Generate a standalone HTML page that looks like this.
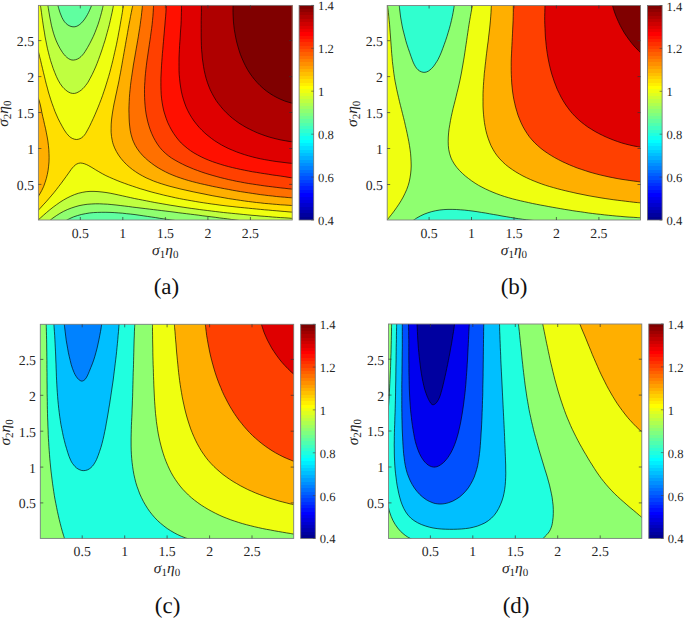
<!DOCTYPE html>
<html><head><meta charset="utf-8"><style>
html,body{margin:0;padding:0;background:#fff;}
svg{display:block;}
text{font-family:"Liberation Serif",serif;fill:#262626;text-rendering:geometricPrecision;}
.tl{font-size:13.8px;}
.al{font-size:15.5px;}
.cbl{font-size:12.6px;}
.cap{font-size:23px;fill:#111;}
</style></head><body>
<svg width="685" height="619" viewBox="0 0 685 619">
<defs><linearGradient id="jetg" x1="0" y1="0" x2="0" y2="1"><stop offset="0.0000" stop-color="#800000"/><stop offset="0.0156" stop-color="#800000"/><stop offset="0.0156" stop-color="#8F0000"/><stop offset="0.0312" stop-color="#8F0000"/><stop offset="0.0312" stop-color="#9F0000"/><stop offset="0.0469" stop-color="#9F0000"/><stop offset="0.0469" stop-color="#AF0000"/><stop offset="0.0625" stop-color="#AF0000"/><stop offset="0.0625" stop-color="#BF0000"/><stop offset="0.0781" stop-color="#BF0000"/><stop offset="0.0781" stop-color="#CF0000"/><stop offset="0.0938" stop-color="#CF0000"/><stop offset="0.0938" stop-color="#DF0000"/><stop offset="0.1094" stop-color="#DF0000"/><stop offset="0.1094" stop-color="#EF0000"/><stop offset="0.1250" stop-color="#EF0000"/><stop offset="0.1250" stop-color="#FF0000"/><stop offset="0.1406" stop-color="#FF0000"/><stop offset="0.1406" stop-color="#FF1000"/><stop offset="0.1562" stop-color="#FF1000"/><stop offset="0.1562" stop-color="#FF2000"/><stop offset="0.1719" stop-color="#FF2000"/><stop offset="0.1719" stop-color="#FF3000"/><stop offset="0.1875" stop-color="#FF3000"/><stop offset="0.1875" stop-color="#FF4000"/><stop offset="0.2031" stop-color="#FF4000"/><stop offset="0.2031" stop-color="#FF5000"/><stop offset="0.2188" stop-color="#FF5000"/><stop offset="0.2188" stop-color="#FF6000"/><stop offset="0.2344" stop-color="#FF6000"/><stop offset="0.2344" stop-color="#FF7000"/><stop offset="0.2500" stop-color="#FF7000"/><stop offset="0.2500" stop-color="#FF8000"/><stop offset="0.2656" stop-color="#FF8000"/><stop offset="0.2656" stop-color="#FF8F00"/><stop offset="0.2812" stop-color="#FF8F00"/><stop offset="0.2812" stop-color="#FF9F00"/><stop offset="0.2969" stop-color="#FF9F00"/><stop offset="0.2969" stop-color="#FFAF00"/><stop offset="0.3125" stop-color="#FFAF00"/><stop offset="0.3125" stop-color="#FFBF00"/><stop offset="0.3281" stop-color="#FFBF00"/><stop offset="0.3281" stop-color="#FFCF00"/><stop offset="0.3438" stop-color="#FFCF00"/><stop offset="0.3438" stop-color="#FFDF00"/><stop offset="0.3594" stop-color="#FFDF00"/><stop offset="0.3594" stop-color="#FFEF00"/><stop offset="0.3750" stop-color="#FFEF00"/><stop offset="0.3750" stop-color="#FFFF00"/><stop offset="0.3906" stop-color="#FFFF00"/><stop offset="0.3906" stop-color="#EFFF10"/><stop offset="0.4062" stop-color="#EFFF10"/><stop offset="0.4062" stop-color="#DFFF20"/><stop offset="0.4219" stop-color="#DFFF20"/><stop offset="0.4219" stop-color="#CFFF30"/><stop offset="0.4375" stop-color="#CFFF30"/><stop offset="0.4375" stop-color="#BFFF40"/><stop offset="0.4531" stop-color="#BFFF40"/><stop offset="0.4531" stop-color="#AFFF50"/><stop offset="0.4688" stop-color="#AFFF50"/><stop offset="0.4688" stop-color="#9FFF60"/><stop offset="0.4844" stop-color="#9FFF60"/><stop offset="0.4844" stop-color="#8FFF70"/><stop offset="0.5000" stop-color="#8FFF70"/><stop offset="0.5000" stop-color="#80FF80"/><stop offset="0.5156" stop-color="#80FF80"/><stop offset="0.5156" stop-color="#70FF8F"/><stop offset="0.5312" stop-color="#70FF8F"/><stop offset="0.5312" stop-color="#60FF9F"/><stop offset="0.5469" stop-color="#60FF9F"/><stop offset="0.5469" stop-color="#50FFAF"/><stop offset="0.5625" stop-color="#50FFAF"/><stop offset="0.5625" stop-color="#40FFBF"/><stop offset="0.5781" stop-color="#40FFBF"/><stop offset="0.5781" stop-color="#30FFCF"/><stop offset="0.5938" stop-color="#30FFCF"/><stop offset="0.5938" stop-color="#20FFDF"/><stop offset="0.6094" stop-color="#20FFDF"/><stop offset="0.6094" stop-color="#10FFEF"/><stop offset="0.6250" stop-color="#10FFEF"/><stop offset="0.6250" stop-color="#00FFFF"/><stop offset="0.6406" stop-color="#00FFFF"/><stop offset="0.6406" stop-color="#00EFFF"/><stop offset="0.6562" stop-color="#00EFFF"/><stop offset="0.6562" stop-color="#00DFFF"/><stop offset="0.6719" stop-color="#00DFFF"/><stop offset="0.6719" stop-color="#00CFFF"/><stop offset="0.6875" stop-color="#00CFFF"/><stop offset="0.6875" stop-color="#00BFFF"/><stop offset="0.7031" stop-color="#00BFFF"/><stop offset="0.7031" stop-color="#00AFFF"/><stop offset="0.7188" stop-color="#00AFFF"/><stop offset="0.7188" stop-color="#009FFF"/><stop offset="0.7344" stop-color="#009FFF"/><stop offset="0.7344" stop-color="#008FFF"/><stop offset="0.7500" stop-color="#008FFF"/><stop offset="0.7500" stop-color="#0080FF"/><stop offset="0.7656" stop-color="#0080FF"/><stop offset="0.7656" stop-color="#0070FF"/><stop offset="0.7812" stop-color="#0070FF"/><stop offset="0.7812" stop-color="#0060FF"/><stop offset="0.7969" stop-color="#0060FF"/><stop offset="0.7969" stop-color="#0050FF"/><stop offset="0.8125" stop-color="#0050FF"/><stop offset="0.8125" stop-color="#0040FF"/><stop offset="0.8281" stop-color="#0040FF"/><stop offset="0.8281" stop-color="#0030FF"/><stop offset="0.8438" stop-color="#0030FF"/><stop offset="0.8438" stop-color="#0020FF"/><stop offset="0.8594" stop-color="#0020FF"/><stop offset="0.8594" stop-color="#0010FF"/><stop offset="0.8750" stop-color="#0010FF"/><stop offset="0.8750" stop-color="#0000FF"/><stop offset="0.8906" stop-color="#0000FF"/><stop offset="0.8906" stop-color="#0000EF"/><stop offset="0.9062" stop-color="#0000EF"/><stop offset="0.9062" stop-color="#0000DF"/><stop offset="0.9219" stop-color="#0000DF"/><stop offset="0.9219" stop-color="#0000CF"/><stop offset="0.9375" stop-color="#0000CF"/><stop offset="0.9375" stop-color="#0000BF"/><stop offset="0.9531" stop-color="#0000BF"/><stop offset="0.9531" stop-color="#0000AF"/><stop offset="0.9688" stop-color="#0000AF"/><stop offset="0.9688" stop-color="#00009F"/><stop offset="0.9844" stop-color="#00009F"/><stop offset="0.9844" stop-color="#00008F"/><stop offset="1.0000" stop-color="#00008F"/></linearGradient></defs>
<rect width="685" height="619" fill="#fff"/>
<clipPath id="cpa"><rect x="38.4" y="5.4" width="253.8" height="214.6"/></clipPath>
<g clip-path="url(#cpa)">
<path d="M37.4 4.4H293.1V221H37.4Z" fill="#FFDF00"/>
<path d="M37.5 48.5C37.7 49.2 38.2 51.2 38.6 52.5C38.9 53.8 39.2 55.1 39.6 56.5C39.9 57.8 40.2 59.1 40.6 60.4C40.9 61.8 41.2 63.1 41.5 64.4C41.8 65.7 42.2 67.1 42.5 68.4C42.8 69.7 43.1 71 43.4 72.3C43.7 73.7 44 75 44.4 76.3C44.7 77.6 45 78.9 45.3 80.2C45.7 81.6 46 82.9 46.3 84.2C46.7 85.5 47 86.8 47.4 88.1C47.7 89.4 48.1 90.7 48.4 92C48.8 93.3 49.2 94.6 49.6 95.9C50 97.2 50.4 98.5 50.8 99.8C51.2 101.1 51.6 102.3 52.1 103.6C52.5 104.9 53 106.2 53.5 107.4C53.9 108.7 54.4 110 54.9 111.3C55.5 112.5 56 113.8 56.5 115C57.1 116.3 57.7 117.5 58.2 118.8C58.8 120 59.4 121.3 60.1 122.5C60.7 123.8 61.4 125 62.1 126.2C62.7 127.5 63.4 128.7 64.2 129.9C64.9 131.1 65.7 132.3 66.6 133.4C67.4 134.5 68.3 135.5 69.3 136.4C70.4 137.3 71.5 138.1 72.7 138.6C73.9 139.1 75.1 139.4 76.4 139.5C77.6 139.5 78.8 139.2 80 138.7C81.1 138.2 82.1 137.5 83.1 136.6C84 135.7 84.8 134.7 85.6 133.5C86.3 132.4 87 131.2 87.6 129.9C88.3 128.7 88.9 127.4 89.6 126.2C90.2 124.9 90.8 123.7 91.4 122.4C92 121.1 92.6 119.9 93.2 118.6C93.8 117.4 94.3 116.1 94.9 114.8C95.4 113.6 96 112.3 96.5 111C97.1 109.7 97.6 108.5 98.1 107.2C98.6 105.9 99.1 104.7 99.6 103.4C100.1 102.1 100.6 100.8 101.1 99.5C101.5 98.3 102 97 102.5 95.7C102.9 94.4 103.4 93.1 103.8 91.8C104.2 90.6 104.7 89.3 105.1 88C105.5 86.7 105.9 85.4 106.3 84.1C106.7 82.8 107.1 81.5 107.5 80.2C107.9 78.9 108.3 77.6 108.7 76.3C109 75 109.4 73.7 109.8 72.4C110.1 71.1 110.5 69.8 110.8 68.5C111.2 67.2 111.5 65.9 111.8 64.6C112.2 63.3 112.5 61.9 112.8 60.6C113.1 59.3 113.4 58 113.7 56.7C114 55.4 114.3 54 114.6 52.7C114.9 51.4 115.2 50.1 115.5 48.8C115.8 47.4 116.1 46.1 116.4 44.8C116.6 43.5 116.9 42.1 117.2 40.8C117.4 39.5 117.7 38.1 118 36.8C118.2 35.5 118.5 34.1 118.7 32.8C119 31.5 119.2 30.1 119.5 28.8C119.7 27.4 120 26.1 120.2 24.8C120.4 23.4 120.7 22.1 120.9 20.7C121.1 19.4 121.4 18 121.6 16.7C121.8 15.3 122 14 122.3 12.6C122.5 11.3 122.7 9.9 122.9 8.6C123.2 7.2 123.5 5.2 123.6 4.5L37.4 4.4Z" fill="#EFFF10"/>
<path d="M37.5 211C38 210.5 39.5 209 40.4 208C41.4 206.9 42.3 205.9 43.2 204.9C44.2 203.9 45.1 202.9 46 201.9C46.9 200.9 47.7 199.9 48.6 198.9C49.5 197.9 50.4 196.9 51.2 195.9C52.1 194.9 52.9 193.8 53.8 192.8C54.6 191.8 55.4 190.7 56.3 189.7C57.1 188.7 57.9 187.6 58.7 186.5C59.6 185.5 60.4 184.4 61.2 183.3C62 182.2 62.8 181.1 63.6 180C64.5 178.9 65.3 177.8 66.1 176.6C66.9 175.5 67.7 174.3 68.6 173.1C69.4 171.9 70.2 170.7 71.1 169.5C72 168.4 72.8 167.3 73.8 166.4C74.7 165.4 75.7 164.6 76.8 164C77.9 163.5 79 163.1 80.3 163C81.5 163 82.9 163.3 84.2 163.7C85.6 164.1 87 164.8 88.2 165.4C89.5 166 90.7 166.8 91.9 167.5C93.1 168.2 94.2 168.9 95.3 169.6C96.5 170.3 97.6 171.1 98.8 171.7C99.9 172.4 101.1 173.1 102.3 173.7C103.5 174.4 104.7 175 105.9 175.6C107.1 176.2 108.3 176.7 109.6 177.3C110.8 177.9 112.1 178.4 113.3 178.9C114.6 179.5 115.8 180 117.1 180.5C118.4 181 119.6 181.5 120.9 182C122.2 182.5 123.4 183 124.7 183.4C126 183.9 127.3 184.4 128.6 184.8C129.8 185.3 131.1 185.7 132.4 186.1C133.7 186.6 135 187 136.3 187.4C137.6 187.8 138.9 188.3 140.2 188.7C141.5 189.1 142.8 189.5 144.1 189.8C145.4 190.2 146.7 190.6 148 191C149.3 191.3 150.6 191.7 151.9 192.1C153.2 192.4 154.5 192.8 155.8 193.1C157.1 193.5 158.4 193.8 159.8 194.1C161.1 194.5 162.4 194.8 163.7 195.1C165 195.4 166.4 195.7 167.7 196C169 196.3 170.3 196.6 171.7 196.9C173 197.2 174.3 197.5 175.6 197.8C177 198 178.3 198.3 179.6 198.6C181 198.8 182.3 199.1 183.6 199.4C185 199.6 186.3 199.9 187.6 200.1C189 200.4 190.3 200.6 191.7 200.8C193 201.1 194.3 201.3 195.7 201.5C197 201.7 198.4 202 199.7 202.2C201.1 202.4 202.4 202.6 203.7 202.8C205.1 203 206.4 203.2 207.8 203.4C209.1 203.6 210.5 203.8 211.8 204C213.2 204.2 214.5 204.3 215.9 204.5C217.2 204.7 218.6 204.9 219.9 205.1C221.3 205.2 222.6 205.4 224 205.6C225.3 205.7 226.7 205.9 228 206.1C229.4 206.2 230.8 206.4 232.1 206.5C233.5 206.7 234.8 206.8 236.2 207C237.5 207.1 238.9 207.3 240.2 207.4C241.6 207.6 242.9 207.7 244.3 207.8C245.7 208 247 208.1 248.4 208.2C249.7 208.4 251.1 208.5 252.4 208.6C253.8 208.8 255.1 208.9 256.5 209C257.9 209.1 259.2 209.3 260.6 209.4C261.9 209.5 263.3 209.6 264.6 209.8C266 209.9 267.3 210 268.7 210.1C270 210.2 271.4 210.4 272.8 210.5C274.1 210.6 275.5 210.7 276.8 210.8C278.2 210.9 279.5 211.1 280.9 211.2C282.2 211.3 283.6 211.4 284.9 211.5C286.3 211.6 287.6 211.7 289 211.9C290.3 212 292.3 212.1 293 212.2L293.1 221L37.4 221Z" fill="#EFFF10"/>
<path d="M40.3 4.5C40.4 5.2 40.7 7.2 40.9 8.6C41.1 10 41.3 11.3 41.5 12.7C41.7 14 41.8 15.4 42 16.8C42.2 18.1 42.4 19.5 42.6 20.8C42.8 22.2 43 23.5 43.2 24.9C43.4 26.2 43.6 27.5 43.8 28.9C44 30.2 44.2 31.6 44.5 32.9C44.7 34.2 44.9 35.6 45.1 36.9C45.4 38.2 45.6 39.6 45.9 40.9C46.1 42.2 46.4 43.5 46.7 44.9C47 46.2 47.2 47.5 47.5 48.8C47.8 50.2 48.2 51.5 48.5 52.8C48.8 54.1 49.1 55.4 49.5 56.7C49.9 58.1 50.2 59.4 50.6 60.7C51 62 51.4 63.3 51.9 64.6C52.3 65.9 52.7 67.2 53.2 68.5C53.7 69.8 54.2 71.1 54.7 72.4C55.2 73.7 55.7 75.1 56.3 76.3C56.8 77.6 57.4 78.9 58.1 80.1C58.7 81.3 59.4 82.5 60.2 83.7C60.9 84.8 61.7 85.9 62.6 87C63.5 88 64.4 89 65.5 89.8C66.5 90.7 67.6 91.6 68.8 92.2C69.9 92.8 71.2 93.3 72.4 93.4C73.7 93.6 75 93.4 76.2 93C77.4 92.6 78.6 91.9 79.7 91.2C80.8 90.5 81.8 89.7 82.8 88.7C83.8 87.8 84.7 86.7 85.5 85.6C86.4 84.6 87.2 83.4 88 82.2C88.7 81 89.5 79.7 90.1 78.4C90.8 77.2 91.5 75.9 92.1 74.6C92.7 73.3 93.3 72 93.9 70.8C94.5 69.5 95 68.3 95.6 67C96.1 65.8 96.6 64.5 97.1 63.3C97.6 62.1 98.1 60.8 98.5 59.6C99 58.3 99.5 57.1 99.9 55.8C100.4 54.6 100.8 53.3 101.2 52.1C101.7 50.8 102.1 49.5 102.5 48.2C102.9 47 103.3 45.7 103.7 44.4C104.2 43.1 104.6 41.7 105 40.4C105.4 39.1 105.7 37.8 106.1 36.5C106.5 35.1 106.9 33.8 107.2 32.5C107.6 31.1 108 29.8 108.3 28.5C108.7 27.1 109 25.8 109.4 24.4C109.7 23.1 110 21.7 110.3 20.4C110.6 19.1 110.9 17.7 111.2 16.4C111.5 15.1 111.8 13.7 112.1 12.4C112.4 11.1 112.6 9.7 112.9 8.4C113.1 7.1 113.5 5.2 113.6 4.5Z" fill="#BFFF40"/>
<path d="M37.6 220.6C38.1 220.2 39.5 218.8 40.5 217.9C41.5 217 42.4 216.1 43.5 215.2C44.5 214.3 45.5 213.4 46.6 212.5C47.6 211.6 48.7 210.7 49.8 209.8C50.8 209 51.9 208.1 53.1 207.2C54.2 206.4 55.3 205.5 56.5 204.7C57.6 203.9 58.8 203.1 59.9 202.3C61.1 201.5 62.3 200.8 63.5 200C64.7 199.3 65.9 198.6 67.1 198C68.3 197.3 69.6 196.7 70.8 196.2C72 195.6 73.3 195.1 74.5 194.6C75.8 194.1 77.1 193.7 78.3 193.3C79.6 192.9 80.9 192.6 82.2 192.4C83.5 192.1 84.8 191.9 86.1 191.7C87.4 191.6 88.7 191.5 90 191.4C91.3 191.4 92.6 191.3 94 191.4C95.3 191.4 96.6 191.5 98 191.6C99.3 191.7 100.6 191.8 102 192C103.3 192.1 104.7 192.3 106 192.5C107.4 192.7 108.7 193 110.1 193.2C111.4 193.5 112.8 193.7 114.1 194C115.5 194.3 116.8 194.6 118.2 194.9C119.5 195.2 120.9 195.5 122.3 195.8C123.6 196.1 125 196.4 126.3 196.7C127.7 197 129.1 197.3 130.4 197.6C131.8 197.9 133.1 198.2 134.5 198.5C135.8 198.8 137.2 199 138.5 199.3C139.9 199.6 141.2 199.9 142.6 200.1C143.9 200.4 145.3 200.7 146.7 200.9C148 201.2 149.4 201.5 150.7 201.7C152.1 202 153.4 202.2 154.8 202.5C156.1 202.7 157.5 203 158.8 203.2C160.2 203.4 161.5 203.7 162.9 203.9C164.2 204.1 165.6 204.4 166.9 204.6C168.3 204.8 169.6 205.1 170.9 205.3C172.3 205.5 173.6 205.7 175 205.9C176.3 206.2 177.7 206.4 179 206.6C180.4 206.8 181.7 207 183.1 207.2C184.4 207.4 185.8 207.6 187.1 207.8C188.5 208 189.8 208.2 191.2 208.4C192.5 208.6 193.9 208.8 195.2 208.9C196.6 209.1 197.9 209.3 199.3 209.5C200.6 209.7 201.9 209.8 203.3 210C204.6 210.2 206 210.4 207.3 210.5C208.7 210.7 210 210.9 211.4 211C212.7 211.2 214.1 211.4 215.4 211.5C216.8 211.7 218.1 211.8 219.5 212C220.8 212.2 222.2 212.3 223.5 212.5C224.9 212.6 226.2 212.7 227.6 212.9C228.9 213 230.3 213.2 231.7 213.3C233 213.5 234.4 213.6 235.7 213.7C237.1 213.9 238.4 214 239.8 214.1C241.1 214.3 242.5 214.4 243.8 214.5C245.2 214.7 246.6 214.8 247.9 214.9C249.3 215 250.6 215.2 252 215.3C253.3 215.4 254.7 215.5 256.1 215.6C257.4 215.8 258.8 215.9 260.1 216C261.5 216.1 262.9 216.2 264.2 216.3C265.6 216.4 267 216.5 268.3 216.6C269.7 216.7 271.1 216.8 272.4 217C273.8 217.1 275.2 217.2 276.5 217.3C277.9 217.4 279.3 217.5 280.6 217.6C282 217.7 283.4 217.8 284.8 217.8C286.1 217.9 287.5 218 288.9 218.1C290.2 218.2 292.3 218.4 293 218.4L293.1 221Z" fill="#BFFF40"/>
<path d="M47.7 4.5C47.8 5.2 48.2 7.3 48.4 8.7C48.7 10.1 48.9 11.5 49.1 12.9C49.4 14.3 49.6 15.7 49.8 17C50.1 18.4 50.3 19.8 50.6 21.1C50.9 22.5 51.1 23.8 51.4 25.2C51.7 26.5 52 27.9 52.4 29.2C52.7 30.5 53.1 31.9 53.5 33.2C53.9 34.5 54.3 35.8 54.8 37.1C55.2 38.4 55.7 39.7 56.3 41C56.8 42.4 57.4 43.7 58.1 44.9C58.7 46.2 59.4 47.5 60.2 48.8C60.9 50.1 61.8 51.4 62.6 52.6C63.5 53.8 64.4 55 65.4 56C66.4 57 67.4 58 68.5 58.6C69.6 59.3 70.7 59.8 71.9 60C73.1 60.2 74.4 60.1 75.7 59.7C76.9 59.4 78.2 58.7 79.4 57.9C80.5 57.2 81.5 56.1 82.5 55C83.5 54 84.3 52.7 85.2 51.4C86 50.2 86.7 48.8 87.5 47.6C88.2 46.3 88.9 45.1 89.6 43.8C90.2 42.6 90.9 41.4 91.5 40.1C92.1 38.9 92.7 37.7 93.3 36.4C93.8 35.2 94.4 33.9 94.9 32.7C95.4 31.4 95.9 30.1 96.4 28.8C96.9 27.5 97.4 26.1 97.9 24.8C98.3 23.5 98.7 22.1 99.2 20.8C99.6 19.4 100 18.1 100.4 16.7C100.8 15.4 101.1 14 101.5 12.6C101.8 11.3 102.2 9.9 102.5 8.6C102.8 7.2 103.2 5.2 103.4 4.5Z" fill="#8FFF70"/>
<path d="M49.5 220.8C50.1 220.4 51.7 219 52.8 218.1C54 217.3 55.1 216.4 56.3 215.7C57.5 214.9 58.7 214.1 59.9 213.4C61.1 212.7 62.3 212 63.5 211.4C64.8 210.8 66 210.2 67.3 209.6C68.6 209.1 69.9 208.6 71.2 208.1C72.5 207.6 73.8 207.2 75.1 206.8C76.4 206.4 77.7 206 79 205.7C80.4 205.4 81.7 205.2 83.1 204.9C84.4 204.7 85.7 204.5 87.1 204.3C88.5 204.2 89.8 204.1 91.2 204C92.5 203.9 93.9 203.9 95.3 203.8C96.6 203.8 98 203.8 99.4 203.8C100.8 203.8 102.2 203.9 103.5 204C104.9 204 106.3 204.1 107.7 204.2C109.1 204.3 110.5 204.5 111.9 204.6C113.3 204.7 114.6 204.9 116 205C117.4 205.2 118.8 205.3 120.2 205.5C121.6 205.7 123 205.9 124.4 206C125.8 206.2 127.2 206.4 128.6 206.5C129.9 206.7 131.3 206.9 132.7 207.1C134.1 207.2 135.5 207.4 136.9 207.6C138.2 207.7 139.6 207.9 141 208.1C142.4 208.3 143.8 208.4 145.2 208.6C146.5 208.8 147.9 208.9 149.3 209.1C150.7 209.3 152.1 209.4 153.4 209.6C154.8 209.8 156.2 209.9 157.6 210.1C158.9 210.3 160.3 210.5 161.7 210.6C163.1 210.8 164.4 211 165.8 211.1C167.2 211.3 168.6 211.5 169.9 211.6C171.3 211.8 172.7 212 174 212.1C175.4 212.3 176.8 212.5 178.2 212.7C179.5 212.8 180.9 213 182.3 213.2C183.6 213.3 185 213.5 186.4 213.7C187.8 213.9 189.1 214 190.5 214.2C191.9 214.4 193.2 214.5 194.6 214.7C196 214.9 197.4 215.1 198.7 215.2C200.1 215.4 201.5 215.6 202.8 215.8C204.2 215.9 205.6 216.1 207 216.3C208.3 216.5 209.7 216.6 211.1 216.8C212.5 217 213.8 217.2 215.2 217.3C216.6 217.5 218 217.7 219.3 217.9C220.7 218 222.1 218.2 223.5 218.4C224.8 218.6 226.2 218.8 227.6 218.9C229 219.1 230.3 219.3 231.7 219.5C233.1 219.7 234.5 219.9 235.9 220C237.2 220.2 239.3 220.5 240 220.6Z" fill="#8FFF70"/>
<path d="M57.6 4.5C57.8 5.1 58.3 7 58.7 8.4C59.2 9.8 59.6 11.4 60.1 12.9C60.7 14.4 61.3 16.1 62 17.6C62.7 19 63.6 20.5 64.5 21.8C65.5 23 66.7 24.2 67.9 25C69.2 25.8 70.7 26.5 72 26.7C73.4 27 74.8 26.9 76.1 26.5C77.4 26.1 78.7 25.3 79.8 24.4C81 23.5 82.2 22.3 83.2 21C84.3 19.8 85.2 18.3 86.1 16.9C87 15.4 87.9 13.8 88.6 12.4C89.3 10.9 90 9.4 90.5 8.1C91.1 6.8 91.7 5.1 91.9 4.5Z" fill="#60FFA0"/>
<path d="M66 220.6C66.6 220.3 68.5 219.2 69.7 218.6C71 218 72.2 217.4 73.5 216.9C74.8 216.4 76.1 216 77.4 215.6C78.7 215.2 80 214.8 81.3 214.5C82.6 214.2 84 213.9 85.3 213.7C86.7 213.4 88 213.2 89.4 213C90.7 212.9 92.1 212.7 93.4 212.6C94.8 212.5 96.2 212.4 97.6 212.4C98.9 212.3 100.3 212.3 101.7 212.3C103.1 212.3 104.5 212.3 105.9 212.3C107.2 212.3 108.6 212.4 110 212.4C111.4 212.5 112.8 212.5 114.2 212.6C115.6 212.7 116.9 212.8 118.3 212.9C119.7 213 121.1 213.1 122.5 213.2C123.9 213.4 125.3 213.5 126.6 213.7C128 213.8 129.4 214 130.8 214.1C132.2 214.3 133.6 214.5 135 214.6C136.3 214.8 137.7 215 139.1 215.2C140.5 215.4 141.9 215.6 143.2 215.8C144.6 216 146 216.2 147.4 216.4C148.8 216.6 150.1 216.8 151.5 217C152.9 217.2 154.2 217.4 155.6 217.6C157 217.9 158.4 218.1 159.7 218.3C161.1 218.5 162.5 218.7 163.8 218.9C165.2 219.1 166.5 219.3 167.9 219.5C169.2 219.7 170.6 219.9 172 220.1C173.3 220.2 175.3 220.5 176 220.6Z" fill="#60FFA0"/>
<path d="M37.5 96.5C37.7 97.1 38.5 98.8 39 100.1C39.4 101.3 39.7 102.6 40.1 104C40.4 105.3 40.7 106.7 41 108C41.3 109.4 41.5 110.8 41.8 112.2C42.1 113.6 42.4 115 42.7 116.4C43 117.8 43.3 119.2 43.7 120.5C44 121.9 44.3 123.3 44.6 124.7C45 126 45.3 127.4 45.6 128.8C45.9 130.2 46.2 131.5 46.4 132.9C46.7 134.3 47 135.6 47.2 137C47.4 138.4 47.7 139.8 47.9 141.1C48.1 142.5 48.3 143.9 48.4 145.3C48.6 146.6 48.7 148 48.8 149.4C48.9 150.8 49 152.2 49 153.6C49.1 154.9 49.1 156.3 49.1 157.7C49.1 159.1 49 160.5 49 161.9C48.9 163.3 48.8 164.8 48.6 166.2C48.5 167.6 48.3 169 48.1 170.4C47.9 171.8 47.6 173.2 47.3 174.5C47 175.9 46.7 177.3 46.3 178.6C45.9 180 45.5 181.4 45 182.7C44.6 184 44.1 185.3 43.6 186.6C43 187.9 42.4 189.2 41.8 190.4C41.2 191.6 40.5 192.9 39.8 194C39.1 195.2 37.9 196.9 37.5 197.5Z" fill="#FFAF00"/>
<path d="M133 4.5C132.9 5.2 132.4 7.2 132.1 8.5C131.9 9.8 131.6 11.1 131.3 12.5C131.1 13.8 130.8 15.1 130.5 16.4C130.3 17.8 130 19.1 129.8 20.4C129.5 21.8 129.3 23.1 129 24.4C128.8 25.7 128.5 27.1 128.3 28.4C128 29.7 127.8 31 127.6 32.4C127.3 33.7 127.1 35 126.9 36.4C126.6 37.7 126.4 39 126.2 40.3C125.9 41.7 125.7 43 125.5 44.3C125.2 45.7 125 47 124.8 48.3C124.6 49.6 124.3 51 124.1 52.3C123.9 53.6 123.7 54.9 123.4 56.3C123.2 57.6 123 58.9 122.7 60.2C122.5 61.6 122.3 62.9 122 64.2C121.8 65.6 121.6 66.9 121.3 68.2C121.1 69.5 120.8 70.9 120.6 72.2C120.3 73.5 120.1 74.8 119.8 76.2C119.6 77.5 119.3 78.8 119.1 80.1C118.8 81.5 118.5 82.8 118.3 84.1C118 85.4 117.7 86.7 117.4 88.1C117.2 89.4 116.9 90.7 116.6 92C116.3 93.4 116 94.7 115.7 96C115.4 97.3 115.1 98.6 114.9 100C114.6 101.3 114.3 102.6 114 104C113.8 105.3 113.5 106.6 113.3 107.9C113 109.3 112.8 110.6 112.6 112C112.4 113.3 112.2 114.6 112 116C111.8 117.3 111.7 118.7 111.5 120C111.4 121.4 111.3 122.8 111.2 124.1C111.1 125.5 111.1 126.9 111.1 128.2C111.1 129.6 111.1 131 111.1 132.3C111.2 133.7 111.3 135 111.5 136.4C111.7 137.7 111.9 139 112.2 140.3C112.4 141.6 112.8 142.9 113.2 144.2C113.6 145.5 114.1 146.7 114.6 147.9C115.1 149.2 115.7 150.4 116.4 151.5C117 152.7 117.7 153.9 118.5 155C119.2 156.1 120 157.2 120.9 158.3C121.7 159.3 122.6 160.4 123.5 161.4C124.4 162.4 125.4 163.4 126.3 164.3C127.3 165.2 128.3 166.1 129.3 167C130.3 167.9 131.4 168.7 132.4 169.5C133.5 170.3 134.6 171.1 135.7 171.8C136.8 172.6 137.9 173.3 139.1 174C140.2 174.7 141.4 175.3 142.5 175.9C143.7 176.6 144.9 177.2 146.1 177.8C147.3 178.3 148.5 178.9 149.8 179.4C151 180 152.3 180.5 153.5 181C154.8 181.5 156 181.9 157.3 182.4C158.6 182.8 159.9 183.3 161.2 183.7C162.5 184.1 163.8 184.5 165.1 184.9C166.4 185.3 167.7 185.7 169.1 186.1C170.4 186.4 171.7 186.8 173 187.1C174.4 187.5 175.7 187.8 177 188.1C178.4 188.4 179.7 188.8 181 189.1C182.4 189.4 183.7 189.7 185.1 190C186.4 190.3 187.7 190.6 189.1 190.9C190.4 191.2 191.7 191.5 193.1 191.8C194.4 192 195.7 192.3 197 192.6C198.4 192.9 199.7 193.2 201 193.4C202.3 193.7 203.7 194 205 194.2C206.3 194.5 207.6 194.8 208.9 195C210.3 195.3 211.6 195.5 212.9 195.8C214.2 196 215.5 196.3 216.9 196.5C218.2 196.8 219.5 197 220.8 197.2C222.1 197.5 223.4 197.7 224.8 197.9C226.1 198.1 227.4 198.4 228.7 198.6C230 198.8 231.3 199 232.7 199.2C234 199.4 235.3 199.6 236.6 199.8C237.9 200 239.3 200.2 240.6 200.4C241.9 200.6 243.2 200.8 244.6 201C245.9 201.1 247.2 201.3 248.5 201.5C249.9 201.7 251.2 201.8 252.5 202C253.8 202.2 255.2 202.3 256.5 202.5C257.8 202.6 259.2 202.8 260.5 202.9C261.8 203.1 263.2 203.2 264.5 203.4C265.8 203.5 267.2 203.6 268.5 203.7C269.9 203.9 271.2 204 272.6 204.1C273.9 204.2 275.3 204.3 276.6 204.4C278 204.6 279.3 204.7 280.7 204.8C282 204.9 283.4 204.9 284.8 205C286.1 205.1 287.5 205.2 288.9 205.3C290.2 205.4 292.3 205.5 293 205.5L293.1 4.4Z" fill="#FFAF00"/>
<path d="M142.5 4.5C142.4 5.2 142.3 7.2 142.2 8.5C142 9.9 141.9 11.2 141.7 12.6C141.6 13.9 141.4 15.3 141.3 16.6C141.1 18 140.9 19.3 140.7 20.7C140.6 22 140.4 23.3 140.2 24.7C140 26 139.8 27.4 139.6 28.7C139.4 30.1 139.2 31.4 138.9 32.8C138.7 34.1 138.5 35.4 138.3 36.8C138.1 38.1 137.8 39.5 137.6 40.8C137.4 42.2 137.1 43.5 136.9 44.9C136.7 46.2 136.4 47.5 136.2 48.9C136 50.2 135.7 51.6 135.5 52.9C135.3 54.3 135 55.6 134.8 57C134.6 58.3 134.3 59.7 134.1 61C133.9 62.4 133.7 63.7 133.4 65C133.2 66.4 133 67.7 132.8 69.1C132.6 70.4 132.4 71.8 132.2 73.1C132 74.5 131.8 75.8 131.6 77.2C131.4 78.5 131.2 79.9 131 81.2C130.9 82.6 130.7 83.9 130.5 85.3C130.4 86.7 130.2 88 130.1 89.4C130 90.7 129.8 92.1 129.7 93.4C129.6 94.8 129.5 96.1 129.4 97.5C129.3 98.9 129.2 100.2 129.2 101.6C129.1 102.9 129.1 104.3 129 105.7C129 107 128.9 108.4 128.9 109.8C128.9 111.1 128.9 112.5 129 113.8C129 115.2 129 116.6 129.1 118C129.1 119.3 129.2 120.7 129.3 122.1C129.4 123.4 129.5 124.8 129.7 126.1C129.8 127.5 130 128.9 130.2 130.2C130.4 131.5 130.7 132.9 131 134.2C131.3 135.5 131.7 136.8 132.1 138C132.5 139.3 132.9 140.6 133.5 141.8C134 143 134.6 144.2 135.2 145.4C135.8 146.5 136.5 147.7 137.3 148.8C138.1 149.9 138.9 151 139.7 152.1C140.6 153.1 141.5 154.2 142.4 155.2C143.3 156.2 144.3 157.1 145.3 158.1C146.3 159 147.3 159.9 148.4 160.8C149.4 161.7 150.5 162.5 151.6 163.3C152.7 164.2 153.8 165 154.9 165.7C156 166.5 157.2 167.2 158.3 167.9C159.5 168.6 160.7 169.3 161.8 169.9C163 170.6 164.2 171.2 165.4 171.8C166.7 172.4 167.9 173 169.1 173.6C170.4 174.1 171.6 174.7 172.9 175.2C174.1 175.7 175.4 176.2 176.7 176.7C177.9 177.1 179.2 177.6 180.5 178C181.8 178.5 183.1 178.9 184.4 179.3C185.7 179.7 187 180.1 188.4 180.5C189.7 180.9 191 181.3 192.3 181.6C193.7 182 195 182.3 196.3 182.6C197.7 183 199 183.3 200.3 183.6C201.7 183.9 203 184.2 204.4 184.5C205.7 184.8 207 185.1 208.4 185.4C209.7 185.7 211.1 186 212.4 186.3C213.7 186.6 215.1 186.8 216.4 187.1C217.8 187.4 219.1 187.6 220.4 187.9C221.8 188.2 223.1 188.4 224.4 188.7C225.7 188.9 227.1 189.2 228.4 189.4C229.7 189.7 231.1 189.9 232.4 190.2C233.7 190.4 235 190.6 236.4 190.9C237.7 191.1 239 191.3 240.4 191.6C241.7 191.8 243 192 244.3 192.2C245.7 192.4 247 192.6 248.3 192.8C249.7 193 251 193.2 252.3 193.4C253.7 193.6 255 193.8 256.3 194C257.7 194.2 259 194.4 260.3 194.6C261.7 194.7 263 194.9 264.4 195.1C265.7 195.2 267.1 195.4 268.4 195.6C269.8 195.7 271.1 195.9 272.5 196C273.8 196.2 275.2 196.3 276.5 196.5C277.9 196.6 279.2 196.7 280.6 196.9C282 197 283.3 197.1 284.7 197.2C286.1 197.4 287.5 197.5 288.8 197.6C290.2 197.7 292.3 197.8 293 197.9L293.1 4.4Z" fill="#FF7000"/>
<path d="M153.6 4.5C153.6 5.2 153.5 7.2 153.4 8.5C153.4 9.8 153.3 11.2 153.2 12.5C153.1 13.8 153 15.2 152.9 16.5C152.8 17.9 152.6 19.2 152.5 20.6C152.4 21.9 152.2 23.2 152.1 24.6C151.9 25.9 151.7 27.3 151.6 28.6C151.4 30 151.2 31.3 151 32.7C150.9 34 150.7 35.4 150.5 36.7C150.3 38.1 150.1 39.4 149.9 40.8C149.7 42.1 149.5 43.5 149.3 44.8C149.1 46.2 148.9 47.6 148.7 48.9C148.5 50.3 148.3 51.6 148.1 53C147.9 54.3 147.7 55.7 147.5 57.1C147.3 58.4 147.1 59.8 146.9 61.1C146.8 62.5 146.6 63.8 146.4 65.2C146.3 66.6 146.1 67.9 145.9 69.3C145.8 70.6 145.6 72 145.5 73.3C145.4 74.7 145.3 76.1 145.1 77.4C145 78.8 144.9 80.1 144.9 81.5C144.8 82.8 144.7 84.2 144.6 85.5C144.6 86.9 144.5 88.3 144.5 89.6C144.5 91 144.5 92.3 144.5 93.7C144.5 95 144.5 96.4 144.6 97.7C144.6 99.1 144.7 100.4 144.8 101.8C144.8 103.1 145 104.5 145.1 105.8C145.2 107.2 145.4 108.5 145.5 109.8C145.7 111.2 145.9 112.5 146.1 113.9C146.4 115.2 146.6 116.6 146.9 117.9C147.2 119.2 147.5 120.6 147.8 121.9C148.2 123.2 148.5 124.5 148.9 125.8C149.3 127.1 149.7 128.4 150.2 129.7C150.7 131 151.2 132.2 151.7 133.5C152.2 134.7 152.8 136 153.4 137.2C154 138.4 154.6 139.6 155.3 140.7C155.9 141.9 156.6 143 157.4 144.1C158.1 145.2 158.9 146.3 159.7 147.3C160.6 148.4 161.4 149.4 162.3 150.3C163.2 151.3 164.2 152.2 165.2 153.1C166.2 154 167.2 154.9 168.3 155.7C169.4 156.5 170.5 157.3 171.6 158.1C172.8 158.8 173.9 159.5 175.1 160.2C176.3 160.9 177.5 161.6 178.7 162.2C179.9 162.9 181.2 163.5 182.4 164.1C183.6 164.7 184.9 165.3 186.1 165.9C187.4 166.4 188.6 167 189.9 167.5C191.1 168.1 192.4 168.6 193.7 169.1C194.9 169.6 196.2 170 197.5 170.5C198.8 171 200 171.4 201.3 171.9C202.6 172.3 203.9 172.8 205.2 173.2C206.5 173.6 207.8 174 209.1 174.4C210.4 174.8 211.6 175.2 212.9 175.5C214.2 175.9 215.6 176.3 216.9 176.6C218.2 177 219.5 177.3 220.8 177.7C222.1 178 223.4 178.3 224.7 178.6C226 179 227.3 179.3 228.7 179.6C230 179.9 231.3 180.1 232.6 180.4C233.9 180.7 235.3 181 236.6 181.3C237.9 181.5 239.2 181.8 240.6 182C241.9 182.3 243.2 182.5 244.6 182.8C245.9 183 247.2 183.2 248.6 183.5C249.9 183.7 251.2 183.9 252.6 184.1C253.9 184.3 255.3 184.5 256.6 184.7C257.9 185 259.3 185.1 260.6 185.3C262 185.5 263.3 185.7 264.7 185.9C266 186.1 267.3 186.3 268.7 186.4C270 186.6 271.4 186.8 272.7 186.9C274.1 187.1 275.4 187.3 276.8 187.4C278.1 187.6 279.5 187.7 280.8 187.9C282.2 188 283.5 188.2 284.9 188.3C286.2 188.5 287.6 188.6 288.9 188.8C290.3 188.9 292.3 189.1 293 189.2L293.1 4.4Z" fill="#FF4000"/>
<path d="M166.4 4.5C166.4 5.2 166.2 7.3 166.1 8.6C166.1 10 166 11.4 165.9 12.7C165.8 14.1 165.7 15.5 165.6 16.8C165.5 18.2 165.3 19.6 165.2 20.9C165.1 22.3 165 23.7 164.9 25C164.8 26.4 164.7 27.7 164.5 29.1C164.4 30.4 164.3 31.8 164.2 33.1C164.1 34.5 163.9 35.9 163.8 37.2C163.7 38.6 163.6 39.9 163.5 41.3C163.3 42.6 163.2 44 163.1 45.3C163 46.7 162.9 48 162.8 49.4C162.6 50.8 162.5 52.1 162.4 53.5C162.3 54.8 162.2 56.2 162.1 57.6C162 58.9 161.9 60.3 161.8 61.7C161.7 63 161.6 64.4 161.5 65.8C161.4 67.1 161.4 68.5 161.3 69.9C161.2 71.3 161.1 72.6 161.1 74C161 75.4 161 76.8 160.9 78.2C160.9 79.5 160.9 80.9 160.9 82.3C160.8 83.7 160.8 85.1 160.9 86.4C160.9 87.8 160.9 89.2 161 90.6C161 92 161.1 93.3 161.2 94.7C161.3 96.1 161.5 97.4 161.6 98.8C161.8 100.2 162 101.5 162.2 102.9C162.4 104.2 162.6 105.6 162.9 106.9C163.2 108.3 163.5 109.6 163.8 111C164.2 112.3 164.6 113.6 165 114.9C165.4 116.2 165.8 117.6 166.3 118.8C166.8 120.1 167.3 121.4 167.8 122.7C168.4 123.9 169 125.2 169.6 126.4C170.2 127.6 170.8 128.8 171.5 130C172.2 131.2 172.9 132.4 173.7 133.5C174.4 134.6 175.2 135.7 176 136.8C176.8 137.9 177.6 139 178.5 140C179.4 141 180.3 142 181.2 143C182.2 143.9 183.2 144.8 184.2 145.7C185.2 146.6 186.2 147.5 187.3 148.3C188.3 149.1 189.4 149.9 190.5 150.7C191.6 151.5 192.8 152.2 193.9 152.9C195.1 153.6 196.3 154.3 197.5 154.9C198.7 155.6 199.9 156.2 201.1 156.8C202.4 157.4 203.6 158 204.9 158.6C206.1 159.1 207.4 159.7 208.7 160.2C210 160.7 211.3 161.2 212.6 161.7C213.9 162.1 215.2 162.6 216.5 163C217.9 163.5 219.2 163.9 220.5 164.3C221.8 164.7 223.2 165.1 224.5 165.5C225.8 165.9 227.1 166.2 228.5 166.6C229.8 166.9 231.1 167.3 232.5 167.6C233.8 167.9 235.1 168.2 236.5 168.5C237.8 168.8 239.1 169.1 240.5 169.4C241.8 169.7 243.1 170 244.5 170.2C245.8 170.5 247.2 170.8 248.5 171C249.8 171.3 251.2 171.5 252.5 171.8C253.9 172 255.2 172.2 256.6 172.4C257.9 172.7 259.2 172.9 260.6 173.1C261.9 173.3 263.3 173.5 264.6 173.7C266 173.9 267.3 174.1 268.7 174.3C270 174.6 271.4 174.8 272.7 175C274.1 175.2 275.4 175.3 276.8 175.5C278.1 175.7 279.5 175.9 280.8 176.1C282.2 176.3 283.5 176.5 284.9 176.7C286.2 177 287.6 177.2 288.9 177.4C290.3 177.6 292.3 177.9 293 178L293.1 4.4Z" fill="#FF1000"/>
<path d="M181.4 4.5C181.4 5.2 181.5 7.2 181.5 8.5C181.5 9.8 181.5 11.2 181.4 12.5C181.4 13.9 181.4 15.2 181.3 16.6C181.3 18 181.2 19.3 181.2 20.7C181.1 22 181 23.4 181 24.8C180.9 26.2 180.8 27.5 180.7 28.9C180.6 30.3 180.5 31.7 180.4 33C180.3 34.4 180.2 35.8 180.2 37.2C180.1 38.6 180 39.9 179.9 41.3C179.8 42.7 179.7 44.1 179.6 45.5C179.5 46.9 179.4 48.3 179.4 49.7C179.3 51 179.2 52.4 179.2 53.8C179.1 55.2 179.1 56.6 179 58C179 59.4 179 60.8 179 62.2C178.9 63.6 178.9 64.9 179 66.3C179 67.7 179 69.1 179 70.5C179.1 71.9 179.2 73.3 179.2 74.6C179.3 76 179.4 77.4 179.6 78.8C179.7 80.1 179.8 81.5 180 82.9C180.2 84.3 180.4 85.6 180.6 87C180.8 88.4 181.1 89.7 181.3 91.1C181.6 92.4 181.9 93.8 182.2 95.1C182.6 96.4 182.9 97.8 183.3 99.1C183.7 100.4 184.1 101.7 184.6 103C185 104.3 185.5 105.5 186 106.8C186.6 108 187.1 109.3 187.7 110.5C188.3 111.7 188.9 112.9 189.6 114.1C190.3 115.3 191 116.5 191.7 117.6C192.4 118.7 193.2 119.9 194 121C194.8 122.1 195.6 123.1 196.5 124.2C197.3 125.2 198.2 126.3 199.1 127.3C200 128.3 201 129.3 201.9 130.2C202.9 131.2 203.9 132.1 204.9 133.1C205.9 134 207 134.9 208 135.7C209.1 136.6 210.2 137.5 211.3 138.3C212.4 139.1 213.5 139.9 214.6 140.7C215.7 141.4 216.9 142.2 218.1 142.9C219.2 143.6 220.4 144.3 221.6 145C222.8 145.6 224 146.3 225.2 146.9C226.5 147.5 227.7 148.1 228.9 148.7C230.2 149.3 231.4 149.8 232.7 150.3C234 150.9 235.3 151.4 236.6 151.9C237.8 152.4 239.1 152.8 240.5 153.3C241.8 153.7 243.1 154.2 244.4 154.6C245.7 155 247.1 155.4 248.4 155.8C249.7 156.2 251.1 156.5 252.4 156.9C253.8 157.2 255.1 157.5 256.5 157.9C257.8 158.2 259.2 158.5 260.5 158.8C261.9 159 263.3 159.3 264.6 159.6C266 159.8 267.4 160.1 268.7 160.3C270.1 160.6 271.4 160.8 272.8 161C274.2 161.2 275.5 161.4 276.9 161.6C278.3 161.8 279.6 162 281 162.1C282.3 162.3 283.7 162.5 285 162.6C286.3 162.8 287.7 162.9 289 163.1C290.4 163.2 292.3 163.4 293 163.5L293.1 4.4Z" fill="#DF0000"/>
<path d="M201.4 4.5C201.4 5.1 201.4 7.1 201.4 8.4C201.4 9.7 201.4 11 201.4 12.3C201.3 13.7 201.3 15 201.3 16.3C201.3 17.7 201.3 19.1 201.2 20.4C201.2 21.8 201.2 23.1 201.2 24.5C201.2 25.9 201.2 27.3 201.2 28.7C201.2 30.1 201.1 31.5 201.2 32.8C201.2 34.2 201.2 35.6 201.2 37C201.2 38.4 201.2 39.8 201.3 41.2C201.3 42.6 201.4 44.1 201.4 45.5C201.5 46.9 201.6 48.3 201.6 49.7C201.7 51.1 201.8 52.5 202 53.9C202.1 55.3 202.2 56.6 202.3 58C202.5 59.4 202.7 60.8 202.9 62.2C203 63.5 203.2 64.9 203.5 66.3C203.7 67.6 203.9 69 204.2 70.3C204.5 71.7 204.8 73 205.1 74.4C205.4 75.7 205.8 77 206.1 78.3C206.5 79.6 206.9 80.9 207.3 82.2C207.8 83.5 208.2 84.7 208.7 86C209.2 87.2 209.7 88.5 210.2 89.7C210.8 90.9 211.4 92.1 212 93.3C212.6 94.5 213.2 95.7 213.9 96.8C214.6 98 215.3 99.1 216 100.3C216.8 101.4 217.6 102.5 218.4 103.6C219.2 104.6 220 105.7 220.9 106.7C221.7 107.8 222.6 108.8 223.5 109.8C224.4 110.8 225.4 111.8 226.3 112.7C227.3 113.7 228.3 114.6 229.3 115.5C230.3 116.5 231.4 117.3 232.4 118.2C233.5 119.1 234.6 119.9 235.7 120.7C236.8 121.5 237.9 122.3 239 123.1C240.2 123.9 241.3 124.6 242.5 125.3C243.7 126 244.9 126.7 246.1 127.4C247.3 128.1 248.5 128.7 249.8 129.3C251 130 252.3 130.6 253.5 131.1C254.8 131.7 256.1 132.3 257.3 132.8C258.6 133.3 259.9 133.8 261.2 134.3C262.5 134.8 263.8 135.3 265.1 135.7C266.5 136.2 267.8 136.6 269.1 137C270.4 137.4 271.8 137.8 273.1 138.1C274.4 138.5 275.7 138.8 277.1 139.1C278.4 139.4 279.7 139.7 281.1 140C282.4 140.3 283.7 140.5 285.1 140.7C286.4 141 287.7 141.2 289.1 141.4C290.4 141.6 292.3 141.8 293 141.9L293.1 4.4Z" fill="#AF0000"/>
<path d="M233.1 4.5C233.1 5.2 233 7.2 233 8.6C233 9.9 233 11.3 233 12.7C233.1 14.1 233.1 15.5 233.2 16.9C233.2 18.3 233.3 19.7 233.4 21.1C233.5 22.5 233.7 23.9 233.8 25.3C234 26.7 234.1 28.1 234.3 29.5C234.5 30.9 234.7 32.3 235 33.7C235.2 35.1 235.5 36.5 235.8 37.9C236.1 39.3 236.4 40.6 236.7 42C237 43.4 237.4 44.8 237.8 46.1C238.1 47.5 238.5 48.9 239 50.2C239.4 51.5 239.9 52.9 240.3 54.2C240.8 55.5 241.3 56.8 241.9 58.1C242.4 59.4 243 60.7 243.6 62C244.1 63.2 244.8 64.5 245.4 65.7C246 67 246.7 68.2 247.4 69.4C248.1 70.6 248.8 71.7 249.6 72.9C250.4 74 251.2 75.2 252 76.3C252.8 77.4 253.6 78.5 254.5 79.5C255.4 80.6 256.3 81.6 257.2 82.6C258.2 83.7 259.1 84.6 260.1 85.6C261.1 86.6 262.1 87.5 263.2 88.4C264.2 89.3 265.3 90.1 266.4 91C267.5 91.8 268.6 92.6 269.8 93.4C270.9 94.2 272.1 94.9 273.3 95.6C274.5 96.3 275.7 97 277 97.6C278.2 98.3 279.5 98.9 280.8 99.4C282.1 100 283.4 100.5 284.7 101C286.1 101.5 287.4 101.9 288.8 102.3C290.2 102.7 292.3 103.2 293 103.4L293.1 4.4Z" fill="#800000"/>
<g fill="none" stroke="#000" stroke-width="0.65" stroke-linejoin="round">
<path d="M57.6 4.5C57.8 5.1 58.3 7 58.7 8.4C59.2 9.8 59.6 11.4 60.1 12.9C60.7 14.4 61.3 16.1 62 17.6C62.7 19 63.6 20.5 64.5 21.8C65.5 23 66.7 24.2 67.9 25C69.2 25.8 70.7 26.5 72 26.7C73.4 27 74.8 26.9 76.1 26.5C77.4 26.1 78.7 25.3 79.8 24.4C81 23.5 82.2 22.3 83.2 21C84.3 19.8 85.2 18.3 86.1 16.9C87 15.4 87.9 13.8 88.6 12.4C89.3 10.9 90 9.4 90.5 8.1C91.1 6.8 91.7 5.1 91.9 4.5"/>
<path d="M66 220.6C66.6 220.3 68.5 219.2 69.7 218.6C71 218 72.2 217.4 73.5 216.9C74.8 216.4 76.1 216 77.4 215.6C78.7 215.2 80 214.8 81.3 214.5C82.6 214.2 84 213.9 85.3 213.7C86.7 213.4 88 213.2 89.4 213C90.7 212.9 92.1 212.7 93.4 212.6C94.8 212.5 96.2 212.4 97.6 212.4C98.9 212.3 100.3 212.3 101.7 212.3C103.1 212.3 104.5 212.3 105.9 212.3C107.2 212.3 108.6 212.4 110 212.4C111.4 212.5 112.8 212.5 114.2 212.6C115.6 212.7 116.9 212.8 118.3 212.9C119.7 213 121.1 213.1 122.5 213.2C123.9 213.4 125.3 213.5 126.6 213.7C128 213.8 129.4 214 130.8 214.1C132.2 214.3 133.6 214.5 135 214.6C136.3 214.8 137.7 215 139.1 215.2C140.5 215.4 141.9 215.6 143.2 215.8C144.6 216 146 216.2 147.4 216.4C148.8 216.6 150.1 216.8 151.5 217C152.9 217.2 154.2 217.4 155.6 217.6C157 217.9 158.4 218.1 159.7 218.3C161.1 218.5 162.5 218.7 163.8 218.9C165.2 219.1 166.5 219.3 167.9 219.5C169.2 219.7 170.6 219.9 172 220.1C173.3 220.2 175.3 220.5 176 220.6"/>
<path d="M47.7 4.5C47.8 5.2 48.2 7.3 48.4 8.7C48.7 10.1 48.9 11.5 49.1 12.9C49.4 14.3 49.6 15.7 49.8 17C50.1 18.4 50.3 19.8 50.6 21.1C50.9 22.5 51.1 23.8 51.4 25.2C51.7 26.5 52 27.9 52.4 29.2C52.7 30.5 53.1 31.9 53.5 33.2C53.9 34.5 54.3 35.8 54.8 37.1C55.2 38.4 55.7 39.7 56.3 41C56.8 42.4 57.4 43.7 58.1 44.9C58.7 46.2 59.4 47.5 60.2 48.8C60.9 50.1 61.8 51.4 62.6 52.6C63.5 53.8 64.4 55 65.4 56C66.4 57 67.4 58 68.5 58.6C69.6 59.3 70.7 59.8 71.9 60C73.1 60.2 74.4 60.1 75.7 59.7C76.9 59.4 78.2 58.7 79.4 57.9C80.5 57.2 81.5 56.1 82.5 55C83.5 54 84.3 52.7 85.2 51.4C86 50.2 86.7 48.8 87.5 47.6C88.2 46.3 88.9 45.1 89.6 43.8C90.2 42.6 90.9 41.4 91.5 40.1C92.1 38.9 92.7 37.7 93.3 36.4C93.8 35.2 94.4 33.9 94.9 32.7C95.4 31.4 95.9 30.1 96.4 28.8C96.9 27.5 97.4 26.1 97.9 24.8C98.3 23.5 98.7 22.1 99.2 20.8C99.6 19.4 100 18.1 100.4 16.7C100.8 15.4 101.1 14 101.5 12.6C101.8 11.3 102.2 9.9 102.5 8.6C102.8 7.2 103.2 5.2 103.4 4.5"/>
<path d="M49.5 220.8C50.1 220.4 51.7 219 52.8 218.1C54 217.3 55.1 216.4 56.3 215.7C57.5 214.9 58.7 214.1 59.9 213.4C61.1 212.7 62.3 212 63.5 211.4C64.8 210.8 66 210.2 67.3 209.6C68.6 209.1 69.9 208.6 71.2 208.1C72.5 207.6 73.8 207.2 75.1 206.8C76.4 206.4 77.7 206 79 205.7C80.4 205.4 81.7 205.2 83.1 204.9C84.4 204.7 85.7 204.5 87.1 204.3C88.5 204.2 89.8 204.1 91.2 204C92.5 203.9 93.9 203.9 95.3 203.8C96.6 203.8 98 203.8 99.4 203.8C100.8 203.8 102.2 203.9 103.5 204C104.9 204 106.3 204.1 107.7 204.2C109.1 204.3 110.5 204.5 111.9 204.6C113.3 204.7 114.6 204.9 116 205C117.4 205.2 118.8 205.3 120.2 205.5C121.6 205.7 123 205.9 124.4 206C125.8 206.2 127.2 206.4 128.6 206.5C129.9 206.7 131.3 206.9 132.7 207.1C134.1 207.2 135.5 207.4 136.9 207.6C138.2 207.7 139.6 207.9 141 208.1C142.4 208.3 143.8 208.4 145.2 208.6C146.5 208.8 147.9 208.9 149.3 209.1C150.7 209.3 152.1 209.4 153.4 209.6C154.8 209.8 156.2 209.9 157.6 210.1C158.9 210.3 160.3 210.5 161.7 210.6C163.1 210.8 164.4 211 165.8 211.1C167.2 211.3 168.6 211.5 169.9 211.6C171.3 211.8 172.7 212 174 212.1C175.4 212.3 176.8 212.5 178.2 212.7C179.5 212.8 180.9 213 182.3 213.2C183.6 213.3 185 213.5 186.4 213.7C187.8 213.9 189.1 214 190.5 214.2C191.9 214.4 193.2 214.5 194.6 214.7C196 214.9 197.4 215.1 198.7 215.2C200.1 215.4 201.5 215.6 202.8 215.8C204.2 215.9 205.6 216.1 207 216.3C208.3 216.5 209.7 216.6 211.1 216.8C212.5 217 213.8 217.2 215.2 217.3C216.6 217.5 218 217.7 219.3 217.9C220.7 218 222.1 218.2 223.5 218.4C224.8 218.6 226.2 218.8 227.6 218.9C229 219.1 230.3 219.3 231.7 219.5C233.1 219.7 234.5 219.9 235.9 220C237.2 220.2 239.3 220.5 240 220.6"/>
<path d="M40.3 4.5C40.4 5.2 40.7 7.2 40.9 8.6C41.1 10 41.3 11.3 41.5 12.7C41.7 14 41.8 15.4 42 16.8C42.2 18.1 42.4 19.5 42.6 20.8C42.8 22.2 43 23.5 43.2 24.9C43.4 26.2 43.6 27.5 43.8 28.9C44 30.2 44.2 31.6 44.5 32.9C44.7 34.2 44.9 35.6 45.1 36.9C45.4 38.2 45.6 39.6 45.9 40.9C46.1 42.2 46.4 43.5 46.7 44.9C47 46.2 47.2 47.5 47.5 48.8C47.8 50.2 48.2 51.5 48.5 52.8C48.8 54.1 49.1 55.4 49.5 56.7C49.9 58.1 50.2 59.4 50.6 60.7C51 62 51.4 63.3 51.9 64.6C52.3 65.9 52.7 67.2 53.2 68.5C53.7 69.8 54.2 71.1 54.7 72.4C55.2 73.7 55.7 75.1 56.3 76.3C56.8 77.6 57.4 78.9 58.1 80.1C58.7 81.3 59.4 82.5 60.2 83.7C60.9 84.8 61.7 85.9 62.6 87C63.5 88 64.4 89 65.5 89.8C66.5 90.7 67.6 91.6 68.8 92.2C69.9 92.8 71.2 93.3 72.4 93.4C73.7 93.6 75 93.4 76.2 93C77.4 92.6 78.6 91.9 79.7 91.2C80.8 90.5 81.8 89.7 82.8 88.7C83.8 87.8 84.7 86.7 85.5 85.6C86.4 84.6 87.2 83.4 88 82.2C88.7 81 89.5 79.7 90.1 78.4C90.8 77.2 91.5 75.9 92.1 74.6C92.7 73.3 93.3 72 93.9 70.8C94.5 69.5 95 68.3 95.6 67C96.1 65.8 96.6 64.5 97.1 63.3C97.6 62.1 98.1 60.8 98.5 59.6C99 58.3 99.5 57.1 99.9 55.8C100.4 54.6 100.8 53.3 101.2 52.1C101.7 50.8 102.1 49.5 102.5 48.2C102.9 47 103.3 45.7 103.7 44.4C104.2 43.1 104.6 41.7 105 40.4C105.4 39.1 105.7 37.8 106.1 36.5C106.5 35.1 106.9 33.8 107.2 32.5C107.6 31.1 108 29.8 108.3 28.5C108.7 27.1 109 25.8 109.4 24.4C109.7 23.1 110 21.7 110.3 20.4C110.6 19.1 110.9 17.7 111.2 16.4C111.5 15.1 111.8 13.7 112.1 12.4C112.4 11.1 112.6 9.7 112.9 8.4C113.1 7.1 113.5 5.2 113.6 4.5"/>
<path d="M37.6 220.6C38.1 220.2 39.5 218.8 40.5 217.9C41.5 217 42.4 216.1 43.5 215.2C44.5 214.3 45.5 213.4 46.6 212.5C47.6 211.6 48.7 210.7 49.8 209.8C50.8 209 51.9 208.1 53.1 207.2C54.2 206.4 55.3 205.5 56.5 204.7C57.6 203.9 58.8 203.1 59.9 202.3C61.1 201.5 62.3 200.8 63.5 200C64.7 199.3 65.9 198.6 67.1 198C68.3 197.3 69.6 196.7 70.8 196.2C72 195.6 73.3 195.1 74.5 194.6C75.8 194.1 77.1 193.7 78.3 193.3C79.6 192.9 80.9 192.6 82.2 192.4C83.5 192.1 84.8 191.9 86.1 191.7C87.4 191.6 88.7 191.5 90 191.4C91.3 191.4 92.6 191.3 94 191.4C95.3 191.4 96.6 191.5 98 191.6C99.3 191.7 100.6 191.8 102 192C103.3 192.1 104.7 192.3 106 192.5C107.4 192.7 108.7 193 110.1 193.2C111.4 193.5 112.8 193.7 114.1 194C115.5 194.3 116.8 194.6 118.2 194.9C119.5 195.2 120.9 195.5 122.3 195.8C123.6 196.1 125 196.4 126.3 196.7C127.7 197 129.1 197.3 130.4 197.6C131.8 197.9 133.1 198.2 134.5 198.5C135.8 198.8 137.2 199 138.5 199.3C139.9 199.6 141.2 199.9 142.6 200.1C143.9 200.4 145.3 200.7 146.7 200.9C148 201.2 149.4 201.5 150.7 201.7C152.1 202 153.4 202.2 154.8 202.5C156.1 202.7 157.5 203 158.8 203.2C160.2 203.4 161.5 203.7 162.9 203.9C164.2 204.1 165.6 204.4 166.9 204.6C168.3 204.8 169.6 205.1 170.9 205.3C172.3 205.5 173.6 205.7 175 205.9C176.3 206.2 177.7 206.4 179 206.6C180.4 206.8 181.7 207 183.1 207.2C184.4 207.4 185.8 207.6 187.1 207.8C188.5 208 189.8 208.2 191.2 208.4C192.5 208.6 193.9 208.8 195.2 208.9C196.6 209.1 197.9 209.3 199.3 209.5C200.6 209.7 201.9 209.8 203.3 210C204.6 210.2 206 210.4 207.3 210.5C208.7 210.7 210 210.9 211.4 211C212.7 211.2 214.1 211.4 215.4 211.5C216.8 211.7 218.1 211.8 219.5 212C220.8 212.2 222.2 212.3 223.5 212.5C224.9 212.6 226.2 212.7 227.6 212.9C228.9 213 230.3 213.2 231.7 213.3C233 213.5 234.4 213.6 235.7 213.7C237.1 213.9 238.4 214 239.8 214.1C241.1 214.3 242.5 214.4 243.8 214.5C245.2 214.7 246.6 214.8 247.9 214.9C249.3 215 250.6 215.2 252 215.3C253.3 215.4 254.7 215.5 256.1 215.6C257.4 215.8 258.8 215.9 260.1 216C261.5 216.1 262.9 216.2 264.2 216.3C265.6 216.4 267 216.5 268.3 216.6C269.7 216.7 271.1 216.8 272.4 217C273.8 217.1 275.2 217.2 276.5 217.3C277.9 217.4 279.3 217.5 280.6 217.6C282 217.7 283.4 217.8 284.8 217.8C286.1 217.9 287.5 218 288.9 218.1C290.2 218.2 292.3 218.4 293 218.4"/>
<path d="M37.5 48.5C37.7 49.2 38.2 51.2 38.6 52.5C38.9 53.8 39.2 55.1 39.6 56.5C39.9 57.8 40.2 59.1 40.6 60.4C40.9 61.8 41.2 63.1 41.5 64.4C41.8 65.7 42.2 67.1 42.5 68.4C42.8 69.7 43.1 71 43.4 72.3C43.7 73.7 44 75 44.4 76.3C44.7 77.6 45 78.9 45.3 80.2C45.7 81.6 46 82.9 46.3 84.2C46.7 85.5 47 86.8 47.4 88.1C47.7 89.4 48.1 90.7 48.4 92C48.8 93.3 49.2 94.6 49.6 95.9C50 97.2 50.4 98.5 50.8 99.8C51.2 101.1 51.6 102.3 52.1 103.6C52.5 104.9 53 106.2 53.5 107.4C53.9 108.7 54.4 110 54.9 111.3C55.5 112.5 56 113.8 56.5 115C57.1 116.3 57.7 117.5 58.2 118.8C58.8 120 59.4 121.3 60.1 122.5C60.7 123.8 61.4 125 62.1 126.2C62.7 127.5 63.4 128.7 64.2 129.9C64.9 131.1 65.7 132.3 66.6 133.4C67.4 134.5 68.3 135.5 69.3 136.4C70.4 137.3 71.5 138.1 72.7 138.6C73.9 139.1 75.1 139.4 76.4 139.5C77.6 139.5 78.8 139.2 80 138.7C81.1 138.2 82.1 137.5 83.1 136.6C84 135.7 84.8 134.7 85.6 133.5C86.3 132.4 87 131.2 87.6 129.9C88.3 128.7 88.9 127.4 89.6 126.2C90.2 124.9 90.8 123.7 91.4 122.4C92 121.1 92.6 119.9 93.2 118.6C93.8 117.4 94.3 116.1 94.9 114.8C95.4 113.6 96 112.3 96.5 111C97.1 109.7 97.6 108.5 98.1 107.2C98.6 105.9 99.1 104.7 99.6 103.4C100.1 102.1 100.6 100.8 101.1 99.5C101.5 98.3 102 97 102.5 95.7C102.9 94.4 103.4 93.1 103.8 91.8C104.2 90.6 104.7 89.3 105.1 88C105.5 86.7 105.9 85.4 106.3 84.1C106.7 82.8 107.1 81.5 107.5 80.2C107.9 78.9 108.3 77.6 108.7 76.3C109 75 109.4 73.7 109.8 72.4C110.1 71.1 110.5 69.8 110.8 68.5C111.2 67.2 111.5 65.9 111.8 64.6C112.2 63.3 112.5 61.9 112.8 60.6C113.1 59.3 113.4 58 113.7 56.7C114 55.4 114.3 54 114.6 52.7C114.9 51.4 115.2 50.1 115.5 48.8C115.8 47.4 116.1 46.1 116.4 44.8C116.6 43.5 116.9 42.1 117.2 40.8C117.4 39.5 117.7 38.1 118 36.8C118.2 35.5 118.5 34.1 118.7 32.8C119 31.5 119.2 30.1 119.5 28.8C119.7 27.4 120 26.1 120.2 24.8C120.4 23.4 120.7 22.1 120.9 20.7C121.1 19.4 121.4 18 121.6 16.7C121.8 15.3 122 14 122.3 12.6C122.5 11.3 122.7 9.9 122.9 8.6C123.2 7.2 123.5 5.2 123.6 4.5"/>
<path d="M37.5 211C38 210.5 39.5 209 40.4 208C41.4 206.9 42.3 205.9 43.2 204.9C44.2 203.9 45.1 202.9 46 201.9C46.9 200.9 47.7 199.9 48.6 198.9C49.5 197.9 50.4 196.9 51.2 195.9C52.1 194.9 52.9 193.8 53.8 192.8C54.6 191.8 55.4 190.7 56.3 189.7C57.1 188.7 57.9 187.6 58.7 186.5C59.6 185.5 60.4 184.4 61.2 183.3C62 182.2 62.8 181.1 63.6 180C64.5 178.9 65.3 177.8 66.1 176.6C66.9 175.5 67.7 174.3 68.6 173.1C69.4 171.9 70.2 170.7 71.1 169.5C72 168.4 72.8 167.3 73.8 166.4C74.7 165.4 75.7 164.6 76.8 164C77.9 163.5 79 163.1 80.3 163C81.5 163 82.9 163.3 84.2 163.7C85.6 164.1 87 164.8 88.2 165.4C89.5 166 90.7 166.8 91.9 167.5C93.1 168.2 94.2 168.9 95.3 169.6C96.5 170.3 97.6 171.1 98.8 171.7C99.9 172.4 101.1 173.1 102.3 173.7C103.5 174.4 104.7 175 105.9 175.6C107.1 176.2 108.3 176.7 109.6 177.3C110.8 177.9 112.1 178.4 113.3 178.9C114.6 179.5 115.8 180 117.1 180.5C118.4 181 119.6 181.5 120.9 182C122.2 182.5 123.4 183 124.7 183.4C126 183.9 127.3 184.4 128.6 184.8C129.8 185.3 131.1 185.7 132.4 186.1C133.7 186.6 135 187 136.3 187.4C137.6 187.8 138.9 188.3 140.2 188.7C141.5 189.1 142.8 189.5 144.1 189.8C145.4 190.2 146.7 190.6 148 191C149.3 191.3 150.6 191.7 151.9 192.1C153.2 192.4 154.5 192.8 155.8 193.1C157.1 193.5 158.4 193.8 159.8 194.1C161.1 194.5 162.4 194.8 163.7 195.1C165 195.4 166.4 195.7 167.7 196C169 196.3 170.3 196.6 171.7 196.9C173 197.2 174.3 197.5 175.6 197.8C177 198 178.3 198.3 179.6 198.6C181 198.8 182.3 199.1 183.6 199.4C185 199.6 186.3 199.9 187.6 200.1C189 200.4 190.3 200.6 191.7 200.8C193 201.1 194.3 201.3 195.7 201.5C197 201.7 198.4 202 199.7 202.2C201.1 202.4 202.4 202.6 203.7 202.8C205.1 203 206.4 203.2 207.8 203.4C209.1 203.6 210.5 203.8 211.8 204C213.2 204.2 214.5 204.3 215.9 204.5C217.2 204.7 218.6 204.9 219.9 205.1C221.3 205.2 222.6 205.4 224 205.6C225.3 205.7 226.7 205.9 228 206.1C229.4 206.2 230.8 206.4 232.1 206.5C233.5 206.7 234.8 206.8 236.2 207C237.5 207.1 238.9 207.3 240.2 207.4C241.6 207.6 242.9 207.7 244.3 207.8C245.7 208 247 208.1 248.4 208.2C249.7 208.4 251.1 208.5 252.4 208.6C253.8 208.8 255.1 208.9 256.5 209C257.9 209.1 259.2 209.3 260.6 209.4C261.9 209.5 263.3 209.6 264.6 209.8C266 209.9 267.3 210 268.7 210.1C270 210.2 271.4 210.4 272.8 210.5C274.1 210.6 275.5 210.7 276.8 210.8C278.2 210.9 279.5 211.1 280.9 211.2C282.2 211.3 283.6 211.4 284.9 211.5C286.3 211.6 287.6 211.7 289 211.9C290.3 212 292.3 212.1 293 212.2"/>
<path d="M37.5 96.5C37.7 97.1 38.5 98.8 39 100.1C39.4 101.3 39.7 102.6 40.1 104C40.4 105.3 40.7 106.7 41 108C41.3 109.4 41.5 110.8 41.8 112.2C42.1 113.6 42.4 115 42.7 116.4C43 117.8 43.3 119.2 43.7 120.5C44 121.9 44.3 123.3 44.6 124.7C45 126 45.3 127.4 45.6 128.8C45.9 130.2 46.2 131.5 46.4 132.9C46.7 134.3 47 135.6 47.2 137C47.4 138.4 47.7 139.8 47.9 141.1C48.1 142.5 48.3 143.9 48.4 145.3C48.6 146.6 48.7 148 48.8 149.4C48.9 150.8 49 152.2 49 153.6C49.1 154.9 49.1 156.3 49.1 157.7C49.1 159.1 49 160.5 49 161.9C48.9 163.3 48.8 164.8 48.6 166.2C48.5 167.6 48.3 169 48.1 170.4C47.9 171.8 47.6 173.2 47.3 174.5C47 175.9 46.7 177.3 46.3 178.6C45.9 180 45.5 181.4 45 182.7C44.6 184 44.1 185.3 43.6 186.6C43 187.9 42.4 189.2 41.8 190.4C41.2 191.6 40.5 192.9 39.8 194C39.1 195.2 37.9 196.9 37.5 197.5"/>
<path d="M133 4.5C132.9 5.2 132.4 7.2 132.1 8.5C131.9 9.8 131.6 11.1 131.3 12.5C131.1 13.8 130.8 15.1 130.5 16.4C130.3 17.8 130 19.1 129.8 20.4C129.5 21.8 129.3 23.1 129 24.4C128.8 25.7 128.5 27.1 128.3 28.4C128 29.7 127.8 31 127.6 32.4C127.3 33.7 127.1 35 126.9 36.4C126.6 37.7 126.4 39 126.2 40.3C125.9 41.7 125.7 43 125.5 44.3C125.2 45.7 125 47 124.8 48.3C124.6 49.6 124.3 51 124.1 52.3C123.9 53.6 123.7 54.9 123.4 56.3C123.2 57.6 123 58.9 122.7 60.2C122.5 61.6 122.3 62.9 122 64.2C121.8 65.6 121.6 66.9 121.3 68.2C121.1 69.5 120.8 70.9 120.6 72.2C120.3 73.5 120.1 74.8 119.8 76.2C119.6 77.5 119.3 78.8 119.1 80.1C118.8 81.5 118.5 82.8 118.3 84.1C118 85.4 117.7 86.7 117.4 88.1C117.2 89.4 116.9 90.7 116.6 92C116.3 93.4 116 94.7 115.7 96C115.4 97.3 115.1 98.6 114.9 100C114.6 101.3 114.3 102.6 114 104C113.8 105.3 113.5 106.6 113.3 107.9C113 109.3 112.8 110.6 112.6 112C112.4 113.3 112.2 114.6 112 116C111.8 117.3 111.7 118.7 111.5 120C111.4 121.4 111.3 122.8 111.2 124.1C111.1 125.5 111.1 126.9 111.1 128.2C111.1 129.6 111.1 131 111.1 132.3C111.2 133.7 111.3 135 111.5 136.4C111.7 137.7 111.9 139 112.2 140.3C112.4 141.6 112.8 142.9 113.2 144.2C113.6 145.5 114.1 146.7 114.6 147.9C115.1 149.2 115.7 150.4 116.4 151.5C117 152.7 117.7 153.9 118.5 155C119.2 156.1 120 157.2 120.9 158.3C121.7 159.3 122.6 160.4 123.5 161.4C124.4 162.4 125.4 163.4 126.3 164.3C127.3 165.2 128.3 166.1 129.3 167C130.3 167.9 131.4 168.7 132.4 169.5C133.5 170.3 134.6 171.1 135.7 171.8C136.8 172.6 137.9 173.3 139.1 174C140.2 174.7 141.4 175.3 142.5 175.9C143.7 176.6 144.9 177.2 146.1 177.8C147.3 178.3 148.5 178.9 149.8 179.4C151 180 152.3 180.5 153.5 181C154.8 181.5 156 181.9 157.3 182.4C158.6 182.8 159.9 183.3 161.2 183.7C162.5 184.1 163.8 184.5 165.1 184.9C166.4 185.3 167.7 185.7 169.1 186.1C170.4 186.4 171.7 186.8 173 187.1C174.4 187.5 175.7 187.8 177 188.1C178.4 188.4 179.7 188.8 181 189.1C182.4 189.4 183.7 189.7 185.1 190C186.4 190.3 187.7 190.6 189.1 190.9C190.4 191.2 191.7 191.5 193.1 191.8C194.4 192 195.7 192.3 197 192.6C198.4 192.9 199.7 193.2 201 193.4C202.3 193.7 203.7 194 205 194.2C206.3 194.5 207.6 194.8 208.9 195C210.3 195.3 211.6 195.5 212.9 195.8C214.2 196 215.5 196.3 216.9 196.5C218.2 196.8 219.5 197 220.8 197.2C222.1 197.5 223.4 197.7 224.8 197.9C226.1 198.1 227.4 198.4 228.7 198.6C230 198.8 231.3 199 232.7 199.2C234 199.4 235.3 199.6 236.6 199.8C237.9 200 239.3 200.2 240.6 200.4C241.9 200.6 243.2 200.8 244.6 201C245.9 201.1 247.2 201.3 248.5 201.5C249.9 201.7 251.2 201.8 252.5 202C253.8 202.2 255.2 202.3 256.5 202.5C257.8 202.6 259.2 202.8 260.5 202.9C261.8 203.1 263.2 203.2 264.5 203.4C265.8 203.5 267.2 203.6 268.5 203.7C269.9 203.9 271.2 204 272.6 204.1C273.9 204.2 275.3 204.3 276.6 204.4C278 204.6 279.3 204.7 280.7 204.8C282 204.9 283.4 204.9 284.8 205C286.1 205.1 287.5 205.2 288.9 205.3C290.2 205.4 292.3 205.5 293 205.5"/>
<path d="M142.5 4.5C142.4 5.2 142.3 7.2 142.2 8.5C142 9.9 141.9 11.2 141.7 12.6C141.6 13.9 141.4 15.3 141.3 16.6C141.1 18 140.9 19.3 140.7 20.7C140.6 22 140.4 23.3 140.2 24.7C140 26 139.8 27.4 139.6 28.7C139.4 30.1 139.2 31.4 138.9 32.8C138.7 34.1 138.5 35.4 138.3 36.8C138.1 38.1 137.8 39.5 137.6 40.8C137.4 42.2 137.1 43.5 136.9 44.9C136.7 46.2 136.4 47.5 136.2 48.9C136 50.2 135.7 51.6 135.5 52.9C135.3 54.3 135 55.6 134.8 57C134.6 58.3 134.3 59.7 134.1 61C133.9 62.4 133.7 63.7 133.4 65C133.2 66.4 133 67.7 132.8 69.1C132.6 70.4 132.4 71.8 132.2 73.1C132 74.5 131.8 75.8 131.6 77.2C131.4 78.5 131.2 79.9 131 81.2C130.9 82.6 130.7 83.9 130.5 85.3C130.4 86.7 130.2 88 130.1 89.4C130 90.7 129.8 92.1 129.7 93.4C129.6 94.8 129.5 96.1 129.4 97.5C129.3 98.9 129.2 100.2 129.2 101.6C129.1 102.9 129.1 104.3 129 105.7C129 107 128.9 108.4 128.9 109.8C128.9 111.1 128.9 112.5 129 113.8C129 115.2 129 116.6 129.1 118C129.1 119.3 129.2 120.7 129.3 122.1C129.4 123.4 129.5 124.8 129.7 126.1C129.8 127.5 130 128.9 130.2 130.2C130.4 131.5 130.7 132.9 131 134.2C131.3 135.5 131.7 136.8 132.1 138C132.5 139.3 132.9 140.6 133.5 141.8C134 143 134.6 144.2 135.2 145.4C135.8 146.5 136.5 147.7 137.3 148.8C138.1 149.9 138.9 151 139.7 152.1C140.6 153.1 141.5 154.2 142.4 155.2C143.3 156.2 144.3 157.1 145.3 158.1C146.3 159 147.3 159.9 148.4 160.8C149.4 161.7 150.5 162.5 151.6 163.3C152.7 164.2 153.8 165 154.9 165.7C156 166.5 157.2 167.2 158.3 167.9C159.5 168.6 160.7 169.3 161.8 169.9C163 170.6 164.2 171.2 165.4 171.8C166.7 172.4 167.9 173 169.1 173.6C170.4 174.1 171.6 174.7 172.9 175.2C174.1 175.7 175.4 176.2 176.7 176.7C177.9 177.1 179.2 177.6 180.5 178C181.8 178.5 183.1 178.9 184.4 179.3C185.7 179.7 187 180.1 188.4 180.5C189.7 180.9 191 181.3 192.3 181.6C193.7 182 195 182.3 196.3 182.6C197.7 183 199 183.3 200.3 183.6C201.7 183.9 203 184.2 204.4 184.5C205.7 184.8 207 185.1 208.4 185.4C209.7 185.7 211.1 186 212.4 186.3C213.7 186.6 215.1 186.8 216.4 187.1C217.8 187.4 219.1 187.6 220.4 187.9C221.8 188.2 223.1 188.4 224.4 188.7C225.7 188.9 227.1 189.2 228.4 189.4C229.7 189.7 231.1 189.9 232.4 190.2C233.7 190.4 235 190.6 236.4 190.9C237.7 191.1 239 191.3 240.4 191.6C241.7 191.8 243 192 244.3 192.2C245.7 192.4 247 192.6 248.3 192.8C249.7 193 251 193.2 252.3 193.4C253.7 193.6 255 193.8 256.3 194C257.7 194.2 259 194.4 260.3 194.6C261.7 194.7 263 194.9 264.4 195.1C265.7 195.2 267.1 195.4 268.4 195.6C269.8 195.7 271.1 195.9 272.5 196C273.8 196.2 275.2 196.3 276.5 196.5C277.9 196.6 279.2 196.7 280.6 196.9C282 197 283.3 197.1 284.7 197.2C286.1 197.4 287.5 197.5 288.8 197.6C290.2 197.7 292.3 197.8 293 197.9"/>
<path d="M153.6 4.5C153.6 5.2 153.5 7.2 153.4 8.5C153.4 9.8 153.3 11.2 153.2 12.5C153.1 13.8 153 15.2 152.9 16.5C152.8 17.9 152.6 19.2 152.5 20.6C152.4 21.9 152.2 23.2 152.1 24.6C151.9 25.9 151.7 27.3 151.6 28.6C151.4 30 151.2 31.3 151 32.7C150.9 34 150.7 35.4 150.5 36.7C150.3 38.1 150.1 39.4 149.9 40.8C149.7 42.1 149.5 43.5 149.3 44.8C149.1 46.2 148.9 47.6 148.7 48.9C148.5 50.3 148.3 51.6 148.1 53C147.9 54.3 147.7 55.7 147.5 57.1C147.3 58.4 147.1 59.8 146.9 61.1C146.8 62.5 146.6 63.8 146.4 65.2C146.3 66.6 146.1 67.9 145.9 69.3C145.8 70.6 145.6 72 145.5 73.3C145.4 74.7 145.3 76.1 145.1 77.4C145 78.8 144.9 80.1 144.9 81.5C144.8 82.8 144.7 84.2 144.6 85.5C144.6 86.9 144.5 88.3 144.5 89.6C144.5 91 144.5 92.3 144.5 93.7C144.5 95 144.5 96.4 144.6 97.7C144.6 99.1 144.7 100.4 144.8 101.8C144.8 103.1 145 104.5 145.1 105.8C145.2 107.2 145.4 108.5 145.5 109.8C145.7 111.2 145.9 112.5 146.1 113.9C146.4 115.2 146.6 116.6 146.9 117.9C147.2 119.2 147.5 120.6 147.8 121.9C148.2 123.2 148.5 124.5 148.9 125.8C149.3 127.1 149.7 128.4 150.2 129.7C150.7 131 151.2 132.2 151.7 133.5C152.2 134.7 152.8 136 153.4 137.2C154 138.4 154.6 139.6 155.3 140.7C155.9 141.9 156.6 143 157.4 144.1C158.1 145.2 158.9 146.3 159.7 147.3C160.6 148.4 161.4 149.4 162.3 150.3C163.2 151.3 164.2 152.2 165.2 153.1C166.2 154 167.2 154.9 168.3 155.7C169.4 156.5 170.5 157.3 171.6 158.1C172.8 158.8 173.9 159.5 175.1 160.2C176.3 160.9 177.5 161.6 178.7 162.2C179.9 162.9 181.2 163.5 182.4 164.1C183.6 164.7 184.9 165.3 186.1 165.9C187.4 166.4 188.6 167 189.9 167.5C191.1 168.1 192.4 168.6 193.7 169.1C194.9 169.6 196.2 170 197.5 170.5C198.8 171 200 171.4 201.3 171.9C202.6 172.3 203.9 172.8 205.2 173.2C206.5 173.6 207.8 174 209.1 174.4C210.4 174.8 211.6 175.2 212.9 175.5C214.2 175.9 215.6 176.3 216.9 176.6C218.2 177 219.5 177.3 220.8 177.7C222.1 178 223.4 178.3 224.7 178.6C226 179 227.3 179.3 228.7 179.6C230 179.9 231.3 180.1 232.6 180.4C233.9 180.7 235.3 181 236.6 181.3C237.9 181.5 239.2 181.8 240.6 182C241.9 182.3 243.2 182.5 244.6 182.8C245.9 183 247.2 183.2 248.6 183.5C249.9 183.7 251.2 183.9 252.6 184.1C253.9 184.3 255.3 184.5 256.6 184.7C257.9 185 259.3 185.1 260.6 185.3C262 185.5 263.3 185.7 264.7 185.9C266 186.1 267.3 186.3 268.7 186.4C270 186.6 271.4 186.8 272.7 186.9C274.1 187.1 275.4 187.3 276.8 187.4C278.1 187.6 279.5 187.7 280.8 187.9C282.2 188 283.5 188.2 284.9 188.3C286.2 188.5 287.6 188.6 288.9 188.8C290.3 188.9 292.3 189.1 293 189.2"/>
<path d="M166.4 4.5C166.4 5.2 166.2 7.3 166.1 8.6C166.1 10 166 11.4 165.9 12.7C165.8 14.1 165.7 15.5 165.6 16.8C165.5 18.2 165.3 19.6 165.2 20.9C165.1 22.3 165 23.7 164.9 25C164.8 26.4 164.7 27.7 164.5 29.1C164.4 30.4 164.3 31.8 164.2 33.1C164.1 34.5 163.9 35.9 163.8 37.2C163.7 38.6 163.6 39.9 163.5 41.3C163.3 42.6 163.2 44 163.1 45.3C163 46.7 162.9 48 162.8 49.4C162.6 50.8 162.5 52.1 162.4 53.5C162.3 54.8 162.2 56.2 162.1 57.6C162 58.9 161.9 60.3 161.8 61.7C161.7 63 161.6 64.4 161.5 65.8C161.4 67.1 161.4 68.5 161.3 69.9C161.2 71.3 161.1 72.6 161.1 74C161 75.4 161 76.8 160.9 78.2C160.9 79.5 160.9 80.9 160.9 82.3C160.8 83.7 160.8 85.1 160.9 86.4C160.9 87.8 160.9 89.2 161 90.6C161 92 161.1 93.3 161.2 94.7C161.3 96.1 161.5 97.4 161.6 98.8C161.8 100.2 162 101.5 162.2 102.9C162.4 104.2 162.6 105.6 162.9 106.9C163.2 108.3 163.5 109.6 163.8 111C164.2 112.3 164.6 113.6 165 114.9C165.4 116.2 165.8 117.6 166.3 118.8C166.8 120.1 167.3 121.4 167.8 122.7C168.4 123.9 169 125.2 169.6 126.4C170.2 127.6 170.8 128.8 171.5 130C172.2 131.2 172.9 132.4 173.7 133.5C174.4 134.6 175.2 135.7 176 136.8C176.8 137.9 177.6 139 178.5 140C179.4 141 180.3 142 181.2 143C182.2 143.9 183.2 144.8 184.2 145.7C185.2 146.6 186.2 147.5 187.3 148.3C188.3 149.1 189.4 149.9 190.5 150.7C191.6 151.5 192.8 152.2 193.9 152.9C195.1 153.6 196.3 154.3 197.5 154.9C198.7 155.6 199.9 156.2 201.1 156.8C202.4 157.4 203.6 158 204.9 158.6C206.1 159.1 207.4 159.7 208.7 160.2C210 160.7 211.3 161.2 212.6 161.7C213.9 162.1 215.2 162.6 216.5 163C217.9 163.5 219.2 163.9 220.5 164.3C221.8 164.7 223.2 165.1 224.5 165.5C225.8 165.9 227.1 166.2 228.5 166.6C229.8 166.9 231.1 167.3 232.5 167.6C233.8 167.9 235.1 168.2 236.5 168.5C237.8 168.8 239.1 169.1 240.5 169.4C241.8 169.7 243.1 170 244.5 170.2C245.8 170.5 247.2 170.8 248.5 171C249.8 171.3 251.2 171.5 252.5 171.8C253.9 172 255.2 172.2 256.6 172.4C257.9 172.7 259.2 172.9 260.6 173.1C261.9 173.3 263.3 173.5 264.6 173.7C266 173.9 267.3 174.1 268.7 174.3C270 174.6 271.4 174.8 272.7 175C274.1 175.2 275.4 175.3 276.8 175.5C278.1 175.7 279.5 175.9 280.8 176.1C282.2 176.3 283.5 176.5 284.9 176.7C286.2 177 287.6 177.2 288.9 177.4C290.3 177.6 292.3 177.9 293 178"/>
<path d="M181.4 4.5C181.4 5.2 181.5 7.2 181.5 8.5C181.5 9.8 181.5 11.2 181.4 12.5C181.4 13.9 181.4 15.2 181.3 16.6C181.3 18 181.2 19.3 181.2 20.7C181.1 22 181 23.4 181 24.8C180.9 26.2 180.8 27.5 180.7 28.9C180.6 30.3 180.5 31.7 180.4 33C180.3 34.4 180.2 35.8 180.2 37.2C180.1 38.6 180 39.9 179.9 41.3C179.8 42.7 179.7 44.1 179.6 45.5C179.5 46.9 179.4 48.3 179.4 49.7C179.3 51 179.2 52.4 179.2 53.8C179.1 55.2 179.1 56.6 179 58C179 59.4 179 60.8 179 62.2C178.9 63.6 178.9 64.9 179 66.3C179 67.7 179 69.1 179 70.5C179.1 71.9 179.2 73.3 179.2 74.6C179.3 76 179.4 77.4 179.6 78.8C179.7 80.1 179.8 81.5 180 82.9C180.2 84.3 180.4 85.6 180.6 87C180.8 88.4 181.1 89.7 181.3 91.1C181.6 92.4 181.9 93.8 182.2 95.1C182.6 96.4 182.9 97.8 183.3 99.1C183.7 100.4 184.1 101.7 184.6 103C185 104.3 185.5 105.5 186 106.8C186.6 108 187.1 109.3 187.7 110.5C188.3 111.7 188.9 112.9 189.6 114.1C190.3 115.3 191 116.5 191.7 117.6C192.4 118.7 193.2 119.9 194 121C194.8 122.1 195.6 123.1 196.5 124.2C197.3 125.2 198.2 126.3 199.1 127.3C200 128.3 201 129.3 201.9 130.2C202.9 131.2 203.9 132.1 204.9 133.1C205.9 134 207 134.9 208 135.7C209.1 136.6 210.2 137.5 211.3 138.3C212.4 139.1 213.5 139.9 214.6 140.7C215.7 141.4 216.9 142.2 218.1 142.9C219.2 143.6 220.4 144.3 221.6 145C222.8 145.6 224 146.3 225.2 146.9C226.5 147.5 227.7 148.1 228.9 148.7C230.2 149.3 231.4 149.8 232.7 150.3C234 150.9 235.3 151.4 236.6 151.9C237.8 152.4 239.1 152.8 240.5 153.3C241.8 153.7 243.1 154.2 244.4 154.6C245.7 155 247.1 155.4 248.4 155.8C249.7 156.2 251.1 156.5 252.4 156.9C253.8 157.2 255.1 157.5 256.5 157.9C257.8 158.2 259.2 158.5 260.5 158.8C261.9 159 263.3 159.3 264.6 159.6C266 159.8 267.4 160.1 268.7 160.3C270.1 160.6 271.4 160.8 272.8 161C274.2 161.2 275.5 161.4 276.9 161.6C278.3 161.8 279.6 162 281 162.1C282.3 162.3 283.7 162.5 285 162.6C286.3 162.8 287.7 162.9 289 163.1C290.4 163.2 292.3 163.4 293 163.5"/>
<path d="M201.4 4.5C201.4 5.1 201.4 7.1 201.4 8.4C201.4 9.7 201.4 11 201.4 12.3C201.3 13.7 201.3 15 201.3 16.3C201.3 17.7 201.3 19.1 201.2 20.4C201.2 21.8 201.2 23.1 201.2 24.5C201.2 25.9 201.2 27.3 201.2 28.7C201.2 30.1 201.1 31.5 201.2 32.8C201.2 34.2 201.2 35.6 201.2 37C201.2 38.4 201.2 39.8 201.3 41.2C201.3 42.6 201.4 44.1 201.4 45.5C201.5 46.9 201.6 48.3 201.6 49.7C201.7 51.1 201.8 52.5 202 53.9C202.1 55.3 202.2 56.6 202.3 58C202.5 59.4 202.7 60.8 202.9 62.2C203 63.5 203.2 64.9 203.5 66.3C203.7 67.6 203.9 69 204.2 70.3C204.5 71.7 204.8 73 205.1 74.4C205.4 75.7 205.8 77 206.1 78.3C206.5 79.6 206.9 80.9 207.3 82.2C207.8 83.5 208.2 84.7 208.7 86C209.2 87.2 209.7 88.5 210.2 89.7C210.8 90.9 211.4 92.1 212 93.3C212.6 94.5 213.2 95.7 213.9 96.8C214.6 98 215.3 99.1 216 100.3C216.8 101.4 217.6 102.5 218.4 103.6C219.2 104.6 220 105.7 220.9 106.7C221.7 107.8 222.6 108.8 223.5 109.8C224.4 110.8 225.4 111.8 226.3 112.7C227.3 113.7 228.3 114.6 229.3 115.5C230.3 116.5 231.4 117.3 232.4 118.2C233.5 119.1 234.6 119.9 235.7 120.7C236.8 121.5 237.9 122.3 239 123.1C240.2 123.9 241.3 124.6 242.5 125.3C243.7 126 244.9 126.7 246.1 127.4C247.3 128.1 248.5 128.7 249.8 129.3C251 130 252.3 130.6 253.5 131.1C254.8 131.7 256.1 132.3 257.3 132.8C258.6 133.3 259.9 133.8 261.2 134.3C262.5 134.8 263.8 135.3 265.1 135.7C266.5 136.2 267.8 136.6 269.1 137C270.4 137.4 271.8 137.8 273.1 138.1C274.4 138.5 275.7 138.8 277.1 139.1C278.4 139.4 279.7 139.7 281.1 140C282.4 140.3 283.7 140.5 285.1 140.7C286.4 141 287.7 141.2 289.1 141.4C290.4 141.6 292.3 141.8 293 141.9"/>
<path d="M233.1 4.5C233.1 5.2 233 7.2 233 8.6C233 9.9 233 11.3 233 12.7C233.1 14.1 233.1 15.5 233.2 16.9C233.2 18.3 233.3 19.7 233.4 21.1C233.5 22.5 233.7 23.9 233.8 25.3C234 26.7 234.1 28.1 234.3 29.5C234.5 30.9 234.7 32.3 235 33.7C235.2 35.1 235.5 36.5 235.8 37.9C236.1 39.3 236.4 40.6 236.7 42C237 43.4 237.4 44.8 237.8 46.1C238.1 47.5 238.5 48.9 239 50.2C239.4 51.5 239.9 52.9 240.3 54.2C240.8 55.5 241.3 56.8 241.9 58.1C242.4 59.4 243 60.7 243.6 62C244.1 63.2 244.8 64.5 245.4 65.7C246 67 246.7 68.2 247.4 69.4C248.1 70.6 248.8 71.7 249.6 72.9C250.4 74 251.2 75.2 252 76.3C252.8 77.4 253.6 78.5 254.5 79.5C255.4 80.6 256.3 81.6 257.2 82.6C258.2 83.7 259.1 84.6 260.1 85.6C261.1 86.6 262.1 87.5 263.2 88.4C264.2 89.3 265.3 90.1 266.4 91C267.5 91.8 268.6 92.6 269.8 93.4C270.9 94.2 272.1 94.9 273.3 95.6C274.5 96.3 275.7 97 277 97.6C278.2 98.3 279.5 98.9 280.8 99.4C282.1 100 283.4 100.5 284.7 101C286.1 101.5 287.4 101.9 288.8 102.3C290.2 102.7 292.3 103.2 293 103.4"/>
</g></g>
<rect x="38.4" y="5.4" width="253.8" height="214.6" fill="none" stroke="#808080" stroke-width="0.9"/>
<path d="M80.3 220v-3M80.3 5.4v3M38.4 184.4h3M292.1 184.4h-3M122.8 220v-3M122.8 5.4v3M38.4 148.5h3M292.1 148.5h-3M165.4 220v-3M165.4 5.4v3M38.4 112.5h3M292.1 112.5h-3M207.9 220v-3M207.9 5.4v3M38.4 76.6h3M292.1 76.6h-3M250.4 220v-3M250.4 5.4v3M38.4 40.6h3M292.1 40.6h-3" stroke="#333" stroke-width="0.7" fill="none"/>
<g class="tl"><text x="80.3" y="238" text-anchor="middle">0.5</text><text x="34.1" y="189.8" text-anchor="end">0.5</text><text x="122.8" y="238" text-anchor="middle">1</text><text x="34.1" y="153.9" text-anchor="end">1</text><text x="165.4" y="238" text-anchor="middle">1.5</text><text x="34.1" y="117.9" text-anchor="end">1.5</text><text x="207.9" y="238" text-anchor="middle">2</text><text x="34.1" y="82" text-anchor="end">2</text><text x="250.4" y="238" text-anchor="middle">2.5</text><text x="34.1" y="46" text-anchor="end">2.5</text></g>
<text class="al" x="165.2" y="255" text-anchor="middle"><tspan font-style="italic">&#963;</tspan><tspan font-size="11" dy="3">1</tspan><tspan font-style="italic" dy="-3">&#951;</tspan><tspan font-size="11" dy="3">0</tspan></text>
<text class="al" transform="translate(8.1 113.7) rotate(-90)" text-anchor="middle"><tspan font-style="italic">&#963;</tspan><tspan font-size="11" dy="3">2</tspan><tspan font-style="italic" dy="-3">&#951;</tspan><tspan font-size="11" dy="3">0</tspan></text>
<rect x="299.1" y="5.4" width="14.6" height="214.6" fill="url(#jetg)"/>
<rect x="299.1" y="5.4" width="14.6" height="214.6" fill="none" stroke="#6e6e6e" stroke-width="0.8"/>
<path d="M313.7 220h-2.5M313.7 177.1h-2.5M313.7 134.2h-2.5M313.7 91.2h-2.5M313.7 48.3h-2.5M313.7 5.4h-2.5" stroke="#444" stroke-width="0.6" fill="none"/>
<g class="cbl"><text x="318.1" y="225">0.4</text><text x="318.1" y="182.1">0.6</text><text x="318.1" y="139.2">0.8</text><text x="318.1" y="96.2">1</text><text x="318.1" y="53.3">1.2</text><text x="318.1" y="10.4">1.4</text></g>
<clipPath id="cpb"><rect x="387.2" y="5.5" width="253.3" height="214.5"/></clipPath>
<g clip-path="url(#cpb)">
<path d="M386.2 4.5H641.5V221H386.2Z" fill="#8FFF70"/>
<path d="M399.2 4.5C399.3 5.2 399.4 7.4 399.6 8.8C399.7 10.2 399.9 11.6 400.1 13C400.2 14.3 400.4 15.7 400.6 17.1C400.8 18.4 401 19.7 401.3 21.1C401.5 22.4 401.7 23.7 402 25.1C402.3 26.4 402.5 27.7 402.8 29C403.1 30.3 403.4 31.6 403.8 32.9C404.1 34.2 404.4 35.5 404.8 36.8C405.1 38.1 405.5 39.4 405.8 40.7C406.2 42 406.6 43.3 407 44.7C407.4 46 407.9 47.3 408.3 48.6C408.7 49.9 409.2 51.3 409.7 52.6C410.1 54 410.6 55.3 411.1 56.7C411.6 58.1 412.1 59.5 412.6 60.8C413.2 62.2 413.7 63.6 414.4 64.8C415.1 66.1 415.8 67.3 416.6 68.3C417.5 69.4 418.5 70.3 419.6 71C420.7 71.6 421.9 72.1 423.1 72.3C424.3 72.5 425.6 72.3 426.7 71.9C427.9 71.5 429 70.8 430 69.9C431.1 69.1 432.1 68 433.1 66.9C434 65.8 434.9 64.5 435.7 63.2C436.6 62 437.3 60.7 438 59.5C438.6 58.3 439.2 57 439.8 55.8C440.3 54.6 440.9 53.3 441.4 52.1C441.9 50.8 442.3 49.6 442.8 48.3C443.3 47.1 443.8 45.8 444.2 44.5C444.7 43.2 445.1 41.9 445.6 40.6C446 39.3 446.4 38 446.9 36.7C447.3 35.4 447.7 34 448.1 32.7C448.5 31.4 448.9 30 449.3 28.7C449.6 27.4 450 26 450.4 24.7C450.7 23.3 451 22 451.4 20.6C451.7 19.3 452 17.9 452.3 16.6C452.6 15.2 452.8 13.9 453.1 12.5C453.3 11.2 453.6 9.8 453.8 8.5C454 7.2 454.3 5.2 454.4 4.5Z" fill="#30FFCF"/>
<path d="M413 220.6C413.6 220.2 415.4 218.9 416.6 218.1C417.8 217.3 419.1 216.6 420.3 216C421.5 215.3 422.8 214.8 424.1 214.2C425.3 213.7 426.6 213.2 427.9 212.8C429.2 212.3 430.5 211.9 431.8 211.6C433.2 211.2 434.5 210.9 435.8 210.7C437.1 210.4 438.5 210.2 439.8 210C441.2 209.9 442.5 209.7 443.9 209.6C445.3 209.5 446.6 209.5 448 209.4C449.4 209.4 450.8 209.4 452.1 209.4C453.5 209.4 454.9 209.4 456.3 209.5C457.7 209.6 459.1 209.7 460.5 209.8C461.8 209.9 463.2 210 464.6 210.1C466 210.3 467.4 210.4 468.8 210.6C470.2 210.8 471.6 210.9 473 211.1C474.4 211.3 475.8 211.5 477.1 211.7C478.5 211.9 479.9 212.1 481.3 212.4C482.7 212.6 484.1 212.8 485.5 213C486.8 213.3 488.2 213.5 489.6 213.8C491 214 492.4 214.2 493.7 214.5C495.1 214.7 496.5 215 497.9 215.2C499.3 215.5 500.6 215.7 502 216C503.4 216.2 504.8 216.5 506.2 216.7C507.5 216.9 508.9 217.2 510.3 217.4C511.7 217.6 513 217.9 514.4 218.1C515.8 218.3 517.2 218.5 518.5 218.7C519.9 218.9 521.3 219.1 522.7 219.3C524 219.5 525.4 219.6 526.8 219.8C528.1 220 529.5 220.1 530.9 220.2C532.3 220.4 534.3 220.5 535 220.6Z" fill="#30FFCF"/>
<path d="M387.3 4.5C387.4 5.2 387.7 7.2 387.9 8.5C388 9.9 388.2 11.2 388.4 12.6C388.5 13.9 388.7 15.3 388.8 16.6C389 18 389.1 19.3 389.2 20.7C389.3 22.1 389.5 23.4 389.6 24.8C389.7 26.1 389.8 27.5 389.9 28.9C390 30.2 390.1 31.6 390.2 32.9C390.3 34.3 390.4 35.7 390.5 37C390.6 38.4 390.7 39.8 390.8 41.1C390.9 42.5 391 43.9 391.1 45.2C391.2 46.6 391.3 47.9 391.4 49.3C391.5 50.7 391.6 52 391.7 53.4C391.8 54.8 391.9 56.1 392.1 57.5C392.2 58.8 392.3 60.2 392.4 61.6C392.6 62.9 392.7 64.3 392.9 65.6C393 67 393.2 68.3 393.4 69.7C393.5 71 393.7 72.4 393.9 73.7C394.1 75.1 394.3 76.4 394.5 77.8C394.7 79.1 395 80.4 395.2 81.8C395.4 83.1 395.7 84.4 396 85.8C396.2 87.1 396.5 88.4 396.8 89.8C397.1 91.1 397.4 92.4 397.7 93.8C398 95.1 398.3 96.4 398.6 97.7C398.9 99.1 399.2 100.4 399.5 101.7C399.9 103 400.2 104.3 400.5 105.7C400.8 107 401.2 108.3 401.5 109.6C401.8 111 402.2 112.3 402.5 113.6C402.8 114.9 403.1 116.3 403.5 117.6C403.8 118.9 404.1 120.2 404.5 121.6C404.8 122.9 405.1 124.2 405.4 125.6C405.7 126.9 406 128.2 406.3 129.5C406.6 130.9 406.9 132.2 407.2 133.6C407.5 134.9 407.8 136.2 408 137.6C408.3 138.9 408.6 140.3 408.8 141.6C409.1 143 409.3 144.3 409.5 145.7C409.7 147 409.9 148.4 410.1 149.7C410.3 151.1 410.5 152.5 410.6 153.8C410.7 155.2 410.9 156.5 410.9 157.9C411 159.2 411.1 160.6 411.1 161.9C411.2 163.3 411.2 164.6 411.2 166C411.2 167.3 411.1 168.6 411 170C410.9 171.3 410.8 172.6 410.6 174C410.5 175.3 410.3 176.6 410 177.9C409.8 179.2 409.5 180.6 409.2 181.9C408.9 183.2 408.5 184.4 408.1 185.7C407.7 187 407.2 188.3 406.7 189.6C406.2 190.8 405.6 192.1 405 193.3C404.5 194.6 403.8 195.8 403.2 197C402.5 198.3 401.8 199.5 401.1 200.7C400.4 201.9 399.6 203.1 398.9 204.2C398.1 205.4 397.3 206.6 396.5 207.7C395.7 208.8 394.9 210 394.1 211.1C393.3 212.2 392.5 213.3 391.6 214.4C390.8 215.4 389.9 216.5 389.1 217.5C388.3 218.6 387 220.1 386.6 220.6L386.2 221L386.2 4.5Z" fill="#EFFF10"/>
<path d="M472.6 4.5C472.5 5.2 472.1 7.1 471.8 8.5C471.6 9.8 471.3 11.1 471.1 12.4C470.8 13.8 470.6 15.1 470.4 16.4C470.1 17.8 469.9 19.1 469.7 20.4C469.5 21.8 469.2 23.1 469 24.5C468.8 25.8 468.6 27.1 468.4 28.5C468.2 29.8 468 31.2 467.8 32.5C467.6 33.9 467.4 35.2 467.2 36.6C467 37.9 466.8 39.3 466.6 40.7C466.4 42 466.2 43.4 466 44.7C465.8 46.1 465.6 47.4 465.4 48.8C465.2 50.1 465 51.5 464.8 52.8C464.6 54.2 464.4 55.5 464.2 56.9C463.9 58.2 463.7 59.6 463.5 60.9C463.3 62.3 463.1 63.6 462.8 65C462.6 66.3 462.4 67.6 462.1 69C461.9 70.3 461.7 71.7 461.4 73C461.2 74.3 460.9 75.6 460.6 77C460.4 78.3 460.1 79.6 459.8 80.9C459.5 82.3 459.2 83.6 458.9 84.9C458.6 86.2 458.3 87.5 458 88.8C457.7 90.1 457.4 91.4 457 92.7C456.7 94 456.4 95.3 456.1 96.6C455.7 97.9 455.4 99.2 455.1 100.6C454.7 101.9 454.4 103.2 454.1 104.5C453.8 105.8 453.4 107.1 453.1 108.4C452.8 109.7 452.5 111.1 452.2 112.4C451.9 113.7 451.6 115.1 451.3 116.4C451 117.7 450.8 119.1 450.5 120.4C450.2 121.8 450 123.2 449.8 124.5C449.5 125.9 449.3 127.3 449.1 128.7C448.9 130.1 448.7 131.5 448.6 132.9C448.5 134.2 448.3 135.6 448.3 137C448.2 138.4 448.2 139.8 448.2 141.2C448.2 142.6 448.2 143.9 448.3 145.3C448.4 146.6 448.5 148 448.7 149.3C449 150.6 449.2 151.9 449.5 153.2C449.9 154.5 450.2 155.8 450.7 157C451.1 158.2 451.7 159.4 452.3 160.6C452.9 161.8 453.6 162.9 454.3 164C455 165.2 455.9 166.2 456.7 167.3C457.6 168.4 458.5 169.4 459.4 170.4C460.3 171.4 461.3 172.3 462.3 173.3C463.3 174.2 464.3 175.1 465.3 176C466.4 176.9 467.4 177.7 468.5 178.5C469.5 179.4 470.6 180.2 471.7 180.9C472.8 181.7 473.9 182.4 475.1 183.2C476.2 183.9 477.3 184.6 478.5 185.3C479.7 185.9 480.8 186.6 482 187.2C483.2 187.8 484.4 188.4 485.6 189C486.8 189.6 488 190.2 489.3 190.7C490.5 191.3 491.7 191.8 493 192.3C494.3 192.8 495.5 193.3 496.8 193.8C498.1 194.3 499.4 194.7 500.6 195.2C501.9 195.6 503.2 196 504.5 196.5C505.8 196.9 507.2 197.3 508.5 197.7C509.8 198 511.1 198.4 512.4 198.8C513.8 199.1 515.1 199.5 516.4 199.8C517.8 200.2 519.1 200.5 520.5 200.8C521.8 201.1 523.2 201.4 524.5 201.7C525.9 202 527.2 202.3 528.6 202.6C529.9 202.9 531.3 203.2 532.6 203.5C534 203.7 535.3 204 536.7 204.3C538 204.5 539.4 204.8 540.7 205.1C542.1 205.3 543.4 205.6 544.8 205.8C546.1 206.1 547.4 206.3 548.8 206.6C550.1 206.8 551.5 207.1 552.8 207.3C554.1 207.5 555.5 207.8 556.8 208C558.1 208.3 559.5 208.5 560.8 208.7C562.1 208.9 563.5 209.2 564.8 209.4C566.1 209.6 567.5 209.8 568.8 210C570.1 210.2 571.4 210.4 572.8 210.7C574.1 210.9 575.4 211.1 576.8 211.3C578.1 211.5 579.4 211.7 580.7 211.8C582.1 212 583.4 212.2 584.7 212.4C586.1 212.6 587.4 212.8 588.7 213C590 213.1 591.4 213.3 592.7 213.5C594 213.6 595.4 213.8 596.7 214C598 214.1 599.4 214.3 600.7 214.4C602 214.6 603.4 214.7 604.7 214.9C606.1 215 607.4 215.2 608.7 215.3C610.1 215.5 611.4 215.6 612.8 215.7C614.1 215.8 615.5 216 616.8 216.1C618.2 216.2 619.5 216.3 620.9 216.4C622.3 216.6 623.6 216.7 625 216.8C626.3 216.9 627.7 217 629.1 217.1C630.4 217.2 631.8 217.2 633.2 217.3C634.6 217.4 636 217.5 637.3 217.6C638.7 217.7 640.8 217.8 641.5 217.8L641.5 4.5Z" fill="#EFFF10"/>
<path d="M491.4 4.5C491.4 5.2 491.3 7.2 491.2 8.6C491.2 10 491.1 11.3 491 12.7C490.9 14.1 490.8 15.4 490.7 16.8C490.6 18.1 490.5 19.5 490.4 20.9C490.2 22.2 490.1 23.6 490 24.9C489.8 26.3 489.7 27.6 489.6 29C489.4 30.3 489.3 31.7 489.1 33C489 34.4 488.8 35.7 488.6 37.1C488.5 38.4 488.3 39.7 488.2 41.1C488 42.4 487.8 43.8 487.6 45.1C487.5 46.5 487.3 47.8 487.1 49.1C487 50.5 486.8 51.8 486.6 53.2C486.5 54.5 486.3 55.9 486.1 57.2C486 58.5 485.8 59.9 485.7 61.2C485.5 62.6 485.3 63.9 485.2 65.2C485 66.6 484.9 67.9 484.8 69.3C484.6 70.6 484.5 72 484.3 73.3C484.2 74.7 484.1 76 484 77.4C483.9 78.7 483.8 80.1 483.7 81.4C483.6 82.8 483.5 84.1 483.4 85.5C483.3 86.8 483.2 88.2 483.2 89.5C483.1 90.9 483.1 92.2 483 93.6C483 95 483 96.3 483 97.7C482.9 99.1 482.9 100.4 483 101.8C483 103.2 483 104.5 483 105.9C483.1 107.3 483.1 108.7 483.2 110C483.3 111.4 483.4 112.8 483.5 114.2C483.6 115.6 483.7 116.9 483.9 118.3C484 119.7 484.2 121 484.4 122.4C484.6 123.8 484.8 125.1 485.1 126.5C485.3 127.8 485.6 129.1 485.9 130.5C486.2 131.8 486.5 133.1 486.9 134.4C487.3 135.7 487.7 137 488.1 138.2C488.5 139.5 489 140.8 489.5 142C490 143.2 490.5 144.5 491 145.7C491.6 146.9 492.2 148 492.9 149.2C493.5 150.3 494.2 151.5 494.9 152.6C495.6 153.7 496.4 154.8 497.2 155.8C498 156.9 498.9 157.9 499.8 158.9C500.7 159.9 501.6 160.9 502.6 161.8C503.6 162.8 504.6 163.7 505.6 164.6C506.7 165.5 507.8 166.3 508.9 167.2C510 168 511.1 168.8 512.3 169.6C513.4 170.4 514.6 171.1 515.8 171.9C517 172.6 518.2 173.3 519.4 174C520.6 174.7 521.8 175.3 523 176C524.2 176.6 525.5 177.2 526.7 177.8C527.9 178.4 529.2 179 530.4 179.5C531.7 180.1 532.9 180.6 534.2 181.1C535.4 181.6 536.7 182.1 538 182.6C539.2 183.1 540.5 183.5 541.8 184C543.1 184.4 544.3 184.8 545.6 185.3C546.9 185.7 548.2 186.1 549.5 186.5C550.8 186.9 552.1 187.2 553.4 187.6C554.7 188 556 188.3 557.3 188.7C558.6 189 559.9 189.4 561.2 189.7C562.5 190 563.8 190.4 565.2 190.7C566.5 191 567.8 191.3 569.1 191.6C570.4 191.9 571.7 192.2 573.1 192.5C574.4 192.8 575.7 193.1 577 193.4C578.4 193.7 579.7 194 581 194.2C582.4 194.5 583.7 194.8 585 195C586.4 195.3 587.7 195.5 589 195.8C590.4 196 591.7 196.3 593 196.5C594.4 196.7 595.7 197 597.1 197.2C598.4 197.4 599.7 197.6 601.1 197.9C602.4 198.1 603.8 198.3 605.1 198.5C606.4 198.7 607.8 198.9 609.1 199.1C610.5 199.3 611.8 199.5 613.2 199.7C614.5 199.8 615.9 200 617.2 200.2C618.6 200.4 619.9 200.6 621.3 200.7C622.6 200.9 624 201.1 625.3 201.2C626.7 201.4 628 201.5 629.4 201.7C630.7 201.9 632.1 202 633.4 202.2C634.8 202.3 636.1 202.4 637.5 202.6C638.8 202.7 640.8 202.9 641.5 203L641.5 4.5Z" fill="#FFAF00"/>
<path d="M513.3 4.5C513.3 5.2 513.3 7.2 513.3 8.6C513.3 9.9 513.3 11.3 513.3 12.6C513.3 14 513.3 15.4 513.2 16.7C513.2 18.1 513.1 19.5 513.1 20.8C513 22.2 513 23.6 512.9 25C512.9 26.3 512.8 27.7 512.7 29.1C512.7 30.5 512.6 31.8 512.5 33.2C512.4 34.6 512.4 36 512.3 37.3C512.2 38.7 512.1 40.1 512.1 41.5C512 42.9 511.9 44.3 511.9 45.6C511.8 47 511.7 48.4 511.7 49.8C511.6 51.2 511.5 52.5 511.5 53.9C511.4 55.3 511.4 56.7 511.3 58.1C511.3 59.5 511.3 60.8 511.2 62.2C511.2 63.6 511.2 65 511.2 66.4C511.2 67.7 511.2 69.1 511.2 70.5C511.2 71.9 511.3 73.2 511.3 74.6C511.3 76 511.4 77.4 511.5 78.7C511.5 80.1 511.6 81.5 511.7 82.9C511.8 84.2 512 85.6 512.1 87C512.2 88.3 512.4 89.7 512.5 91C512.7 92.4 512.9 93.8 513.1 95.1C513.3 96.5 513.6 97.8 513.8 99.2C514.1 100.5 514.4 101.9 514.7 103.2C515 104.6 515.3 105.9 515.6 107.2C516 108.6 516.4 109.9 516.8 111.2C517.2 112.5 517.6 113.9 518 115.2C518.5 116.5 519 117.7 519.5 119C520 120.3 520.5 121.5 521.1 122.8C521.7 124 522.3 125.3 522.9 126.5C523.5 127.7 524.2 128.9 524.9 130C525.6 131.2 526.3 132.4 527.1 133.5C527.8 134.6 528.6 135.7 529.4 136.8C530.3 137.9 531.1 138.9 532 139.9C532.9 141 533.8 141.9 534.8 142.9C535.8 143.9 536.8 144.8 537.8 145.7C538.8 146.6 539.9 147.5 540.9 148.4C542 149.3 543.1 150.1 544.2 150.9C545.4 151.7 546.5 152.5 547.7 153.3C548.8 154 550 154.8 551.2 155.5C552.3 156.2 553.5 156.9 554.7 157.6C556 158.3 557.2 159 558.4 159.6C559.6 160.2 560.9 160.9 562.1 161.5C563.3 162.1 564.6 162.7 565.8 163.2C567.1 163.8 568.4 164.4 569.6 164.9C570.9 165.4 572.2 166 573.5 166.5C574.7 167 576 167.5 577.3 168C578.6 168.4 579.9 168.9 581.2 169.3C582.5 169.8 583.8 170.2 585.1 170.6C586.4 171.1 587.7 171.5 589 171.9C590.3 172.3 591.6 172.7 592.9 173C594.3 173.4 595.6 173.8 596.9 174.1C598.2 174.4 599.6 174.8 600.9 175.1C602.2 175.4 603.5 175.7 604.9 176C606.2 176.3 607.6 176.6 608.9 176.9C610.2 177.2 611.6 177.5 612.9 177.7C614.3 178 615.6 178.2 617 178.5C618.3 178.7 619.7 179 621 179.2C622.4 179.4 623.8 179.6 625.1 179.8C626.5 180 627.8 180.2 629.2 180.4C630.6 180.6 631.9 180.8 633.3 181C634.7 181.2 636 181.3 637.4 181.5C638.8 181.7 640.8 181.9 641.5 182L641.5 4.5Z" fill="#FF4000"/>
<path d="M545 4.5C545 5.2 544.9 7.1 544.9 8.4C544.8 9.7 544.8 11.1 544.8 12.4C544.7 13.7 544.7 15.1 544.7 16.4C544.7 17.8 544.7 19.1 544.7 20.5C544.8 21.8 544.8 23.2 544.8 24.6C544.9 26 544.9 27.3 545 28.7C545 30.1 545.1 31.5 545.2 32.9C545.2 34.3 545.3 35.7 545.4 37C545.5 38.4 545.7 39.8 545.8 41.2C545.9 42.6 546.1 44 546.2 45.4C546.4 46.8 546.5 48.2 546.7 49.6C546.9 51 547.1 52.4 547.3 53.7C547.6 55.1 547.8 56.5 548 57.9C548.3 59.3 548.5 60.6 548.8 62C549.1 63.4 549.4 64.8 549.7 66.1C550 67.5 550.4 68.8 550.7 70.2C551.1 71.5 551.4 72.9 551.8 74.2C552.2 75.5 552.6 76.8 553.1 78.1C553.5 79.5 553.9 80.8 554.4 82C554.9 83.3 555.4 84.6 555.9 85.9C556.4 87.2 556.9 88.4 557.4 89.7C558 90.9 558.6 92.1 559.2 93.3C559.8 94.6 560.4 95.8 561 97C561.7 98.1 562.3 99.3 563 100.5C563.7 101.6 564.4 102.8 565.1 103.9C565.9 105 566.6 106.1 567.4 107.2C568.2 108.3 569 109.4 569.8 110.4C570.7 111.5 571.5 112.5 572.4 113.5C573.3 114.5 574.2 115.5 575.2 116.5C576.1 117.4 577.1 118.4 578.1 119.3C579.1 120.2 580.1 121.1 581.2 122C582.2 122.9 583.3 123.7 584.4 124.5C585.5 125.4 586.6 126.2 587.8 127C588.9 127.7 590.1 128.5 591.3 129.2C592.5 130 593.7 130.7 594.9 131.4C596.1 132.1 597.4 132.7 598.6 133.4C599.9 134 601.1 134.7 602.4 135.3C603.6 135.9 604.9 136.5 606.2 137.1C607.5 137.6 608.7 138.2 610 138.7C611.3 139.2 612.6 139.7 613.8 140.2C615.1 140.7 616.4 141.2 617.7 141.6C619 142.1 620.3 142.5 621.6 142.9C622.9 143.3 624.2 143.7 625.5 144C626.8 144.4 628.1 144.7 629.5 145C630.8 145.3 632.1 145.6 633.4 145.9C634.8 146.2 636.1 146.4 637.4 146.6C638.8 146.8 640.8 147.1 641.5 147.2L641.5 4.5Z" fill="#DF0000"/>
<path d="M612.2 4.5C612.4 5.2 613 7.4 613.4 8.8C613.9 10.2 614.3 11.6 614.8 13C615.3 14.5 615.9 15.8 616.4 17.2C617 18.6 617.6 20 618.2 21.3C618.8 22.7 619.4 24 620.1 25.3C620.8 26.6 621.5 27.9 622.2 29.2C622.9 30.5 623.7 31.8 624.4 33C625.2 34.3 626 35.5 626.9 36.7C627.7 38 628.6 39.2 629.5 40.3C630.4 41.5 631.3 42.7 632.2 43.8C633.2 45 634.2 46.1 635.2 47.2C636.2 48.3 637.2 49.4 638.3 50.4C639.3 51.5 641 53 641.5 53.5L641.5 4.5Z" fill="#800000"/>
<g fill="none" stroke="#000" stroke-width="0.65" stroke-linejoin="round">
<path d="M399.2 4.5C399.3 5.2 399.4 7.4 399.6 8.8C399.7 10.2 399.9 11.6 400.1 13C400.2 14.3 400.4 15.7 400.6 17.1C400.8 18.4 401 19.7 401.3 21.1C401.5 22.4 401.7 23.7 402 25.1C402.3 26.4 402.5 27.7 402.8 29C403.1 30.3 403.4 31.6 403.8 32.9C404.1 34.2 404.4 35.5 404.8 36.8C405.1 38.1 405.5 39.4 405.8 40.7C406.2 42 406.6 43.3 407 44.7C407.4 46 407.9 47.3 408.3 48.6C408.7 49.9 409.2 51.3 409.7 52.6C410.1 54 410.6 55.3 411.1 56.7C411.6 58.1 412.1 59.5 412.6 60.8C413.2 62.2 413.7 63.6 414.4 64.8C415.1 66.1 415.8 67.3 416.6 68.3C417.5 69.4 418.5 70.3 419.6 71C420.7 71.6 421.9 72.1 423.1 72.3C424.3 72.5 425.6 72.3 426.7 71.9C427.9 71.5 429 70.8 430 69.9C431.1 69.1 432.1 68 433.1 66.9C434 65.8 434.9 64.5 435.7 63.2C436.6 62 437.3 60.7 438 59.5C438.6 58.3 439.2 57 439.8 55.8C440.3 54.6 440.9 53.3 441.4 52.1C441.9 50.8 442.3 49.6 442.8 48.3C443.3 47.1 443.8 45.8 444.2 44.5C444.7 43.2 445.1 41.9 445.6 40.6C446 39.3 446.4 38 446.9 36.7C447.3 35.4 447.7 34 448.1 32.7C448.5 31.4 448.9 30 449.3 28.7C449.6 27.4 450 26 450.4 24.7C450.7 23.3 451 22 451.4 20.6C451.7 19.3 452 17.9 452.3 16.6C452.6 15.2 452.8 13.9 453.1 12.5C453.3 11.2 453.6 9.8 453.8 8.5C454 7.2 454.3 5.2 454.4 4.5"/>
<path d="M387.3 4.5C387.4 5.2 387.7 7.2 387.9 8.5C388 9.9 388.2 11.2 388.4 12.6C388.5 13.9 388.7 15.3 388.8 16.6C389 18 389.1 19.3 389.2 20.7C389.3 22.1 389.5 23.4 389.6 24.8C389.7 26.1 389.8 27.5 389.9 28.9C390 30.2 390.1 31.6 390.2 32.9C390.3 34.3 390.4 35.7 390.5 37C390.6 38.4 390.7 39.8 390.8 41.1C390.9 42.5 391 43.9 391.1 45.2C391.2 46.6 391.3 47.9 391.4 49.3C391.5 50.7 391.6 52 391.7 53.4C391.8 54.8 391.9 56.1 392.1 57.5C392.2 58.8 392.3 60.2 392.4 61.6C392.6 62.9 392.7 64.3 392.9 65.6C393 67 393.2 68.3 393.4 69.7C393.5 71 393.7 72.4 393.9 73.7C394.1 75.1 394.3 76.4 394.5 77.8C394.7 79.1 395 80.4 395.2 81.8C395.4 83.1 395.7 84.4 396 85.8C396.2 87.1 396.5 88.4 396.8 89.8C397.1 91.1 397.4 92.4 397.7 93.8C398 95.1 398.3 96.4 398.6 97.7C398.9 99.1 399.2 100.4 399.5 101.7C399.9 103 400.2 104.3 400.5 105.7C400.8 107 401.2 108.3 401.5 109.6C401.8 111 402.2 112.3 402.5 113.6C402.8 114.9 403.1 116.3 403.5 117.6C403.8 118.9 404.1 120.2 404.5 121.6C404.8 122.9 405.1 124.2 405.4 125.6C405.7 126.9 406 128.2 406.3 129.5C406.6 130.9 406.9 132.2 407.2 133.6C407.5 134.9 407.8 136.2 408 137.6C408.3 138.9 408.6 140.3 408.8 141.6C409.1 143 409.3 144.3 409.5 145.7C409.7 147 409.9 148.4 410.1 149.7C410.3 151.1 410.5 152.5 410.6 153.8C410.7 155.2 410.9 156.5 410.9 157.9C411 159.2 411.1 160.6 411.1 161.9C411.2 163.3 411.2 164.6 411.2 166C411.2 167.3 411.1 168.6 411 170C410.9 171.3 410.8 172.6 410.6 174C410.5 175.3 410.3 176.6 410 177.9C409.8 179.2 409.5 180.6 409.2 181.9C408.9 183.2 408.5 184.4 408.1 185.7C407.7 187 407.2 188.3 406.7 189.6C406.2 190.8 405.6 192.1 405 193.3C404.5 194.6 403.8 195.8 403.2 197C402.5 198.3 401.8 199.5 401.1 200.7C400.4 201.9 399.6 203.1 398.9 204.2C398.1 205.4 397.3 206.6 396.5 207.7C395.7 208.8 394.9 210 394.1 211.1C393.3 212.2 392.5 213.3 391.6 214.4C390.8 215.4 389.9 216.5 389.1 217.5C388.3 218.6 387 220.1 386.6 220.6"/>
<path d="M472.6 4.5C472.5 5.2 472.1 7.1 471.8 8.5C471.6 9.8 471.3 11.1 471.1 12.4C470.8 13.8 470.6 15.1 470.4 16.4C470.1 17.8 469.9 19.1 469.7 20.4C469.5 21.8 469.2 23.1 469 24.5C468.8 25.8 468.6 27.1 468.4 28.5C468.2 29.8 468 31.2 467.8 32.5C467.6 33.9 467.4 35.2 467.2 36.6C467 37.9 466.8 39.3 466.6 40.7C466.4 42 466.2 43.4 466 44.7C465.8 46.1 465.6 47.4 465.4 48.8C465.2 50.1 465 51.5 464.8 52.8C464.6 54.2 464.4 55.5 464.2 56.9C463.9 58.2 463.7 59.6 463.5 60.9C463.3 62.3 463.1 63.6 462.8 65C462.6 66.3 462.4 67.6 462.1 69C461.9 70.3 461.7 71.7 461.4 73C461.2 74.3 460.9 75.6 460.6 77C460.4 78.3 460.1 79.6 459.8 80.9C459.5 82.3 459.2 83.6 458.9 84.9C458.6 86.2 458.3 87.5 458 88.8C457.7 90.1 457.4 91.4 457 92.7C456.7 94 456.4 95.3 456.1 96.6C455.7 97.9 455.4 99.2 455.1 100.6C454.7 101.9 454.4 103.2 454.1 104.5C453.8 105.8 453.4 107.1 453.1 108.4C452.8 109.7 452.5 111.1 452.2 112.4C451.9 113.7 451.6 115.1 451.3 116.4C451 117.7 450.8 119.1 450.5 120.4C450.2 121.8 450 123.2 449.8 124.5C449.5 125.9 449.3 127.3 449.1 128.7C448.9 130.1 448.7 131.5 448.6 132.9C448.5 134.2 448.3 135.6 448.3 137C448.2 138.4 448.2 139.8 448.2 141.2C448.2 142.6 448.2 143.9 448.3 145.3C448.4 146.6 448.5 148 448.7 149.3C449 150.6 449.2 151.9 449.5 153.2C449.9 154.5 450.2 155.8 450.7 157C451.1 158.2 451.7 159.4 452.3 160.6C452.9 161.8 453.6 162.9 454.3 164C455 165.2 455.9 166.2 456.7 167.3C457.6 168.4 458.5 169.4 459.4 170.4C460.3 171.4 461.3 172.3 462.3 173.3C463.3 174.2 464.3 175.1 465.3 176C466.4 176.9 467.4 177.7 468.5 178.5C469.5 179.4 470.6 180.2 471.7 180.9C472.8 181.7 473.9 182.4 475.1 183.2C476.2 183.9 477.3 184.6 478.5 185.3C479.7 185.9 480.8 186.6 482 187.2C483.2 187.8 484.4 188.4 485.6 189C486.8 189.6 488 190.2 489.3 190.7C490.5 191.3 491.7 191.8 493 192.3C494.3 192.8 495.5 193.3 496.8 193.8C498.1 194.3 499.4 194.7 500.6 195.2C501.9 195.6 503.2 196 504.5 196.5C505.8 196.9 507.2 197.3 508.5 197.7C509.8 198 511.1 198.4 512.4 198.8C513.8 199.1 515.1 199.5 516.4 199.8C517.8 200.2 519.1 200.5 520.5 200.8C521.8 201.1 523.2 201.4 524.5 201.7C525.9 202 527.2 202.3 528.6 202.6C529.9 202.9 531.3 203.2 532.6 203.5C534 203.7 535.3 204 536.7 204.3C538 204.5 539.4 204.8 540.7 205.1C542.1 205.3 543.4 205.6 544.8 205.8C546.1 206.1 547.4 206.3 548.8 206.6C550.1 206.8 551.5 207.1 552.8 207.3C554.1 207.5 555.5 207.8 556.8 208C558.1 208.3 559.5 208.5 560.8 208.7C562.1 208.9 563.5 209.2 564.8 209.4C566.1 209.6 567.5 209.8 568.8 210C570.1 210.2 571.4 210.4 572.8 210.7C574.1 210.9 575.4 211.1 576.8 211.3C578.1 211.5 579.4 211.7 580.7 211.8C582.1 212 583.4 212.2 584.7 212.4C586.1 212.6 587.4 212.8 588.7 213C590 213.1 591.4 213.3 592.7 213.5C594 213.6 595.4 213.8 596.7 214C598 214.1 599.4 214.3 600.7 214.4C602 214.6 603.4 214.7 604.7 214.9C606.1 215 607.4 215.2 608.7 215.3C610.1 215.5 611.4 215.6 612.8 215.7C614.1 215.8 615.5 216 616.8 216.1C618.2 216.2 619.5 216.3 620.9 216.4C622.3 216.6 623.6 216.7 625 216.8C626.3 216.9 627.7 217 629.1 217.1C630.4 217.2 631.8 217.2 633.2 217.3C634.6 217.4 636 217.5 637.3 217.6C638.7 217.7 640.8 217.8 641.5 217.8"/>
<path d="M413 220.6C413.6 220.2 415.4 218.9 416.6 218.1C417.8 217.3 419.1 216.6 420.3 216C421.5 215.3 422.8 214.8 424.1 214.2C425.3 213.7 426.6 213.2 427.9 212.8C429.2 212.3 430.5 211.9 431.8 211.6C433.2 211.2 434.5 210.9 435.8 210.7C437.1 210.4 438.5 210.2 439.8 210C441.2 209.9 442.5 209.7 443.9 209.6C445.3 209.5 446.6 209.5 448 209.4C449.4 209.4 450.8 209.4 452.1 209.4C453.5 209.4 454.9 209.4 456.3 209.5C457.7 209.6 459.1 209.7 460.5 209.8C461.8 209.9 463.2 210 464.6 210.1C466 210.3 467.4 210.4 468.8 210.6C470.2 210.8 471.6 210.9 473 211.1C474.4 211.3 475.8 211.5 477.1 211.7C478.5 211.9 479.9 212.1 481.3 212.4C482.7 212.6 484.1 212.8 485.5 213C486.8 213.3 488.2 213.5 489.6 213.8C491 214 492.4 214.2 493.7 214.5C495.1 214.7 496.5 215 497.9 215.2C499.3 215.5 500.6 215.7 502 216C503.4 216.2 504.8 216.5 506.2 216.7C507.5 216.9 508.9 217.2 510.3 217.4C511.7 217.6 513 217.9 514.4 218.1C515.8 218.3 517.2 218.5 518.5 218.7C519.9 218.9 521.3 219.1 522.7 219.3C524 219.5 525.4 219.6 526.8 219.8C528.1 220 529.5 220.1 530.9 220.2C532.3 220.4 534.3 220.5 535 220.6"/>
<path d="M491.4 4.5C491.4 5.2 491.3 7.2 491.2 8.6C491.2 10 491.1 11.3 491 12.7C490.9 14.1 490.8 15.4 490.7 16.8C490.6 18.1 490.5 19.5 490.4 20.9C490.2 22.2 490.1 23.6 490 24.9C489.8 26.3 489.7 27.6 489.6 29C489.4 30.3 489.3 31.7 489.1 33C489 34.4 488.8 35.7 488.6 37.1C488.5 38.4 488.3 39.7 488.2 41.1C488 42.4 487.8 43.8 487.6 45.1C487.5 46.5 487.3 47.8 487.1 49.1C487 50.5 486.8 51.8 486.6 53.2C486.5 54.5 486.3 55.9 486.1 57.2C486 58.5 485.8 59.9 485.7 61.2C485.5 62.6 485.3 63.9 485.2 65.2C485 66.6 484.9 67.9 484.8 69.3C484.6 70.6 484.5 72 484.3 73.3C484.2 74.7 484.1 76 484 77.4C483.9 78.7 483.8 80.1 483.7 81.4C483.6 82.8 483.5 84.1 483.4 85.5C483.3 86.8 483.2 88.2 483.2 89.5C483.1 90.9 483.1 92.2 483 93.6C483 95 483 96.3 483 97.7C482.9 99.1 482.9 100.4 483 101.8C483 103.2 483 104.5 483 105.9C483.1 107.3 483.1 108.7 483.2 110C483.3 111.4 483.4 112.8 483.5 114.2C483.6 115.6 483.7 116.9 483.9 118.3C484 119.7 484.2 121 484.4 122.4C484.6 123.8 484.8 125.1 485.1 126.5C485.3 127.8 485.6 129.1 485.9 130.5C486.2 131.8 486.5 133.1 486.9 134.4C487.3 135.7 487.7 137 488.1 138.2C488.5 139.5 489 140.8 489.5 142C490 143.2 490.5 144.5 491 145.7C491.6 146.9 492.2 148 492.9 149.2C493.5 150.3 494.2 151.5 494.9 152.6C495.6 153.7 496.4 154.8 497.2 155.8C498 156.9 498.9 157.9 499.8 158.9C500.7 159.9 501.6 160.9 502.6 161.8C503.6 162.8 504.6 163.7 505.6 164.6C506.7 165.5 507.8 166.3 508.9 167.2C510 168 511.1 168.8 512.3 169.6C513.4 170.4 514.6 171.1 515.8 171.9C517 172.6 518.2 173.3 519.4 174C520.6 174.7 521.8 175.3 523 176C524.2 176.6 525.5 177.2 526.7 177.8C527.9 178.4 529.2 179 530.4 179.5C531.7 180.1 532.9 180.6 534.2 181.1C535.4 181.6 536.7 182.1 538 182.6C539.2 183.1 540.5 183.5 541.8 184C543.1 184.4 544.3 184.8 545.6 185.3C546.9 185.7 548.2 186.1 549.5 186.5C550.8 186.9 552.1 187.2 553.4 187.6C554.7 188 556 188.3 557.3 188.7C558.6 189 559.9 189.4 561.2 189.7C562.5 190 563.8 190.4 565.2 190.7C566.5 191 567.8 191.3 569.1 191.6C570.4 191.9 571.7 192.2 573.1 192.5C574.4 192.8 575.7 193.1 577 193.4C578.4 193.7 579.7 194 581 194.2C582.4 194.5 583.7 194.8 585 195C586.4 195.3 587.7 195.5 589 195.8C590.4 196 591.7 196.3 593 196.5C594.4 196.7 595.7 197 597.1 197.2C598.4 197.4 599.7 197.6 601.1 197.9C602.4 198.1 603.8 198.3 605.1 198.5C606.4 198.7 607.8 198.9 609.1 199.1C610.5 199.3 611.8 199.5 613.2 199.7C614.5 199.8 615.9 200 617.2 200.2C618.6 200.4 619.9 200.6 621.3 200.7C622.6 200.9 624 201.1 625.3 201.2C626.7 201.4 628 201.5 629.4 201.7C630.7 201.9 632.1 202 633.4 202.2C634.8 202.3 636.1 202.4 637.5 202.6C638.8 202.7 640.8 202.9 641.5 203"/>
<path d="M513.3 4.5C513.3 5.2 513.3 7.2 513.3 8.6C513.3 9.9 513.3 11.3 513.3 12.6C513.3 14 513.3 15.4 513.2 16.7C513.2 18.1 513.1 19.5 513.1 20.8C513 22.2 513 23.6 512.9 25C512.9 26.3 512.8 27.7 512.7 29.1C512.7 30.5 512.6 31.8 512.5 33.2C512.4 34.6 512.4 36 512.3 37.3C512.2 38.7 512.1 40.1 512.1 41.5C512 42.9 511.9 44.3 511.9 45.6C511.8 47 511.7 48.4 511.7 49.8C511.6 51.2 511.5 52.5 511.5 53.9C511.4 55.3 511.4 56.7 511.3 58.1C511.3 59.5 511.3 60.8 511.2 62.2C511.2 63.6 511.2 65 511.2 66.4C511.2 67.7 511.2 69.1 511.2 70.5C511.2 71.9 511.3 73.2 511.3 74.6C511.3 76 511.4 77.4 511.5 78.7C511.5 80.1 511.6 81.5 511.7 82.9C511.8 84.2 512 85.6 512.1 87C512.2 88.3 512.4 89.7 512.5 91C512.7 92.4 512.9 93.8 513.1 95.1C513.3 96.5 513.6 97.8 513.8 99.2C514.1 100.5 514.4 101.9 514.7 103.2C515 104.6 515.3 105.9 515.6 107.2C516 108.6 516.4 109.9 516.8 111.2C517.2 112.5 517.6 113.9 518 115.2C518.5 116.5 519 117.7 519.5 119C520 120.3 520.5 121.5 521.1 122.8C521.7 124 522.3 125.3 522.9 126.5C523.5 127.7 524.2 128.9 524.9 130C525.6 131.2 526.3 132.4 527.1 133.5C527.8 134.6 528.6 135.7 529.4 136.8C530.3 137.9 531.1 138.9 532 139.9C532.9 141 533.8 141.9 534.8 142.9C535.8 143.9 536.8 144.8 537.8 145.7C538.8 146.6 539.9 147.5 540.9 148.4C542 149.3 543.1 150.1 544.2 150.9C545.4 151.7 546.5 152.5 547.7 153.3C548.8 154 550 154.8 551.2 155.5C552.3 156.2 553.5 156.9 554.7 157.6C556 158.3 557.2 159 558.4 159.6C559.6 160.2 560.9 160.9 562.1 161.5C563.3 162.1 564.6 162.7 565.8 163.2C567.1 163.8 568.4 164.4 569.6 164.9C570.9 165.4 572.2 166 573.5 166.5C574.7 167 576 167.5 577.3 168C578.6 168.4 579.9 168.9 581.2 169.3C582.5 169.8 583.8 170.2 585.1 170.6C586.4 171.1 587.7 171.5 589 171.9C590.3 172.3 591.6 172.7 592.9 173C594.3 173.4 595.6 173.8 596.9 174.1C598.2 174.4 599.6 174.8 600.9 175.1C602.2 175.4 603.5 175.7 604.9 176C606.2 176.3 607.6 176.6 608.9 176.9C610.2 177.2 611.6 177.5 612.9 177.7C614.3 178 615.6 178.2 617 178.5C618.3 178.7 619.7 179 621 179.2C622.4 179.4 623.8 179.6 625.1 179.8C626.5 180 627.8 180.2 629.2 180.4C630.6 180.6 631.9 180.8 633.3 181C634.7 181.2 636 181.3 637.4 181.5C638.8 181.7 640.8 181.9 641.5 182"/>
<path d="M545 4.5C545 5.2 544.9 7.1 544.9 8.4C544.8 9.7 544.8 11.1 544.8 12.4C544.7 13.7 544.7 15.1 544.7 16.4C544.7 17.8 544.7 19.1 544.7 20.5C544.8 21.8 544.8 23.2 544.8 24.6C544.9 26 544.9 27.3 545 28.7C545 30.1 545.1 31.5 545.2 32.9C545.2 34.3 545.3 35.7 545.4 37C545.5 38.4 545.7 39.8 545.8 41.2C545.9 42.6 546.1 44 546.2 45.4C546.4 46.8 546.5 48.2 546.7 49.6C546.9 51 547.1 52.4 547.3 53.7C547.6 55.1 547.8 56.5 548 57.9C548.3 59.3 548.5 60.6 548.8 62C549.1 63.4 549.4 64.8 549.7 66.1C550 67.5 550.4 68.8 550.7 70.2C551.1 71.5 551.4 72.9 551.8 74.2C552.2 75.5 552.6 76.8 553.1 78.1C553.5 79.5 553.9 80.8 554.4 82C554.9 83.3 555.4 84.6 555.9 85.9C556.4 87.2 556.9 88.4 557.4 89.7C558 90.9 558.6 92.1 559.2 93.3C559.8 94.6 560.4 95.8 561 97C561.7 98.1 562.3 99.3 563 100.5C563.7 101.6 564.4 102.8 565.1 103.9C565.9 105 566.6 106.1 567.4 107.2C568.2 108.3 569 109.4 569.8 110.4C570.7 111.5 571.5 112.5 572.4 113.5C573.3 114.5 574.2 115.5 575.2 116.5C576.1 117.4 577.1 118.4 578.1 119.3C579.1 120.2 580.1 121.1 581.2 122C582.2 122.9 583.3 123.7 584.4 124.5C585.5 125.4 586.6 126.2 587.8 127C588.9 127.7 590.1 128.5 591.3 129.2C592.5 130 593.7 130.7 594.9 131.4C596.1 132.1 597.4 132.7 598.6 133.4C599.9 134 601.1 134.7 602.4 135.3C603.6 135.9 604.9 136.5 606.2 137.1C607.5 137.6 608.7 138.2 610 138.7C611.3 139.2 612.6 139.7 613.8 140.2C615.1 140.7 616.4 141.2 617.7 141.6C619 142.1 620.3 142.5 621.6 142.9C622.9 143.3 624.2 143.7 625.5 144C626.8 144.4 628.1 144.7 629.5 145C630.8 145.3 632.1 145.6 633.4 145.9C634.8 146.2 636.1 146.4 637.4 146.6C638.8 146.8 640.8 147.1 641.5 147.2"/>
<path d="M612.2 4.5C612.4 5.2 613 7.4 613.4 8.8C613.9 10.2 614.3 11.6 614.8 13C615.3 14.5 615.9 15.8 616.4 17.2C617 18.6 617.6 20 618.2 21.3C618.8 22.7 619.4 24 620.1 25.3C620.8 26.6 621.5 27.9 622.2 29.2C622.9 30.5 623.7 31.8 624.4 33C625.2 34.3 626 35.5 626.9 36.7C627.7 38 628.6 39.2 629.5 40.3C630.4 41.5 631.3 42.7 632.2 43.8C633.2 45 634.2 46.1 635.2 47.2C636.2 48.3 637.2 49.4 638.3 50.4C639.3 51.5 641 53 641.5 53.5"/>
</g></g>
<rect x="387.2" y="5.5" width="253.3" height="214.5" fill="none" stroke="#808080" stroke-width="0.9"/>
<path d="M429.1 220v-3M429.1 5.5v3M387.2 184.5h3M640.5 184.5h-3M471.5 220v-3M471.5 5.5v3M387.2 148.5h3M640.5 148.5h-3M514 220v-3M514 5.5v3M387.2 112.6h3M640.5 112.6h-3M556.4 220v-3M556.4 5.5v3M387.2 76.6h3M640.5 76.6h-3M598.9 220v-3M598.9 5.5v3M387.2 40.7h3M640.5 40.7h-3" stroke="#333" stroke-width="0.7" fill="none"/>
<g class="tl"><text x="429.1" y="238" text-anchor="middle">0.5</text><text x="382.9" y="189.9" text-anchor="end">0.5</text><text x="471.5" y="238" text-anchor="middle">1</text><text x="382.9" y="153.9" text-anchor="end">1</text><text x="514" y="238" text-anchor="middle">1.5</text><text x="382.9" y="118" text-anchor="end">1.5</text><text x="556.4" y="238" text-anchor="middle">2</text><text x="382.9" y="82" text-anchor="end">2</text><text x="598.9" y="238" text-anchor="middle">2.5</text><text x="382.9" y="46.1" text-anchor="end">2.5</text></g>
<text class="al" x="513.9" y="255" text-anchor="middle"><tspan font-style="italic">&#963;</tspan><tspan font-size="11" dy="3">1</tspan><tspan font-style="italic" dy="-3">&#951;</tspan><tspan font-size="11" dy="3">0</tspan></text>
<text class="al" transform="translate(356.9 113.8) rotate(-90)" text-anchor="middle"><tspan font-style="italic">&#963;</tspan><tspan font-size="11" dy="3">2</tspan><tspan font-style="italic" dy="-3">&#951;</tspan><tspan font-size="11" dy="3">0</tspan></text>
<rect x="647.5" y="5.5" width="14.6" height="214.5" fill="url(#jetg)"/>
<rect x="647.5" y="5.5" width="14.6" height="214.5" fill="none" stroke="#6e6e6e" stroke-width="0.8"/>
<path d="M662.1 220h-2.5M662.1 177.1h-2.5M662.1 134.2h-2.5M662.1 91.3h-2.5M662.1 48.4h-2.5M662.1 5.5h-2.5" stroke="#444" stroke-width="0.6" fill="none"/>
<g class="cbl"><text x="666.5" y="225">0.4</text><text x="666.5" y="182.1">0.6</text><text x="666.5" y="139.2">0.8</text><text x="666.5" y="96.3">1</text><text x="666.5" y="53.4">1.2</text><text x="666.5" y="10.5">1.4</text></g>
<clipPath id="cpc"><rect x="40.3" y="324.3" width="253.4" height="214.1"/></clipPath>
<g clip-path="url(#cpc)">
<path d="M39.3 323.3H294.7V539.4H39.3Z" fill="#20FFDF"/>
<path d="M46.2 323.5C46.2 324.2 46.3 326.2 46.3 327.6C46.4 328.9 46.4 330.3 46.4 331.7C46.5 333 46.5 334.4 46.5 335.7C46.5 337.1 46.6 338.5 46.6 339.8C46.6 341.2 46.6 342.5 46.7 343.9C46.7 345.3 46.7 346.6 46.7 348C46.7 349.4 46.8 350.7 46.8 352.1C46.8 353.5 46.8 354.8 46.8 356.2C46.8 357.6 46.8 358.9 46.9 360.3C46.9 361.7 46.9 363 46.9 364.4C46.9 365.8 46.9 367.1 46.9 368.5C46.9 369.9 46.9 371.3 47 372.6C47 374 47 375.4 47 376.7C47 378.1 47 379.5 47 380.8C47 382.2 47 383.6 47.1 385C47.1 386.3 47.1 387.7 47.1 389.1C47.1 390.4 47.1 391.8 47.1 393.2C47.2 394.6 47.2 395.9 47.2 397.3C47.2 398.7 47.2 400 47.3 401.4C47.3 402.8 47.3 404.1 47.3 405.5C47.4 406.9 47.4 408.3 47.4 409.6C47.4 411 47.5 412.4 47.5 413.7C47.6 415.1 47.6 416.5 47.6 417.9C47.7 419.2 47.7 420.6 47.8 422C47.8 423.3 47.8 424.7 47.9 426.1C48 427.4 48 428.8 48.1 430.2C48.1 431.5 48.2 432.9 48.2 434.3C48.3 435.6 48.4 437 48.4 438.4C48.5 439.7 48.6 441.1 48.7 442.5C48.8 443.8 48.8 445.2 48.9 446.6C49 447.9 49.1 449.3 49.2 450.7C49.3 452 49.4 453.4 49.5 454.7C49.6 456.1 49.7 457.5 49.8 458.8C49.9 460.2 50.1 461.5 50.2 462.9C50.3 464.3 50.5 465.6 50.6 467C50.7 468.3 50.9 469.7 51 471.1C51.2 472.4 51.3 473.8 51.5 475.1C51.6 476.5 51.8 477.8 52 479.2C52.1 480.5 52.3 481.9 52.5 483.2C52.7 484.6 52.9 485.9 53.1 487.3C53.3 488.6 53.5 490 53.7 491.3C53.9 492.7 54.1 494 54.3 495.3C54.6 496.7 54.8 498 55 499.4C55.3 500.7 55.5 502.1 55.8 503.4C56 504.7 56.3 506.1 56.6 507.4C56.8 508.7 57.1 510.1 57.4 511.4C57.7 512.7 58 514.1 58.3 515.4C58.6 516.7 58.9 518.1 59.2 519.4C59.5 520.7 59.9 522.1 60.2 523.4C60.5 524.7 60.9 526 61.2 527.3C61.6 528.7 62 530 62.3 531.3C62.7 532.6 63.1 533.9 63.5 535.3C63.9 536.6 64.5 538.5 64.7 539.2L39.3 539.4L39.3 323.3Z" fill="#8FFF70"/>
<path d="M134.8 323.5C134.8 324.2 134.7 326.3 134.6 327.6C134.6 329 134.5 330.4 134.4 331.8C134.4 333.1 134.3 334.5 134.3 335.9C134.2 337.2 134.2 338.6 134.1 340C134.1 341.3 134.1 342.7 134 344C134 345.4 133.9 346.8 133.9 348.1C133.8 349.5 133.8 350.8 133.8 352.2C133.7 353.5 133.7 354.9 133.7 356.2C133.6 357.6 133.6 359 133.6 360.3C133.5 361.7 133.5 363 133.5 364.4C133.4 365.7 133.4 367.1 133.4 368.4C133.3 369.8 133.3 371.1 133.2 372.5C133.2 373.8 133.2 375.2 133.1 376.5C133.1 377.9 133.1 379.2 133 380.6C133 381.9 133 383.3 132.9 384.6C132.9 386 132.9 387.3 132.8 388.7C132.8 390 132.7 391.4 132.7 392.7C132.7 394.1 132.6 395.4 132.6 396.8C132.5 398.2 132.5 399.5 132.4 400.9C132.4 402.2 132.3 403.6 132.3 405C132.2 406.3 132.2 407.7 132.1 409.1C132.1 410.4 132 411.8 132 413.2C131.9 414.5 131.8 415.9 131.8 417.3C131.7 418.6 131.7 420 131.6 421.4C131.6 422.8 131.5 424.1 131.4 425.5C131.4 426.9 131.3 428.3 131.3 429.6C131.3 431 131.2 432.4 131.2 433.8C131.2 435.2 131.1 436.5 131.1 437.9C131.1 439.3 131.1 440.7 131.1 442C131.1 443.4 131.1 444.8 131.1 446.1C131.2 447.5 131.2 448.9 131.2 450.2C131.3 451.6 131.4 453 131.4 454.3C131.5 455.7 131.6 457.1 131.7 458.4C131.8 459.8 132 461.1 132.1 462.5C132.2 463.8 132.4 465.2 132.6 466.5C132.8 467.9 133 469.2 133.2 470.5C133.4 471.9 133.7 473.2 133.9 474.5C134.2 475.9 134.5 477.2 134.8 478.5C135.1 479.8 135.5 481.2 135.8 482.5C136.2 483.8 136.6 485.1 137 486.4C137.4 487.6 137.9 488.9 138.4 490.2C138.8 491.5 139.3 492.7 139.8 494C140.4 495.2 140.9 496.4 141.5 497.7C142.1 498.9 142.7 500.1 143.3 501.3C143.9 502.5 144.6 503.7 145.3 504.8C145.9 506 146.7 507.1 147.4 508.2C148.1 509.4 148.9 510.5 149.7 511.5C150.5 512.6 151.4 513.7 152.2 514.7C153.1 515.8 154 516.8 154.9 517.8C155.8 518.8 156.8 519.7 157.7 520.7C158.7 521.6 159.7 522.5 160.7 523.4C161.8 524.3 162.8 525.2 163.9 526C165 526.9 166.1 527.7 167.2 528.5C168.3 529.2 169.4 530 170.6 530.7C171.8 531.5 172.9 532.1 174.2 532.8C175.4 533.5 176.6 534.1 177.8 534.7C179.1 535.3 180.3 535.9 181.6 536.4C182.9 536.9 184.2 537.4 185.5 537.9C186.8 538.4 188.8 539 189.5 539.2L294.7 539.4L294.7 323.3Z" fill="#8FFF70"/>
<path d="M152.5 323.5C152.5 324.2 152.5 326.2 152.5 327.6C152.5 329 152.5 330.4 152.5 331.7C152.5 333.1 152.6 334.5 152.6 335.8C152.6 337.2 152.6 338.6 152.6 339.9C152.6 341.3 152.7 342.6 152.7 344C152.7 345.4 152.7 346.7 152.8 348.1C152.8 349.4 152.8 350.8 152.8 352.2C152.9 353.5 152.9 354.9 152.9 356.2C153 357.6 153 358.9 153 360.3C153.1 361.7 153.1 363 153.1 364.4C153.2 365.7 153.2 367.1 153.3 368.4C153.3 369.8 153.4 371.2 153.4 372.5C153.4 373.9 153.5 375.2 153.5 376.6C153.6 378 153.6 379.3 153.7 380.7C153.7 382 153.8 383.4 153.8 384.8C153.9 386.1 153.9 387.5 154 388.9C154 390.2 154.1 391.6 154.2 393C154.2 394.3 154.3 395.7 154.4 397.1C154.4 398.4 154.5 399.8 154.6 401.2C154.7 402.5 154.8 403.9 154.9 405.3C155 406.7 155.1 408 155.2 409.4C155.3 410.8 155.4 412.1 155.5 413.5C155.7 414.9 155.8 416.2 156 417.6C156.1 418.9 156.3 420.3 156.4 421.7C156.6 423 156.8 424.4 157 425.7C157.2 427.1 157.4 428.5 157.6 429.8C157.8 431.2 158.1 432.5 158.3 433.9C158.6 435.2 158.8 436.6 159.1 437.9C159.4 439.2 159.7 440.6 160 441.9C160.3 443.3 160.6 444.6 161 445.9C161.3 447.3 161.7 448.6 162.1 449.9C162.5 451.2 162.9 452.5 163.3 453.8C163.7 455.2 164.2 456.5 164.6 457.7C165.1 459 165.6 460.3 166.1 461.6C166.6 462.8 167.1 464.1 167.7 465.4C168.2 466.6 168.8 467.8 169.4 469.1C170 470.3 170.6 471.5 171.2 472.7C171.9 473.9 172.5 475 173.2 476.2C173.9 477.3 174.6 478.5 175.4 479.6C176.1 480.7 176.9 481.8 177.7 482.9C178.5 484 179.3 485.1 180.1 486.1C181 487.2 181.8 488.2 182.7 489.2C183.6 490.2 184.6 491.2 185.5 492.1C186.5 493.1 187.4 494 188.4 495C189.4 495.9 190.4 496.8 191.4 497.7C192.5 498.6 193.5 499.4 194.6 500.3C195.7 501.1 196.7 501.9 197.8 502.7C198.9 503.5 200.1 504.3 201.2 505.1C202.3 505.8 203.5 506.6 204.7 507.3C205.8 508 207 508.8 208.2 509.4C209.4 510.1 210.6 510.8 211.8 511.4C213 512.1 214.2 512.7 215.5 513.3C216.7 513.9 218 514.5 219.2 515.1C220.5 515.7 221.7 516.2 223 516.8C224.2 517.3 225.5 517.8 226.8 518.3C228.1 518.8 229.4 519.3 230.7 519.8C231.9 520.2 233.2 520.7 234.5 521.1C235.8 521.6 237.1 522 238.5 522.4C239.8 522.8 241.1 523.2 242.4 523.6C243.7 524 245 524.3 246.4 524.7C247.7 525 249 525.4 250.4 525.7C251.7 526.1 253 526.4 254.4 526.7C255.7 527 257 527.3 258.4 527.6C259.7 527.9 261.1 528.2 262.4 528.5C263.8 528.7 265.1 529 266.4 529.3C267.8 529.5 269.1 529.8 270.5 530C271.8 530.3 273.2 530.5 274.5 530.8C275.9 531 277.2 531.3 278.5 531.5C279.9 531.7 281.2 532 282.5 532.2C283.9 532.4 285.2 532.6 286.6 532.9C287.9 533.1 289.2 533.3 290.5 533.5C291.9 533.8 293.8 534.1 294.5 534.2L294.7 323.3Z" fill="#EFFF10"/>
<path d="M174.3 323.5C174.4 324.2 174.5 326.2 174.6 327.6C174.8 328.9 174.9 330.3 175 331.7C175.1 333 175.2 334.4 175.3 335.7C175.4 337.1 175.5 338.5 175.6 339.8C175.7 341.2 175.9 342.5 176 343.9C176.1 345.2 176.2 346.6 176.3 348C176.4 349.3 176.5 350.7 176.6 352C176.8 353.4 176.9 354.7 177 356.1C177.1 357.5 177.2 358.8 177.4 360.2C177.5 361.5 177.6 362.9 177.8 364.2C177.9 365.6 178 366.9 178.2 368.3C178.3 369.7 178.5 371 178.6 372.4C178.8 373.7 178.9 375.1 179.1 376.4C179.3 377.8 179.5 379.1 179.6 380.5C179.8 381.9 180 383.2 180.2 384.6C180.4 385.9 180.6 387.3 180.8 388.6C181.1 390 181.3 391.3 181.5 392.7C181.7 394.1 182 395.4 182.2 396.8C182.5 398.1 182.8 399.5 183 400.8C183.3 402.2 183.6 403.5 183.9 404.9C184.2 406.3 184.5 407.6 184.8 409C185.1 410.3 185.5 411.7 185.8 413C186.2 414.3 186.5 415.7 186.9 417C187.3 418.4 187.7 419.7 188.1 421C188.5 422.3 188.9 423.6 189.4 425C189.8 426.3 190.2 427.6 190.7 428.9C191.2 430.1 191.7 431.4 192.2 432.7C192.7 434 193.2 435.2 193.8 436.5C194.3 437.7 194.9 439 195.5 440.2C196.1 441.4 196.7 442.6 197.3 443.8C197.9 445 198.6 446.2 199.3 447.4C199.9 448.5 200.6 449.7 201.3 450.8C202.1 452 202.8 453.1 203.6 454.2C204.3 455.3 205.1 456.4 205.9 457.4C206.7 458.5 207.6 459.5 208.4 460.6C209.3 461.6 210.2 462.6 211.1 463.6C212 464.6 212.9 465.5 213.9 466.5C214.8 467.4 215.8 468.3 216.8 469.2C217.8 470.2 218.8 471 219.9 471.9C220.9 472.8 222 473.6 223 474.5C224.1 475.3 225.2 476.1 226.3 476.9C227.4 477.7 228.5 478.5 229.7 479.3C230.8 480 232 480.8 233.1 481.5C234.3 482.2 235.5 482.9 236.7 483.6C237.9 484.3 239.1 485 240.3 485.7C241.5 486.3 242.7 487 244 487.6C245.2 488.2 246.5 488.9 247.7 489.5C249 490.1 250.2 490.6 251.5 491.2C252.8 491.8 254.1 492.3 255.4 492.9C256.7 493.4 257.9 493.9 259.2 494.4C260.5 494.9 261.8 495.4 263.2 495.9C264.5 496.4 265.8 496.8 267.1 497.3C268.4 497.7 269.7 498.2 271 498.6C272.3 499 273.7 499.4 275 499.8C276.3 500.2 277.6 500.6 278.9 501C280.2 501.3 281.5 501.7 282.8 502C284.2 502.4 285.5 502.7 286.8 503C288.1 503.4 289.4 503.7 290.6 504C291.9 504.2 293.9 504.7 294.5 504.8L294.7 323.3Z" fill="#FFAF00"/>
<path d="M205.2 323.5C205.3 324.2 205.5 326.2 205.7 327.5C205.8 328.9 206 330.2 206.2 331.6C206.3 332.9 206.5 334.3 206.7 335.7C206.9 337 207.2 338.4 207.4 339.7C207.6 341.1 207.8 342.5 208.1 343.8C208.3 345.2 208.6 346.5 208.9 347.9C209.1 349.2 209.4 350.6 209.7 352C210 353.3 210.3 354.7 210.6 356C210.9 357.4 211.3 358.7 211.6 360.1C212 361.4 212.3 362.8 212.7 364.1C213 365.4 213.4 366.8 213.8 368.1C214.2 369.4 214.6 370.8 215 372.1C215.5 373.4 215.9 374.7 216.3 376.1C216.8 377.4 217.3 378.7 217.7 380C218.2 381.3 218.7 382.6 219.2 383.9C219.7 385.2 220.2 386.5 220.8 387.7C221.3 389 221.8 390.3 222.4 391.6C223 392.8 223.5 394.1 224.1 395.3C224.7 396.6 225.3 397.8 226 399C226.6 400.3 227.2 401.5 227.9 402.7C228.5 403.9 229.2 405.1 229.9 406.3C230.6 407.5 231.3 408.7 232 409.8C232.7 411 233.5 412.2 234.2 413.3C235 414.5 235.7 415.6 236.5 416.7C237.3 417.9 238.1 419 238.9 420.1C239.8 421.2 240.6 422.2 241.5 423.3C242.3 424.4 243.2 425.4 244.1 426.5C245 427.5 245.9 428.6 246.8 429.6C247.7 430.6 248.7 431.6 249.6 432.6C250.6 433.6 251.6 434.5 252.5 435.5C253.5 436.4 254.5 437.4 255.6 438.3C256.6 439.2 257.6 440.1 258.7 441C259.7 441.9 260.8 442.7 261.9 443.6C262.9 444.4 264 445.3 265.2 446.1C266.3 446.9 267.4 447.7 268.5 448.4C269.7 449.2 270.8 450 272 450.7C273.2 451.4 274.3 452.1 275.5 452.8C276.7 453.5 277.9 454.2 279.2 454.8C280.4 455.5 281.6 456.1 282.9 456.7C284.1 457.3 285.4 457.9 286.7 458.4C288 459 289.2 459.5 290.6 460C291.9 460.6 293.8 461.3 294.5 461.5L294.7 323.3Z" fill="#FF4000"/>
<path d="M261.2 323.5C261.4 324.2 262 326.4 262.5 327.8C262.9 329.2 263.4 330.6 263.9 332C264.5 333.3 265 334.7 265.6 336.1C266.2 337.4 266.8 338.8 267.4 340.1C268.1 341.4 268.8 342.7 269.5 344C270.2 345.3 270.9 346.6 271.6 347.9C272.4 349.2 273.2 350.4 274 351.6C274.8 352.9 275.6 354.1 276.5 355.3C277.4 356.5 278.2 357.7 279.1 358.8C280.1 360 281 361.2 281.9 362.3C282.9 363.4 283.9 364.5 284.9 365.6C285.9 366.7 286.9 367.8 288 368.8C289 369.8 290.1 370.9 291.2 371.9C292.3 372.9 293.9 374.3 294.5 374.8L294.7 323.3Z" fill="#DF0000"/>
<path d="M53.8 323.5C53.9 324.2 54 326.2 54.1 327.6C54.2 328.9 54.3 330.3 54.4 331.6C54.5 333 54.6 334.4 54.7 335.7C54.8 337.1 54.9 338.4 54.9 339.8C55 341.1 55.1 342.5 55.1 343.8C55.2 345.2 55.3 346.5 55.3 347.9C55.4 349.2 55.4 350.6 55.5 351.9C55.6 353.3 55.6 354.6 55.7 356C55.7 357.3 55.8 358.7 55.8 360C55.9 361.4 55.9 362.7 56 364.1C56 365.4 56.1 366.8 56.1 368.1C56.2 369.4 56.2 370.8 56.3 372.1C56.3 373.5 56.4 374.8 56.4 376.2C56.5 377.5 56.6 378.8 56.6 380.2C56.7 381.5 56.7 382.9 56.8 384.2C56.9 385.6 57 386.9 57 388.2C57.1 389.6 57.2 390.9 57.3 392.3C57.4 393.6 57.5 394.9 57.6 396.3C57.7 397.6 57.8 399 57.9 400.3C58 401.6 58.2 403 58.3 404.3C58.4 405.6 58.6 407 58.7 408.3C58.9 409.7 59 411 59.2 412.3C59.3 413.7 59.5 415 59.7 416.3C59.9 417.7 60.1 419 60.3 420.3C60.5 421.7 60.7 423 60.9 424.4C61.2 425.7 61.4 427 61.7 428.4C61.9 429.7 62.2 431 62.5 432.4C62.7 433.7 63 435 63.3 436.4C63.6 437.7 63.9 439 64.3 440.4C64.6 441.7 65 443 65.3 444.4C65.7 445.7 66.1 447 66.5 448.4C66.9 449.7 67.3 451 67.7 452.4C68.1 453.7 68.6 455 69 456.3C69.5 457.6 70 458.9 70.6 460.1C71.2 461.4 71.8 462.6 72.6 463.6C73.3 464.7 74.1 465.7 75 466.6C75.9 467.5 76.9 468.4 78.1 469C79.2 469.6 80.5 470.2 81.8 470.5C83.1 470.7 84.5 470.7 85.7 470.4C87 470.2 88.2 469.6 89.3 468.9C90.4 468.2 91.4 467.3 92.3 466.3C93.1 465.4 93.9 464.3 94.6 463.1C95.4 461.9 96 460.6 96.6 459.4C97.2 458.1 97.7 456.7 98.2 455.4C98.7 454.1 99.2 452.8 99.6 451.4C100.1 450.1 100.5 448.8 100.9 447.5C101.3 446.2 101.7 444.9 102 443.6C102.4 442.2 102.7 440.9 103 439.6C103.3 438.3 103.6 437 103.9 435.7C104.2 434.4 104.5 433.1 104.7 431.8C105 430.5 105.2 429.2 105.5 427.9C105.7 426.5 106 425.2 106.2 423.9C106.4 422.6 106.7 421.3 106.9 420C107.1 418.7 107.4 417.3 107.6 416C107.8 414.7 108 413.4 108.3 412C108.5 410.7 108.7 409.4 108.9 408.1C109.2 406.7 109.4 405.4 109.6 404.1C109.8 402.7 110 401.4 110.2 400.1C110.4 398.7 110.6 397.4 110.8 396.1C111 394.7 111.2 393.4 111.4 392.1C111.6 390.7 111.8 389.4 112 388C112.2 386.7 112.4 385.4 112.6 384C112.8 382.7 113 381.3 113.2 380C113.4 378.6 113.5 377.3 113.7 375.9C113.9 374.6 114.1 373.2 114.2 371.9C114.4 370.6 114.6 369.2 114.7 367.9C114.9 366.5 115.1 365.2 115.2 363.8C115.4 362.5 115.5 361.1 115.7 359.8C115.9 358.4 116 357.1 116.2 355.7C116.3 354.4 116.5 353 116.6 351.7C116.7 350.3 116.9 349 117 347.6C117.1 346.3 117.3 345 117.4 343.6C117.5 342.3 117.7 340.9 117.8 339.6C117.9 338.2 118 336.9 118.1 335.5C118.3 334.2 118.4 332.9 118.5 331.5C118.6 330.2 118.7 328.8 118.8 327.5C118.9 326.2 119.1 324.2 119.1 323.5Z" fill="#00BFFF"/>
<path d="M64.2 323.5C64.3 324.2 64.5 326.4 64.7 327.8C64.8 329.2 65 330.6 65.2 331.9C65.3 333.3 65.5 334.7 65.7 336.1C65.9 337.4 66 338.8 66.2 340.1C66.4 341.5 66.6 342.8 66.9 344.2C67.1 345.5 67.3 346.9 67.6 348.2C67.8 349.5 68.1 350.9 68.3 352.2C68.6 353.6 68.9 354.9 69.2 356.3C69.5 357.6 69.8 359 70.2 360.4C70.5 361.7 70.8 363.1 71.2 364.5C71.6 365.9 72 367.3 72.5 368.6C73 370 73.5 371.3 74.1 372.6C74.7 373.9 75.3 375.2 76.1 376.3C76.9 377.5 77.7 378.7 78.7 379.5C79.7 380.3 80.8 381.1 81.8 381.1C82.9 381.1 84 380.4 84.9 379.6C85.8 378.7 86.6 377.2 87.3 375.9C88 374.6 88.6 373 89.2 371.6C89.8 370.2 90.3 368.9 90.8 367.6C91.4 366.4 91.8 365.1 92.3 363.9C92.8 362.6 93.2 361.3 93.7 360.1C94.1 358.8 94.5 357.5 94.9 356.2C95.3 354.8 95.7 353.5 96 352.2C96.4 350.8 96.7 349.5 97.1 348.1C97.4 346.8 97.7 345.4 98 344C98.3 342.6 98.6 341.3 98.9 339.9C99.2 338.5 99.4 337.1 99.7 335.8C100 334.4 100.2 333 100.5 331.6C100.7 330.3 100.9 328.9 101.2 327.6C101.4 326.2 101.7 324.2 101.8 323.5Z" fill="#0082FF"/>
<g fill="none" stroke="#000" stroke-width="0.65" stroke-linejoin="round">
<path d="M46.2 323.5C46.2 324.2 46.3 326.2 46.3 327.6C46.4 328.9 46.4 330.3 46.4 331.7C46.5 333 46.5 334.4 46.5 335.7C46.5 337.1 46.6 338.5 46.6 339.8C46.6 341.2 46.6 342.5 46.7 343.9C46.7 345.3 46.7 346.6 46.7 348C46.7 349.4 46.8 350.7 46.8 352.1C46.8 353.5 46.8 354.8 46.8 356.2C46.8 357.6 46.8 358.9 46.9 360.3C46.9 361.7 46.9 363 46.9 364.4C46.9 365.8 46.9 367.1 46.9 368.5C46.9 369.9 46.9 371.3 47 372.6C47 374 47 375.4 47 376.7C47 378.1 47 379.5 47 380.8C47 382.2 47 383.6 47.1 385C47.1 386.3 47.1 387.7 47.1 389.1C47.1 390.4 47.1 391.8 47.1 393.2C47.2 394.6 47.2 395.9 47.2 397.3C47.2 398.7 47.2 400 47.3 401.4C47.3 402.8 47.3 404.1 47.3 405.5C47.4 406.9 47.4 408.3 47.4 409.6C47.4 411 47.5 412.4 47.5 413.7C47.6 415.1 47.6 416.5 47.6 417.9C47.7 419.2 47.7 420.6 47.8 422C47.8 423.3 47.8 424.7 47.9 426.1C48 427.4 48 428.8 48.1 430.2C48.1 431.5 48.2 432.9 48.2 434.3C48.3 435.6 48.4 437 48.4 438.4C48.5 439.7 48.6 441.1 48.7 442.5C48.8 443.8 48.8 445.2 48.9 446.6C49 447.9 49.1 449.3 49.2 450.7C49.3 452 49.4 453.4 49.5 454.7C49.6 456.1 49.7 457.5 49.8 458.8C49.9 460.2 50.1 461.5 50.2 462.9C50.3 464.3 50.5 465.6 50.6 467C50.7 468.3 50.9 469.7 51 471.1C51.2 472.4 51.3 473.8 51.5 475.1C51.6 476.5 51.8 477.8 52 479.2C52.1 480.5 52.3 481.9 52.5 483.2C52.7 484.6 52.9 485.9 53.1 487.3C53.3 488.6 53.5 490 53.7 491.3C53.9 492.7 54.1 494 54.3 495.3C54.6 496.7 54.8 498 55 499.4C55.3 500.7 55.5 502.1 55.8 503.4C56 504.7 56.3 506.1 56.6 507.4C56.8 508.7 57.1 510.1 57.4 511.4C57.7 512.7 58 514.1 58.3 515.4C58.6 516.7 58.9 518.1 59.2 519.4C59.5 520.7 59.9 522.1 60.2 523.4C60.5 524.7 60.9 526 61.2 527.3C61.6 528.7 62 530 62.3 531.3C62.7 532.6 63.1 533.9 63.5 535.3C63.9 536.6 64.5 538.5 64.7 539.2"/>
<path d="M53.8 323.5C53.9 324.2 54 326.2 54.1 327.6C54.2 328.9 54.3 330.3 54.4 331.6C54.5 333 54.6 334.4 54.7 335.7C54.8 337.1 54.9 338.4 54.9 339.8C55 341.1 55.1 342.5 55.1 343.8C55.2 345.2 55.3 346.5 55.3 347.9C55.4 349.2 55.4 350.6 55.5 351.9C55.6 353.3 55.6 354.6 55.7 356C55.7 357.3 55.8 358.7 55.8 360C55.9 361.4 55.9 362.7 56 364.1C56 365.4 56.1 366.8 56.1 368.1C56.2 369.4 56.2 370.8 56.3 372.1C56.3 373.5 56.4 374.8 56.4 376.2C56.5 377.5 56.6 378.8 56.6 380.2C56.7 381.5 56.7 382.9 56.8 384.2C56.9 385.6 57 386.9 57 388.2C57.1 389.6 57.2 390.9 57.3 392.3C57.4 393.6 57.5 394.9 57.6 396.3C57.7 397.6 57.8 399 57.9 400.3C58 401.6 58.2 403 58.3 404.3C58.4 405.6 58.6 407 58.7 408.3C58.9 409.7 59 411 59.2 412.3C59.3 413.7 59.5 415 59.7 416.3C59.9 417.7 60.1 419 60.3 420.3C60.5 421.7 60.7 423 60.9 424.4C61.2 425.7 61.4 427 61.7 428.4C61.9 429.7 62.2 431 62.5 432.4C62.7 433.7 63 435 63.3 436.4C63.6 437.7 63.9 439 64.3 440.4C64.6 441.7 65 443 65.3 444.4C65.7 445.7 66.1 447 66.5 448.4C66.9 449.7 67.3 451 67.7 452.4C68.1 453.7 68.6 455 69 456.3C69.5 457.6 70 458.9 70.6 460.1C71.2 461.4 71.8 462.6 72.6 463.6C73.3 464.7 74.1 465.7 75 466.6C75.9 467.5 76.9 468.4 78.1 469C79.2 469.6 80.5 470.2 81.8 470.5C83.1 470.7 84.5 470.7 85.7 470.4C87 470.2 88.2 469.6 89.3 468.9C90.4 468.2 91.4 467.3 92.3 466.3C93.1 465.4 93.9 464.3 94.6 463.1C95.4 461.9 96 460.6 96.6 459.4C97.2 458.1 97.7 456.7 98.2 455.4C98.7 454.1 99.2 452.8 99.6 451.4C100.1 450.1 100.5 448.8 100.9 447.5C101.3 446.2 101.7 444.9 102 443.6C102.4 442.2 102.7 440.9 103 439.6C103.3 438.3 103.6 437 103.9 435.7C104.2 434.4 104.5 433.1 104.7 431.8C105 430.5 105.2 429.2 105.5 427.9C105.7 426.5 106 425.2 106.2 423.9C106.4 422.6 106.7 421.3 106.9 420C107.1 418.7 107.4 417.3 107.6 416C107.8 414.7 108 413.4 108.3 412C108.5 410.7 108.7 409.4 108.9 408.1C109.2 406.7 109.4 405.4 109.6 404.1C109.8 402.7 110 401.4 110.2 400.1C110.4 398.7 110.6 397.4 110.8 396.1C111 394.7 111.2 393.4 111.4 392.1C111.6 390.7 111.8 389.4 112 388C112.2 386.7 112.4 385.4 112.6 384C112.8 382.7 113 381.3 113.2 380C113.4 378.6 113.5 377.3 113.7 375.9C113.9 374.6 114.1 373.2 114.2 371.9C114.4 370.6 114.6 369.2 114.7 367.9C114.9 366.5 115.1 365.2 115.2 363.8C115.4 362.5 115.5 361.1 115.7 359.8C115.9 358.4 116 357.1 116.2 355.7C116.3 354.4 116.5 353 116.6 351.7C116.7 350.3 116.9 349 117 347.6C117.1 346.3 117.3 345 117.4 343.6C117.5 342.3 117.7 340.9 117.8 339.6C117.9 338.2 118 336.9 118.1 335.5C118.3 334.2 118.4 332.9 118.5 331.5C118.6 330.2 118.7 328.8 118.8 327.5C118.9 326.2 119.1 324.2 119.1 323.5"/>
<path d="M64.2 323.5C64.3 324.2 64.5 326.4 64.7 327.8C64.8 329.2 65 330.6 65.2 331.9C65.3 333.3 65.5 334.7 65.7 336.1C65.9 337.4 66 338.8 66.2 340.1C66.4 341.5 66.6 342.8 66.9 344.2C67.1 345.5 67.3 346.9 67.6 348.2C67.8 349.5 68.1 350.9 68.3 352.2C68.6 353.6 68.9 354.9 69.2 356.3C69.5 357.6 69.8 359 70.2 360.4C70.5 361.7 70.8 363.1 71.2 364.5C71.6 365.9 72 367.3 72.5 368.6C73 370 73.5 371.3 74.1 372.6C74.7 373.9 75.3 375.2 76.1 376.3C76.9 377.5 77.7 378.7 78.7 379.5C79.7 380.3 80.8 381.1 81.8 381.1C82.9 381.1 84 380.4 84.9 379.6C85.8 378.7 86.6 377.2 87.3 375.9C88 374.6 88.6 373 89.2 371.6C89.8 370.2 90.3 368.9 90.8 367.6C91.4 366.4 91.8 365.1 92.3 363.9C92.8 362.6 93.2 361.3 93.7 360.1C94.1 358.8 94.5 357.5 94.9 356.2C95.3 354.8 95.7 353.5 96 352.2C96.4 350.8 96.7 349.5 97.1 348.1C97.4 346.8 97.7 345.4 98 344C98.3 342.6 98.6 341.3 98.9 339.9C99.2 338.5 99.4 337.1 99.7 335.8C100 334.4 100.2 333 100.5 331.6C100.7 330.3 100.9 328.9 101.2 327.6C101.4 326.2 101.7 324.2 101.8 323.5"/>
<path d="M134.8 323.5C134.8 324.2 134.7 326.3 134.6 327.6C134.6 329 134.5 330.4 134.4 331.8C134.4 333.1 134.3 334.5 134.3 335.9C134.2 337.2 134.2 338.6 134.1 340C134.1 341.3 134.1 342.7 134 344C134 345.4 133.9 346.8 133.9 348.1C133.8 349.5 133.8 350.8 133.8 352.2C133.7 353.5 133.7 354.9 133.7 356.2C133.6 357.6 133.6 359 133.6 360.3C133.5 361.7 133.5 363 133.5 364.4C133.4 365.7 133.4 367.1 133.4 368.4C133.3 369.8 133.3 371.1 133.2 372.5C133.2 373.8 133.2 375.2 133.1 376.5C133.1 377.9 133.1 379.2 133 380.6C133 381.9 133 383.3 132.9 384.6C132.9 386 132.9 387.3 132.8 388.7C132.8 390 132.7 391.4 132.7 392.7C132.7 394.1 132.6 395.4 132.6 396.8C132.5 398.2 132.5 399.5 132.4 400.9C132.4 402.2 132.3 403.6 132.3 405C132.2 406.3 132.2 407.7 132.1 409.1C132.1 410.4 132 411.8 132 413.2C131.9 414.5 131.8 415.9 131.8 417.3C131.7 418.6 131.7 420 131.6 421.4C131.6 422.8 131.5 424.1 131.4 425.5C131.4 426.9 131.3 428.3 131.3 429.6C131.3 431 131.2 432.4 131.2 433.8C131.2 435.2 131.1 436.5 131.1 437.9C131.1 439.3 131.1 440.7 131.1 442C131.1 443.4 131.1 444.8 131.1 446.1C131.2 447.5 131.2 448.9 131.2 450.2C131.3 451.6 131.4 453 131.4 454.3C131.5 455.7 131.6 457.1 131.7 458.4C131.8 459.8 132 461.1 132.1 462.5C132.2 463.8 132.4 465.2 132.6 466.5C132.8 467.9 133 469.2 133.2 470.5C133.4 471.9 133.7 473.2 133.9 474.5C134.2 475.9 134.5 477.2 134.8 478.5C135.1 479.8 135.5 481.2 135.8 482.5C136.2 483.8 136.6 485.1 137 486.4C137.4 487.6 137.9 488.9 138.4 490.2C138.8 491.5 139.3 492.7 139.8 494C140.4 495.2 140.9 496.4 141.5 497.7C142.1 498.9 142.7 500.1 143.3 501.3C143.9 502.5 144.6 503.7 145.3 504.8C145.9 506 146.7 507.1 147.4 508.2C148.1 509.4 148.9 510.5 149.7 511.5C150.5 512.6 151.4 513.7 152.2 514.7C153.1 515.8 154 516.8 154.9 517.8C155.8 518.8 156.8 519.7 157.7 520.7C158.7 521.6 159.7 522.5 160.7 523.4C161.8 524.3 162.8 525.2 163.9 526C165 526.9 166.1 527.7 167.2 528.5C168.3 529.2 169.4 530 170.6 530.7C171.8 531.5 172.9 532.1 174.2 532.8C175.4 533.5 176.6 534.1 177.8 534.7C179.1 535.3 180.3 535.9 181.6 536.4C182.9 536.9 184.2 537.4 185.5 537.9C186.8 538.4 188.8 539 189.5 539.2"/>
<path d="M152.5 323.5C152.5 324.2 152.5 326.2 152.5 327.6C152.5 329 152.5 330.4 152.5 331.7C152.5 333.1 152.6 334.5 152.6 335.8C152.6 337.2 152.6 338.6 152.6 339.9C152.6 341.3 152.7 342.6 152.7 344C152.7 345.4 152.7 346.7 152.8 348.1C152.8 349.4 152.8 350.8 152.8 352.2C152.9 353.5 152.9 354.9 152.9 356.2C153 357.6 153 358.9 153 360.3C153.1 361.7 153.1 363 153.1 364.4C153.2 365.7 153.2 367.1 153.3 368.4C153.3 369.8 153.4 371.2 153.4 372.5C153.4 373.9 153.5 375.2 153.5 376.6C153.6 378 153.6 379.3 153.7 380.7C153.7 382 153.8 383.4 153.8 384.8C153.9 386.1 153.9 387.5 154 388.9C154 390.2 154.1 391.6 154.2 393C154.2 394.3 154.3 395.7 154.4 397.1C154.4 398.4 154.5 399.8 154.6 401.2C154.7 402.5 154.8 403.9 154.9 405.3C155 406.7 155.1 408 155.2 409.4C155.3 410.8 155.4 412.1 155.5 413.5C155.7 414.9 155.8 416.2 156 417.6C156.1 418.9 156.3 420.3 156.4 421.7C156.6 423 156.8 424.4 157 425.7C157.2 427.1 157.4 428.5 157.6 429.8C157.8 431.2 158.1 432.5 158.3 433.9C158.6 435.2 158.8 436.6 159.1 437.9C159.4 439.2 159.7 440.6 160 441.9C160.3 443.3 160.6 444.6 161 445.9C161.3 447.3 161.7 448.6 162.1 449.9C162.5 451.2 162.9 452.5 163.3 453.8C163.7 455.2 164.2 456.5 164.6 457.7C165.1 459 165.6 460.3 166.1 461.6C166.6 462.8 167.1 464.1 167.7 465.4C168.2 466.6 168.8 467.8 169.4 469.1C170 470.3 170.6 471.5 171.2 472.7C171.9 473.9 172.5 475 173.2 476.2C173.9 477.3 174.6 478.5 175.4 479.6C176.1 480.7 176.9 481.8 177.7 482.9C178.5 484 179.3 485.1 180.1 486.1C181 487.2 181.8 488.2 182.7 489.2C183.6 490.2 184.6 491.2 185.5 492.1C186.5 493.1 187.4 494 188.4 495C189.4 495.9 190.4 496.8 191.4 497.7C192.5 498.6 193.5 499.4 194.6 500.3C195.7 501.1 196.7 501.9 197.8 502.7C198.9 503.5 200.1 504.3 201.2 505.1C202.3 505.8 203.5 506.6 204.7 507.3C205.8 508 207 508.8 208.2 509.4C209.4 510.1 210.6 510.8 211.8 511.4C213 512.1 214.2 512.7 215.5 513.3C216.7 513.9 218 514.5 219.2 515.1C220.5 515.7 221.7 516.2 223 516.8C224.2 517.3 225.5 517.8 226.8 518.3C228.1 518.8 229.4 519.3 230.7 519.8C231.9 520.2 233.2 520.7 234.5 521.1C235.8 521.6 237.1 522 238.5 522.4C239.8 522.8 241.1 523.2 242.4 523.6C243.7 524 245 524.3 246.4 524.7C247.7 525 249 525.4 250.4 525.7C251.7 526.1 253 526.4 254.4 526.7C255.7 527 257 527.3 258.4 527.6C259.7 527.9 261.1 528.2 262.4 528.5C263.8 528.7 265.1 529 266.4 529.3C267.8 529.5 269.1 529.8 270.5 530C271.8 530.3 273.2 530.5 274.5 530.8C275.9 531 277.2 531.3 278.5 531.5C279.9 531.7 281.2 532 282.5 532.2C283.9 532.4 285.2 532.6 286.6 532.9C287.9 533.1 289.2 533.3 290.5 533.5C291.9 533.8 293.8 534.1 294.5 534.2"/>
<path d="M174.3 323.5C174.4 324.2 174.5 326.2 174.6 327.6C174.8 328.9 174.9 330.3 175 331.7C175.1 333 175.2 334.4 175.3 335.7C175.4 337.1 175.5 338.5 175.6 339.8C175.7 341.2 175.9 342.5 176 343.9C176.1 345.2 176.2 346.6 176.3 348C176.4 349.3 176.5 350.7 176.6 352C176.8 353.4 176.9 354.7 177 356.1C177.1 357.5 177.2 358.8 177.4 360.2C177.5 361.5 177.6 362.9 177.8 364.2C177.9 365.6 178 366.9 178.2 368.3C178.3 369.7 178.5 371 178.6 372.4C178.8 373.7 178.9 375.1 179.1 376.4C179.3 377.8 179.5 379.1 179.6 380.5C179.8 381.9 180 383.2 180.2 384.6C180.4 385.9 180.6 387.3 180.8 388.6C181.1 390 181.3 391.3 181.5 392.7C181.7 394.1 182 395.4 182.2 396.8C182.5 398.1 182.8 399.5 183 400.8C183.3 402.2 183.6 403.5 183.9 404.9C184.2 406.3 184.5 407.6 184.8 409C185.1 410.3 185.5 411.7 185.8 413C186.2 414.3 186.5 415.7 186.9 417C187.3 418.4 187.7 419.7 188.1 421C188.5 422.3 188.9 423.6 189.4 425C189.8 426.3 190.2 427.6 190.7 428.9C191.2 430.1 191.7 431.4 192.2 432.7C192.7 434 193.2 435.2 193.8 436.5C194.3 437.7 194.9 439 195.5 440.2C196.1 441.4 196.7 442.6 197.3 443.8C197.9 445 198.6 446.2 199.3 447.4C199.9 448.5 200.6 449.7 201.3 450.8C202.1 452 202.8 453.1 203.6 454.2C204.3 455.3 205.1 456.4 205.9 457.4C206.7 458.5 207.6 459.5 208.4 460.6C209.3 461.6 210.2 462.6 211.1 463.6C212 464.6 212.9 465.5 213.9 466.5C214.8 467.4 215.8 468.3 216.8 469.2C217.8 470.2 218.8 471 219.9 471.9C220.9 472.8 222 473.6 223 474.5C224.1 475.3 225.2 476.1 226.3 476.9C227.4 477.7 228.5 478.5 229.7 479.3C230.8 480 232 480.8 233.1 481.5C234.3 482.2 235.5 482.9 236.7 483.6C237.9 484.3 239.1 485 240.3 485.7C241.5 486.3 242.7 487 244 487.6C245.2 488.2 246.5 488.9 247.7 489.5C249 490.1 250.2 490.6 251.5 491.2C252.8 491.8 254.1 492.3 255.4 492.9C256.7 493.4 257.9 493.9 259.2 494.4C260.5 494.9 261.8 495.4 263.2 495.9C264.5 496.4 265.8 496.8 267.1 497.3C268.4 497.7 269.7 498.2 271 498.6C272.3 499 273.7 499.4 275 499.8C276.3 500.2 277.6 500.6 278.9 501C280.2 501.3 281.5 501.7 282.8 502C284.2 502.4 285.5 502.7 286.8 503C288.1 503.4 289.4 503.7 290.6 504C291.9 504.2 293.9 504.7 294.5 504.8"/>
<path d="M205.2 323.5C205.3 324.2 205.5 326.2 205.7 327.5C205.8 328.9 206 330.2 206.2 331.6C206.3 332.9 206.5 334.3 206.7 335.7C206.9 337 207.2 338.4 207.4 339.7C207.6 341.1 207.8 342.5 208.1 343.8C208.3 345.2 208.6 346.5 208.9 347.9C209.1 349.2 209.4 350.6 209.7 352C210 353.3 210.3 354.7 210.6 356C210.9 357.4 211.3 358.7 211.6 360.1C212 361.4 212.3 362.8 212.7 364.1C213 365.4 213.4 366.8 213.8 368.1C214.2 369.4 214.6 370.8 215 372.1C215.5 373.4 215.9 374.7 216.3 376.1C216.8 377.4 217.3 378.7 217.7 380C218.2 381.3 218.7 382.6 219.2 383.9C219.7 385.2 220.2 386.5 220.8 387.7C221.3 389 221.8 390.3 222.4 391.6C223 392.8 223.5 394.1 224.1 395.3C224.7 396.6 225.3 397.8 226 399C226.6 400.3 227.2 401.5 227.9 402.7C228.5 403.9 229.2 405.1 229.9 406.3C230.6 407.5 231.3 408.7 232 409.8C232.7 411 233.5 412.2 234.2 413.3C235 414.5 235.7 415.6 236.5 416.7C237.3 417.9 238.1 419 238.9 420.1C239.8 421.2 240.6 422.2 241.5 423.3C242.3 424.4 243.2 425.4 244.1 426.5C245 427.5 245.9 428.6 246.8 429.6C247.7 430.6 248.7 431.6 249.6 432.6C250.6 433.6 251.6 434.5 252.5 435.5C253.5 436.4 254.5 437.4 255.6 438.3C256.6 439.2 257.6 440.1 258.7 441C259.7 441.9 260.8 442.7 261.9 443.6C262.9 444.4 264 445.3 265.2 446.1C266.3 446.9 267.4 447.7 268.5 448.4C269.7 449.2 270.8 450 272 450.7C273.2 451.4 274.3 452.1 275.5 452.8C276.7 453.5 277.9 454.2 279.2 454.8C280.4 455.5 281.6 456.1 282.9 456.7C284.1 457.3 285.4 457.9 286.7 458.4C288 459 289.2 459.5 290.6 460C291.9 460.6 293.8 461.3 294.5 461.5"/>
<path d="M261.2 323.5C261.4 324.2 262 326.4 262.5 327.8C262.9 329.2 263.4 330.6 263.9 332C264.5 333.3 265 334.7 265.6 336.1C266.2 337.4 266.8 338.8 267.4 340.1C268.1 341.4 268.8 342.7 269.5 344C270.2 345.3 270.9 346.6 271.6 347.9C272.4 349.2 273.2 350.4 274 351.6C274.8 352.9 275.6 354.1 276.5 355.3C277.4 356.5 278.2 357.7 279.1 358.8C280.1 360 281 361.2 281.9 362.3C282.9 363.4 283.9 364.5 284.9 365.6C285.9 366.7 286.9 367.8 288 368.8C289 369.8 290.1 370.9 291.2 371.9C292.3 372.9 293.9 374.3 294.5 374.8"/>
</g></g>
<rect x="40.3" y="324.3" width="253.4" height="214.1" fill="none" stroke="#808080" stroke-width="0.9"/>
<path d="M82.2 538.4v-3M82.2 324.3v3M40.3 502.9h3M293.7 502.9h-3M124.7 538.4v-3M124.7 324.3v3M40.3 467.1h3M293.7 467.1h-3M167.1 538.4v-3M167.1 324.3v3M40.3 431.2h3M293.7 431.2h-3M209.6 538.4v-3M209.6 324.3v3M40.3 395.3h3M293.7 395.3h-3M252 538.4v-3M252 324.3v3M40.3 359.4h3M293.7 359.4h-3" stroke="#333" stroke-width="0.7" fill="none"/>
<g class="tl"><text x="82.2" y="556.4" text-anchor="middle">0.5</text><text x="36" y="508.3" text-anchor="end">0.5</text><text x="124.7" y="556.4" text-anchor="middle">1</text><text x="36" y="472.5" text-anchor="end">1</text><text x="167.1" y="556.4" text-anchor="middle">1.5</text><text x="36" y="436.6" text-anchor="end">1.5</text><text x="209.6" y="556.4" text-anchor="middle">2</text><text x="36" y="400.7" text-anchor="end">2</text><text x="252" y="556.4" text-anchor="middle">2.5</text><text x="36" y="364.8" text-anchor="end">2.5</text></g>
<text class="al" x="167" y="573.4" text-anchor="middle"><tspan font-style="italic">&#963;</tspan><tspan font-size="11" dy="3">1</tspan><tspan font-style="italic" dy="-3">&#951;</tspan><tspan font-size="11" dy="3">0</tspan></text>
<text class="al" transform="translate(10 432.4) rotate(-90)" text-anchor="middle"><tspan font-style="italic">&#963;</tspan><tspan font-size="11" dy="3">2</tspan><tspan font-style="italic" dy="-3">&#951;</tspan><tspan font-size="11" dy="3">0</tspan></text>
<rect x="300.7" y="324.3" width="14.6" height="214.1" fill="url(#jetg)"/>
<rect x="300.7" y="324.3" width="14.6" height="214.1" fill="none" stroke="#6e6e6e" stroke-width="0.8"/>
<path d="M315.3 538.4h-2.5M315.3 495.6h-2.5M315.3 452.8h-2.5M315.3 409.9h-2.5M315.3 367.1h-2.5M315.3 324.3h-2.5" stroke="#444" stroke-width="0.6" fill="none"/>
<g class="cbl"><text x="319.7" y="543.4">0.4</text><text x="319.7" y="500.6">0.6</text><text x="319.7" y="457.8">0.8</text><text x="319.7" y="414.9">1</text><text x="319.7" y="372.1">1.2</text><text x="319.7" y="329.3">1.4</text></g>
<clipPath id="cpd"><rect x="388.5" y="324" width="253.3" height="214.4"/></clipPath>
<g clip-path="url(#cpd)">
<path d="M387.5 323H642.8V539.4H387.5Z" fill="#20FFDF"/>
<path d="M391.6 323.3C391.6 324 391.6 326.2 391.5 327.6C391.5 329 391.5 330.5 391.5 331.9C391.4 333.3 391.4 334.8 391.4 336.2C391.3 337.7 391.3 339.1 391.3 340.5C391.3 342 391.2 343.4 391.2 344.8C391.2 346.3 391.1 347.7 391.1 349.1C391 350.6 391 352 391 353.5C390.9 354.9 390.9 356.3 390.8 357.8C390.8 359.2 390.7 360.6 390.7 362.1C390.7 363.5 390.6 364.9 390.6 366.4C390.5 367.8 390.5 369.2 390.4 370.7C390.3 372.1 390.3 373.6 390.2 375C390.2 376.4 390.1 377.9 390 379.3C390 380.7 389.9 382.2 389.8 383.6C389.8 385 389.7 386.5 389.6 387.9C389.6 389.3 389.5 390.8 389.4 392.2C389.3 393.6 389.2 395.1 389.2 396.5C389.1 397.9 389 399.4 388.9 400.8C388.8 402.2 388.7 403.7 388.6 405.1C388.5 406.5 388.4 408 388.3 409.4C388.2 410.8 388.1 412.3 388 413.7C387.9 415.1 387.8 417.3 387.7 418L387.5 323Z" fill="#8FFF70"/>
<path d="M387.7 503C387.8 503.8 388.1 506 388.5 507.5C388.8 509 389.1 510.5 389.6 512C390 513.4 390.5 514.9 391.1 516.3C391.6 517.7 392.2 519.1 392.9 520.4C393.6 521.8 394.3 523.1 395.1 524.3C395.9 525.6 396.8 526.8 397.7 528C398.6 529.2 399.6 530.3 400.6 531.4C401.7 532.4 402.8 533.4 404 534.4C405.1 535.3 406.4 536.2 407.7 537C409 537.8 411.1 538.8 411.8 539.2L387.5 539.4Z" fill="#8FFF70"/>
<path d="M518.4 323.3C518.5 324 518.7 326 518.8 327.4C519 328.7 519.1 330.1 519.3 331.4C519.4 332.8 519.6 334.2 519.7 335.5C519.9 336.9 520 338.3 520.1 339.6C520.3 341 520.4 342.4 520.5 343.7C520.7 345.1 520.8 346.5 521 347.8C521.1 349.2 521.2 350.6 521.4 351.9C521.5 353.3 521.7 354.7 521.8 356.1C521.9 357.4 522.1 358.8 522.2 360.2C522.4 361.6 522.5 362.9 522.7 364.3C522.8 365.7 523 367.1 523.1 368.4C523.3 369.8 523.4 371.2 523.6 372.6C523.7 373.9 523.9 375.3 524.1 376.7C524.2 378.1 524.4 379.4 524.6 380.8C524.7 382.2 524.9 383.5 525.1 384.9C525.3 386.3 525.5 387.6 525.7 389C525.9 390.4 526.1 391.7 526.3 393.1C526.5 394.5 526.7 395.8 526.9 397.2C527.1 398.5 527.3 399.9 527.6 401.3C527.8 402.6 528 404 528.3 405.3C528.5 406.7 528.8 408 529 409.4C529.3 410.7 529.5 412 529.8 413.4C530.1 414.7 530.4 416.1 530.7 417.4C530.9 418.7 531.2 420.1 531.5 421.4C531.9 422.7 532.2 424.1 532.5 425.4C532.8 426.7 533.1 428 533.4 429.4C533.8 430.7 534.1 432 534.4 433.3C534.8 434.7 535.1 436 535.5 437.3C535.8 438.6 536.2 440 536.6 441.3C536.9 442.6 537.3 443.9 537.7 445.2C538 446.6 538.4 447.9 538.8 449.2C539.2 450.5 539.6 451.8 540 453.2C540.4 454.5 540.8 455.8 541.2 457.1C541.6 458.5 542 459.8 542.4 461.1C542.8 462.4 543.2 463.8 543.6 465.1C544 466.4 544.4 467.7 544.8 469.1C545.2 470.4 545.7 471.7 546.1 473.1C546.5 474.4 546.9 475.7 547.3 477.1C547.6 478.4 548 479.8 548.4 481.1C548.8 482.4 549.1 483.8 549.5 485.1C549.8 486.5 550.1 487.8 550.4 489.1C550.8 490.5 551 491.8 551.3 493.2C551.6 494.5 551.8 495.9 552.1 497.2C552.3 498.6 552.5 499.9 552.6 501.3C552.8 502.6 552.9 504 553.1 505.3C553.2 506.7 553.2 508 553.3 509.4C553.3 510.8 553.3 512.1 553.3 513.5C553.2 514.8 553.2 516.2 553.1 517.5C553 518.9 552.8 520.3 552.6 521.6C552.4 523 552.2 524.4 551.8 525.7C551.4 527 551 528.3 550.4 529.5C549.8 530.8 549.1 532 548.2 533.1C547.4 534.2 546.2 535.1 545.2 536.2C544.3 537.2 543 538.7 542.5 539.2L642.8 539.4L642.8 323Z" fill="#8FFF70"/>
<path d="M542.6 323.3C542.7 324 543.1 326 543.4 327.3C543.7 328.6 543.9 330 544.2 331.3C544.5 332.6 544.7 334 545 335.3C545.3 336.6 545.5 338 545.8 339.3C546.1 340.6 546.4 342 546.6 343.3C546.9 344.6 547.2 346 547.5 347.3C547.7 348.7 548 350 548.3 351.3C548.6 352.7 548.9 354 549.2 355.3C549.4 356.7 549.7 358 550 359.3C550.3 360.7 550.6 362 550.9 363.3C551.2 364.7 551.6 366 551.9 367.3C552.2 368.7 552.5 370 552.8 371.3C553.1 372.6 553.5 374 553.8 375.3C554.1 376.6 554.5 377.9 554.8 379.3C555.2 380.6 555.5 381.9 555.9 383.2C556.2 384.5 556.6 385.8 557 387.2C557.3 388.5 557.7 389.8 558.1 391.1C558.5 392.4 558.9 393.7 559.3 395C559.7 396.3 560.1 397.6 560.5 398.9C560.9 400.2 561.3 401.5 561.8 402.8C562.2 404.1 562.6 405.3 563.1 406.6C563.5 407.9 564 409.2 564.5 410.5C564.9 411.7 565.4 413 565.9 414.3C566.4 415.5 566.9 416.8 567.4 418.1C567.9 419.3 568.4 420.6 569 421.8C569.5 423.1 570.1 424.3 570.6 425.6C571.2 426.8 571.7 428.1 572.3 429.3C572.9 430.5 573.5 431.7 574.1 433C574.7 434.2 575.3 435.4 575.9 436.6C576.5 437.8 577.1 439.1 577.8 440.3C578.4 441.5 579.1 442.7 579.7 443.9C580.4 445.1 581 446.3 581.7 447.4C582.4 448.6 583.1 449.8 583.7 451C584.4 452.2 585.1 453.4 585.8 454.5C586.5 455.7 587.2 456.9 587.9 458.1C588.6 459.2 589.3 460.4 590 461.6C590.7 462.7 591.4 463.9 592.2 465C592.9 466.2 593.6 467.3 594.4 468.5C595.1 469.6 595.9 470.7 596.6 471.9C597.4 473 598.1 474.1 598.9 475.2C599.7 476.3 600.5 477.4 601.3 478.5C602.1 479.6 603 480.6 603.8 481.7C604.6 482.8 605.5 483.8 606.4 484.8C607.3 485.9 608.2 486.9 609.1 487.9C610 488.9 610.9 489.9 611.9 490.9C612.8 491.9 613.8 492.8 614.7 493.8C615.7 494.7 616.7 495.7 617.7 496.6C618.7 497.6 619.7 498.5 620.7 499.4C621.7 500.3 622.7 501.2 623.8 502.1C624.8 503 625.8 503.9 626.9 504.8C627.9 505.7 629 506.6 630 507.5C631.1 508.3 632.1 509.2 633.2 510.1C634.2 511 635.3 511.8 636.3 512.7C637.3 513.6 638.4 514.5 639.4 515.4C640.5 516.2 642 517.6 642.5 518L642.8 323Z" fill="#EFFF10"/>
<path d="M579.5 323.3C579.8 323.9 580.6 325.9 581.1 327.2C581.7 328.5 582.2 329.8 582.7 331.1C583.3 332.4 583.8 333.7 584.4 335C584.9 336.3 585.4 337.6 586 338.9C586.5 340.2 587 341.6 587.6 342.9C588.1 344.2 588.6 345.5 589.2 346.8C589.7 348.1 590.3 349.4 590.8 350.7C591.3 352.1 591.9 353.4 592.4 354.7C593 356 593.5 357.3 594.1 358.6C594.6 359.9 595.2 361.2 595.8 362.5C596.3 363.8 596.9 365.1 597.5 366.4C598.1 367.7 598.7 369 599.2 370.3C599.8 371.6 600.4 372.9 601 374.2C601.6 375.5 602.3 376.7 602.9 378C603.5 379.3 604.1 380.5 604.8 381.8C605.4 383.1 606.1 384.3 606.7 385.6C607.4 386.8 608 388.1 608.7 389.3C609.4 390.5 610.1 391.8 610.8 393C611.5 394.2 612.2 395.4 612.9 396.6C613.7 397.8 614.4 399 615.1 400.2C615.9 401.4 616.7 402.6 617.4 403.8C618.2 404.9 619 406.1 619.8 407.2C620.6 408.4 621.4 409.5 622.3 410.6C623.1 411.8 624 412.9 624.9 414C625.7 415.1 626.6 416.2 627.5 417.3C628.4 418.4 629.3 419.4 630.3 420.5C631.2 421.5 632.2 422.6 633.2 423.6C634.1 424.6 635.1 425.7 636.2 426.7C637.2 427.7 638.2 428.7 639.3 429.6C640.3 430.6 642 432 642.5 432.5L642.8 323Z" fill="#FFAF00"/>
<path d="M396.7 323.3C396.7 324 396.6 326 396.6 327.4C396.6 328.7 396.5 330.1 396.5 331.4C396.5 332.8 396.5 334.1 396.4 335.5C396.4 336.8 396.4 338.2 396.4 339.6C396.3 340.9 396.3 342.3 396.3 343.6C396.3 345 396.2 346.3 396.2 347.7C396.2 349 396.2 350.4 396.2 351.7C396.1 353 396.1 354.4 396.1 355.7C396.1 357.1 396.1 358.4 396.1 359.8C396 361.1 396 362.5 396 363.8C396 365.2 396 366.5 395.9 367.9C395.9 369.2 395.9 370.6 395.9 371.9C395.9 373.2 395.9 374.6 395.8 375.9C395.8 377.3 395.8 378.6 395.8 380C395.8 381.3 395.7 382.7 395.7 384C395.7 385.4 395.7 386.7 395.6 388.1C395.6 389.4 395.6 390.8 395.6 392.1C395.5 393.4 395.5 394.8 395.5 396.1C395.5 397.5 395.4 398.8 395.4 400.2C395.4 401.5 395.3 402.9 395.3 404.2C395.3 405.6 395.2 406.9 395.2 408.3C395.1 409.6 395.1 411 395.1 412.3C395 413.7 395 415.1 394.9 416.4C394.9 417.8 394.8 419.1 394.8 420.5C394.7 421.8 394.7 423.2 394.7 424.5C394.6 425.9 394.6 427.2 394.5 428.6C394.5 430 394.5 431.3 394.4 432.7C394.4 434 394.4 435.4 394.3 436.7C394.3 438.1 394.3 439.5 394.3 440.8C394.3 442.2 394.2 443.5 394.2 444.9C394.2 446.2 394.2 447.6 394.3 448.9C394.3 450.3 394.3 451.6 394.3 453C394.3 454.3 394.4 455.7 394.4 457C394.5 458.4 394.5 459.7 394.6 461.1C394.7 462.4 394.7 463.8 394.8 465.1C394.9 466.5 395 467.8 395.1 469.2C395.2 470.5 395.4 471.9 395.5 473.2C395.6 474.5 395.8 475.9 396 477.2C396.1 478.6 396.3 479.9 396.5 481.2C396.7 482.6 396.9 483.9 397.1 485.2C397.4 486.6 397.6 487.9 397.9 489.2C398.1 490.6 398.4 491.9 398.7 493.2C399 494.5 399.3 495.9 399.7 497.2C400 498.5 400.4 499.8 400.8 501.1C401.2 502.4 401.7 503.6 402.2 504.9C402.7 506.1 403.2 507.3 403.8 508.5C404.4 509.7 405 510.8 405.7 511.9C406.4 513 407.2 514.1 408 515.1C408.8 516.1 409.7 517.1 410.7 518C411.7 518.9 412.8 519.7 413.9 520.5C415 521.3 416.2 522 417.5 522.7C418.7 523.3 420 523.9 421.3 524.5C422.6 525 423.9 525.5 425.2 525.9C426.5 526.4 427.8 526.8 429.2 527.1C430.5 527.4 431.8 527.7 433.1 528C434.5 528.2 435.8 528.4 437.1 528.6C438.5 528.7 439.8 528.9 441.2 529C442.5 529.1 443.9 529.2 445.2 529.2C446.6 529.3 447.9 529.3 449.3 529.3C450.6 529.3 451.9 529.3 453.3 529.3C454.6 529.3 456 529.2 457.3 529.2C458.7 529.1 460 529.1 461.4 529C462.7 528.9 464.1 528.8 465.4 528.6C466.8 528.5 468.1 528.3 469.4 528.1C470.8 527.8 472.1 527.5 473.4 527.2C474.8 526.9 476.1 526.5 477.4 526.1C478.7 525.7 480 525.2 481.2 524.6C482.5 524.1 483.7 523.5 484.9 522.9C486 522.2 487.2 521.5 488.3 520.7C489.4 519.9 490.4 519.1 491.4 518.2C492.4 517.3 493.3 516.3 494.2 515.3C495 514.2 495.8 513.1 496.6 512C497.3 510.8 498 509.6 498.7 508.4C499.3 507.2 499.9 506 500.4 504.8C501 503.5 501.4 502.3 501.9 501C502.3 499.7 502.7 498.5 503.1 497.2C503.4 495.9 503.7 494.6 504 493.3C504.3 492 504.5 490.7 504.7 489.3C504.9 488 505 486.7 505.2 485.4C505.3 484 505.4 482.7 505.5 481.3C505.6 480 505.7 478.6 505.7 477.3C505.7 475.9 505.8 474.6 505.8 473.2C505.8 471.9 505.8 470.5 505.7 469.1C505.7 467.8 505.7 466.4 505.7 465C505.6 463.7 505.6 462.3 505.5 460.9C505.5 459.6 505.4 458.2 505.4 456.8C505.3 455.5 505.3 454.1 505.2 452.8C505.2 451.4 505.1 450 505.1 448.7C505 447.3 505 446 504.9 444.6C504.9 443.2 504.8 441.9 504.7 440.5C504.7 439.2 504.6 437.8 504.6 436.5C504.5 435.1 504.4 433.8 504.4 432.4C504.3 431.1 504.3 429.7 504.2 428.4C504.1 427 504.1 425.7 504 424.3C503.9 423 503.9 421.6 503.8 420.3C503.7 418.9 503.7 417.6 503.6 416.2C503.6 414.9 503.5 413.6 503.4 412.2C503.4 410.9 503.3 409.5 503.2 408.2C503.1 406.8 503.1 405.5 503 404.2C502.9 402.8 502.9 401.5 502.8 400.1C502.7 398.8 502.7 397.4 502.6 396.1C502.5 394.8 502.5 393.4 502.4 392.1C502.3 390.7 502.3 389.4 502.2 388C502.1 386.7 502.1 385.4 502 384C501.9 382.7 501.9 381.3 501.8 380C501.7 378.6 501.7 377.3 501.6 376C501.5 374.6 501.5 373.3 501.4 371.9C501.3 370.6 501.3 369.2 501.2 367.9C501.2 366.6 501.1 365.2 501 363.9C501 362.5 500.9 361.2 500.8 359.8C500.8 358.5 500.7 357.1 500.7 355.8C500.6 354.4 500.6 353.1 500.5 351.7C500.4 350.4 500.4 349 500.3 347.7C500.3 346.3 500.2 345 500.2 343.6C500.1 342.3 500.1 340.9 500 339.6C500 338.2 499.9 336.9 499.9 335.5C499.8 334.2 499.8 332.8 499.7 331.5C499.7 330.1 499.7 328.7 499.6 327.4C499.6 326 499.5 324 499.5 323.3Z" fill="#00BFFF"/>
<path d="M402.3 323.3C402.3 324 402.3 326 402.3 327.4C402.3 328.8 402.3 330.1 402.3 331.5C402.3 332.9 402.3 334.2 402.3 335.6C402.3 337 402.3 338.3 402.3 339.7C402.3 341 402.3 342.4 402.3 343.7C402.3 345.1 402.3 346.5 402.3 347.8C402.3 349.2 402.3 350.5 402.2 351.9C402.2 353.2 402.2 354.6 402.2 355.9C402.2 357.3 402.2 358.7 402.1 360C402.1 361.4 402.1 362.7 402.1 364.1C402.1 365.4 402.1 366.8 402 368.1C402 369.5 402 370.8 402 372.2C402 373.5 402 374.9 401.9 376.2C401.9 377.6 401.9 378.9 401.9 380.3C401.9 381.6 401.9 383 401.8 384.3C401.8 385.7 401.8 387 401.8 388.3C401.8 389.7 401.8 391 401.8 392.4C401.8 393.7 401.8 395.1 401.8 396.4C401.8 397.8 401.8 399.1 401.8 400.5C401.8 401.8 401.8 403.2 401.8 404.5C401.8 405.9 401.8 407.2 401.8 408.6C401.8 410 401.8 411.3 401.9 412.7C401.9 414 401.9 415.4 401.9 416.7C401.9 418.1 402 419.4 402 420.8C402 422.1 402.1 423.5 402.1 424.9C402.1 426.2 402.2 427.6 402.2 428.9C402.3 430.3 402.3 431.7 402.4 433C402.4 434.4 402.5 435.7 402.6 437.1C402.6 438.5 402.7 439.8 402.8 441.2C402.8 442.6 402.9 443.9 403 445.3C403.1 446.7 403.2 448.1 403.3 449.4C403.4 450.8 403.5 452.2 403.6 453.5C403.8 454.9 403.9 456.2 404.1 457.6C404.2 459 404.4 460.3 404.6 461.6C404.8 463 405.1 464.3 405.3 465.6C405.6 467 405.9 468.3 406.2 469.6C406.6 470.9 406.9 472.2 407.3 473.5C407.8 474.7 408.2 476 408.7 477.2C409.2 478.5 409.7 479.7 410.3 480.9C410.9 482.1 411.5 483.3 412.2 484.5C412.9 485.7 413.6 486.8 414.4 488C415.2 489.1 416 490.2 416.9 491.3C417.8 492.3 418.7 493.4 419.7 494.4C420.7 495.3 421.7 496.3 422.8 497.2C423.9 498 425 498.8 426.1 499.6C427.3 500.3 428.4 501 429.6 501.5C430.8 502.1 432 502.6 433.3 503C434.5 503.4 435.8 503.7 437.1 503.8C438.4 504 439.7 504.1 441 504C442.3 504 443.6 503.8 444.9 503.6C446.2 503.4 447.5 503.1 448.8 502.6C450 502.2 451.3 501.7 452.6 501.2C453.8 500.6 455 499.9 456.2 499.2C457.4 498.5 458.6 497.7 459.7 496.9C460.8 496 461.8 495.1 462.9 494.1C463.9 493.2 464.8 492.2 465.7 491.1C466.6 490.1 467.5 489 468.3 487.9C469.1 486.7 469.8 485.6 470.5 484.4C471.2 483.2 471.9 482 472.5 480.8C473.1 479.5 473.6 478.3 474.2 477.1C474.7 475.8 475.1 474.5 475.5 473.3C476 472 476.4 470.7 476.7 469.4C477.1 468.1 477.4 466.8 477.7 465.5C477.9 464.2 478.2 462.8 478.4 461.5C478.7 460.2 478.9 458.8 479 457.5C479.2 456.1 479.4 454.8 479.5 453.4C479.7 452.1 479.8 450.7 480 449.3C480.1 448 480.2 446.6 480.3 445.3C480.4 443.9 480.5 442.5 480.6 441.2C480.7 439.8 480.8 438.5 480.9 437.1C481 435.7 481.1 434.4 481.1 433C481.2 431.7 481.3 430.3 481.4 429C481.5 427.6 481.5 426.2 481.6 424.9C481.7 423.5 481.7 422.2 481.8 420.8C481.9 419.5 481.9 418.1 482 416.8C482 415.4 482.1 414 482.1 412.7C482.2 411.3 482.2 410 482.3 408.6C482.3 407.3 482.4 405.9 482.4 404.6C482.5 403.2 482.5 401.9 482.5 400.5C482.6 399.2 482.6 397.8 482.7 396.5C482.7 395.1 482.7 393.8 482.8 392.4C482.8 391 482.8 389.7 482.8 388.3C482.9 387 482.9 385.6 482.9 384.3C482.9 382.9 483 381.6 483 380.2C483 378.9 483 377.5 483.1 376.2C483.1 374.8 483.1 373.5 483.1 372.1C483.1 370.8 483.2 369.4 483.2 368.1C483.2 366.7 483.2 365.4 483.2 364C483.2 362.7 483.3 361.3 483.3 359.9C483.3 358.6 483.3 357.2 483.3 355.9C483.3 354.5 483.3 353.2 483.4 351.8C483.4 350.5 483.4 349.1 483.4 347.8C483.4 346.4 483.4 345 483.5 343.7C483.5 342.3 483.5 341 483.5 339.6C483.5 338.3 483.6 336.9 483.6 335.5C483.6 334.2 483.6 332.8 483.6 331.5C483.7 330.1 483.7 328.7 483.7 327.4C483.7 326 483.8 324 483.8 323.3Z" fill="#0050FF"/>
<path d="M408.5 323.3C408.5 324 408.6 326 408.6 327.3C408.6 328.7 408.6 330 408.7 331.4C408.7 332.8 408.7 334.1 408.7 335.5C408.7 336.8 408.7 338.2 408.8 339.5C408.8 340.9 408.8 342.3 408.8 343.6C408.8 345 408.8 346.4 408.8 347.7C408.8 349.1 408.8 350.5 408.8 351.8C408.8 353.2 408.8 354.6 408.8 355.9C408.8 357.3 408.8 358.7 408.8 360.1C408.8 361.4 408.9 362.8 408.9 364.2C408.9 365.5 408.9 366.9 408.9 368.3C408.9 369.7 408.9 371 408.9 372.4C409 373.8 409 375.1 409 376.5C409 377.9 409.1 379.3 409.1 380.6C409.1 382 409.1 383.4 409.2 384.7C409.2 386.1 409.3 387.5 409.3 388.9C409.4 390.2 409.4 391.6 409.5 393C409.6 394.3 409.6 395.7 409.7 397.1C409.8 398.4 409.8 399.8 409.9 401.1C410 402.5 410.1 403.9 410.2 405.2C410.3 406.6 410.4 407.9 410.5 409.3C410.7 410.6 410.8 412 410.9 413.4C411.1 414.7 411.2 416.1 411.4 417.4C411.5 418.7 411.7 420.1 411.8 421.4C412 422.8 412.2 424.1 412.4 425.5C412.6 426.8 412.8 428.1 413 429.5C413.2 430.8 413.4 432.1 413.7 433.4C413.9 434.8 414.2 436.1 414.4 437.4C414.7 438.7 415 440.1 415.3 441.4C415.6 442.7 416 444 416.4 445.3C416.8 446.6 417.2 447.9 417.7 449.2C418.2 450.6 418.7 451.9 419.3 453.2C419.9 454.5 420.6 455.8 421.3 457.1C422.1 458.3 422.9 459.6 423.7 460.7C424.6 461.8 425.6 462.9 426.6 463.8C427.6 464.7 428.7 465.5 429.9 466C431 466.6 432.2 466.9 433.4 467.1C434.6 467.2 435.8 467 436.9 466.7C438.1 466.3 439.2 465.7 440.3 465C441.4 464.3 442.5 463.4 443.6 462.5C444.6 461.5 445.6 460.4 446.5 459.3C447.4 458.2 448.3 457 449 455.8C449.8 454.6 450.5 453.4 451.2 452.2C451.9 451 452.4 449.7 453 448.5C453.6 447.2 454.1 445.9 454.6 444.7C455.1 443.4 455.6 442.1 456 440.8C456.4 439.5 456.8 438.2 457.2 436.9C457.6 435.6 457.9 434.3 458.3 433C458.6 431.7 458.9 430.4 459.2 429C459.5 427.7 459.8 426.4 460.1 425.1C460.4 423.7 460.6 422.4 460.9 421.1C461.1 419.7 461.4 418.4 461.6 417C461.8 415.7 462.1 414.4 462.3 413C462.5 411.7 462.7 410.3 462.9 409C463.1 407.6 463.3 406.3 463.5 404.9C463.7 403.6 463.9 402.2 464 400.9C464.2 399.5 464.4 398.2 464.5 396.8C464.7 395.5 464.8 394.1 465 392.8C465.1 391.4 465.3 390 465.4 388.7C465.5 387.3 465.6 386 465.8 384.6C465.9 383.2 466 381.9 466.1 380.5C466.2 379.2 466.3 377.8 466.4 376.4C466.5 375.1 466.6 373.7 466.7 372.3C466.8 371 466.9 369.6 467 368.2C467.1 366.9 467.2 365.5 467.2 364.2C467.3 362.8 467.4 361.4 467.5 360.1C467.5 358.7 467.6 357.3 467.7 356C467.8 354.6 467.8 353.2 467.9 351.9C468 350.5 468 349.1 468.1 347.8C468.2 346.4 468.2 345 468.3 343.7C468.4 342.3 468.4 341 468.5 339.6C468.6 338.2 468.6 336.9 468.7 335.5C468.7 334.2 468.8 332.8 468.9 331.4C468.9 330.1 469 328.7 469.1 327.4C469.2 326 469.3 324 469.3 323.3Z" fill="#0000EF"/>
<path d="M417 323.3C417 324 417.1 326.1 417.2 327.4C417.2 328.8 417.3 330.2 417.4 331.6C417.4 333 417.5 334.4 417.6 335.8C417.7 337.2 417.7 338.6 417.8 339.9C417.9 341.3 418 342.7 418.1 344.1C418.2 345.5 418.3 346.9 418.4 348.3C418.5 349.7 418.7 351.1 418.8 352.5C418.9 353.8 419.1 355.2 419.2 356.6C419.4 358 419.5 359.4 419.7 360.8C419.8 362.2 420 363.5 420.2 364.9C420.3 366.3 420.5 367.7 420.7 369C420.9 370.4 421.1 371.8 421.3 373.1C421.6 374.5 421.8 375.9 422 377.2C422.3 378.6 422.5 379.9 422.8 381.3C423 382.6 423.3 384 423.7 385.3C424 386.7 424.3 388 424.7 389.4C425.1 390.7 425.6 392.1 426.1 393.5C426.5 394.8 427.1 396.2 427.7 397.6C428.3 398.9 429 400.5 429.7 401.6C430.4 402.8 431.2 404 432.1 404.5C433 404.9 434 404.7 434.9 404.1C435.8 403.6 436.8 402.3 437.6 401.1C438.4 399.9 439 398.5 439.6 397.1C440.2 395.8 440.6 394.3 441 392.8C441.5 391.4 441.8 390 442.2 388.6C442.6 387.2 442.9 385.9 443.2 384.5C443.5 383.2 443.8 381.9 444.1 380.6C444.4 379.2 444.7 377.9 445 376.6C445.3 375.3 445.6 374 445.9 372.6C446.2 371.3 446.5 369.9 446.7 368.6C447 367.2 447.3 365.9 447.6 364.5C447.9 363.2 448.1 361.8 448.4 360.4C448.7 359.1 448.9 357.7 449.2 356.3C449.5 354.9 449.7 353.6 450 352.2C450.2 350.8 450.5 349.4 450.7 348C451 346.6 451.2 345.3 451.5 343.9C451.7 342.5 452 341.1 452.2 339.7C452.4 338.3 452.6 337 452.8 335.6C453.1 334.2 453.3 332.8 453.5 331.5C453.7 330.1 453.9 328.7 454.1 327.4C454.2 326 454.5 324 454.6 323.3Z" fill="#0000A0"/>
<g fill="none" stroke="#000" stroke-width="0.65" stroke-linejoin="round">
<path d="M391.6 323.3C391.6 324 391.6 326.2 391.5 327.6C391.5 329 391.5 330.5 391.5 331.9C391.4 333.3 391.4 334.8 391.4 336.2C391.3 337.7 391.3 339.1 391.3 340.5C391.3 342 391.2 343.4 391.2 344.8C391.2 346.3 391.1 347.7 391.1 349.1C391 350.6 391 352 391 353.5C390.9 354.9 390.9 356.3 390.8 357.8C390.8 359.2 390.7 360.6 390.7 362.1C390.7 363.5 390.6 364.9 390.6 366.4C390.5 367.8 390.5 369.2 390.4 370.7C390.3 372.1 390.3 373.6 390.2 375C390.2 376.4 390.1 377.9 390 379.3C390 380.7 389.9 382.2 389.8 383.6C389.8 385 389.7 386.5 389.6 387.9C389.6 389.3 389.5 390.8 389.4 392.2C389.3 393.6 389.2 395.1 389.2 396.5C389.1 397.9 389 399.4 388.9 400.8C388.8 402.2 388.7 403.7 388.6 405.1C388.5 406.5 388.4 408 388.3 409.4C388.2 410.8 388.1 412.3 388 413.7C387.9 415.1 387.8 417.3 387.7 418"/>
<path d="M387.7 503C387.8 503.8 388.1 506 388.5 507.5C388.8 509 389.1 510.5 389.6 512C390 513.4 390.5 514.9 391.1 516.3C391.6 517.7 392.2 519.1 392.9 520.4C393.6 521.8 394.3 523.1 395.1 524.3C395.9 525.6 396.8 526.8 397.7 528C398.6 529.2 399.6 530.3 400.6 531.4C401.7 532.4 402.8 533.4 404 534.4C405.1 535.3 406.4 536.2 407.7 537C409 537.8 411.1 538.8 411.8 539.2"/>
<path d="M396.7 323.3C396.7 324 396.6 326 396.6 327.4C396.6 328.7 396.5 330.1 396.5 331.4C396.5 332.8 396.5 334.1 396.4 335.5C396.4 336.8 396.4 338.2 396.4 339.6C396.3 340.9 396.3 342.3 396.3 343.6C396.3 345 396.2 346.3 396.2 347.7C396.2 349 396.2 350.4 396.2 351.7C396.1 353 396.1 354.4 396.1 355.7C396.1 357.1 396.1 358.4 396.1 359.8C396 361.1 396 362.5 396 363.8C396 365.2 396 366.5 395.9 367.9C395.9 369.2 395.9 370.6 395.9 371.9C395.9 373.2 395.9 374.6 395.8 375.9C395.8 377.3 395.8 378.6 395.8 380C395.8 381.3 395.7 382.7 395.7 384C395.7 385.4 395.7 386.7 395.6 388.1C395.6 389.4 395.6 390.8 395.6 392.1C395.5 393.4 395.5 394.8 395.5 396.1C395.5 397.5 395.4 398.8 395.4 400.2C395.4 401.5 395.3 402.9 395.3 404.2C395.3 405.6 395.2 406.9 395.2 408.3C395.1 409.6 395.1 411 395.1 412.3C395 413.7 395 415.1 394.9 416.4C394.9 417.8 394.8 419.1 394.8 420.5C394.7 421.8 394.7 423.2 394.7 424.5C394.6 425.9 394.6 427.2 394.5 428.6C394.5 430 394.5 431.3 394.4 432.7C394.4 434 394.4 435.4 394.3 436.7C394.3 438.1 394.3 439.5 394.3 440.8C394.3 442.2 394.2 443.5 394.2 444.9C394.2 446.2 394.2 447.6 394.3 448.9C394.3 450.3 394.3 451.6 394.3 453C394.3 454.3 394.4 455.7 394.4 457C394.5 458.4 394.5 459.7 394.6 461.1C394.7 462.4 394.7 463.8 394.8 465.1C394.9 466.5 395 467.8 395.1 469.2C395.2 470.5 395.4 471.9 395.5 473.2C395.6 474.5 395.8 475.9 396 477.2C396.1 478.6 396.3 479.9 396.5 481.2C396.7 482.6 396.9 483.9 397.1 485.2C397.4 486.6 397.6 487.9 397.9 489.2C398.1 490.6 398.4 491.9 398.7 493.2C399 494.5 399.3 495.9 399.7 497.2C400 498.5 400.4 499.8 400.8 501.1C401.2 502.4 401.7 503.6 402.2 504.9C402.7 506.1 403.2 507.3 403.8 508.5C404.4 509.7 405 510.8 405.7 511.9C406.4 513 407.2 514.1 408 515.1C408.8 516.1 409.7 517.1 410.7 518C411.7 518.9 412.8 519.7 413.9 520.5C415 521.3 416.2 522 417.5 522.7C418.7 523.3 420 523.9 421.3 524.5C422.6 525 423.9 525.5 425.2 525.9C426.5 526.4 427.8 526.8 429.2 527.1C430.5 527.4 431.8 527.7 433.1 528C434.5 528.2 435.8 528.4 437.1 528.6C438.5 528.7 439.8 528.9 441.2 529C442.5 529.1 443.9 529.2 445.2 529.2C446.6 529.3 447.9 529.3 449.3 529.3C450.6 529.3 451.9 529.3 453.3 529.3C454.6 529.3 456 529.2 457.3 529.2C458.7 529.1 460 529.1 461.4 529C462.7 528.9 464.1 528.8 465.4 528.6C466.8 528.5 468.1 528.3 469.4 528.1C470.8 527.8 472.1 527.5 473.4 527.2C474.8 526.9 476.1 526.5 477.4 526.1C478.7 525.7 480 525.2 481.2 524.6C482.5 524.1 483.7 523.5 484.9 522.9C486 522.2 487.2 521.5 488.3 520.7C489.4 519.9 490.4 519.1 491.4 518.2C492.4 517.3 493.3 516.3 494.2 515.3C495 514.2 495.8 513.1 496.6 512C497.3 510.8 498 509.6 498.7 508.4C499.3 507.2 499.9 506 500.4 504.8C501 503.5 501.4 502.3 501.9 501C502.3 499.7 502.7 498.5 503.1 497.2C503.4 495.9 503.7 494.6 504 493.3C504.3 492 504.5 490.7 504.7 489.3C504.9 488 505 486.7 505.2 485.4C505.3 484 505.4 482.7 505.5 481.3C505.6 480 505.7 478.6 505.7 477.3C505.7 475.9 505.8 474.6 505.8 473.2C505.8 471.9 505.8 470.5 505.7 469.1C505.7 467.8 505.7 466.4 505.7 465C505.6 463.7 505.6 462.3 505.5 460.9C505.5 459.6 505.4 458.2 505.4 456.8C505.3 455.5 505.3 454.1 505.2 452.8C505.2 451.4 505.1 450 505.1 448.7C505 447.3 505 446 504.9 444.6C504.9 443.2 504.8 441.9 504.7 440.5C504.7 439.2 504.6 437.8 504.6 436.5C504.5 435.1 504.4 433.8 504.4 432.4C504.3 431.1 504.3 429.7 504.2 428.4C504.1 427 504.1 425.7 504 424.3C503.9 423 503.9 421.6 503.8 420.3C503.7 418.9 503.7 417.6 503.6 416.2C503.6 414.9 503.5 413.6 503.4 412.2C503.4 410.9 503.3 409.5 503.2 408.2C503.1 406.8 503.1 405.5 503 404.2C502.9 402.8 502.9 401.5 502.8 400.1C502.7 398.8 502.7 397.4 502.6 396.1C502.5 394.8 502.5 393.4 502.4 392.1C502.3 390.7 502.3 389.4 502.2 388C502.1 386.7 502.1 385.4 502 384C501.9 382.7 501.9 381.3 501.8 380C501.7 378.6 501.7 377.3 501.6 376C501.5 374.6 501.5 373.3 501.4 371.9C501.3 370.6 501.3 369.2 501.2 367.9C501.2 366.6 501.1 365.2 501 363.9C501 362.5 500.9 361.2 500.8 359.8C500.8 358.5 500.7 357.1 500.7 355.8C500.6 354.4 500.6 353.1 500.5 351.7C500.4 350.4 500.4 349 500.3 347.7C500.3 346.3 500.2 345 500.2 343.6C500.1 342.3 500.1 340.9 500 339.6C500 338.2 499.9 336.9 499.9 335.5C499.8 334.2 499.8 332.8 499.7 331.5C499.7 330.1 499.7 328.7 499.6 327.4C499.6 326 499.5 324 499.5 323.3"/>
<path d="M402.3 323.3C402.3 324 402.3 326 402.3 327.4C402.3 328.8 402.3 330.1 402.3 331.5C402.3 332.9 402.3 334.2 402.3 335.6C402.3 337 402.3 338.3 402.3 339.7C402.3 341 402.3 342.4 402.3 343.7C402.3 345.1 402.3 346.5 402.3 347.8C402.3 349.2 402.3 350.5 402.2 351.9C402.2 353.2 402.2 354.6 402.2 355.9C402.2 357.3 402.2 358.7 402.1 360C402.1 361.4 402.1 362.7 402.1 364.1C402.1 365.4 402.1 366.8 402 368.1C402 369.5 402 370.8 402 372.2C402 373.5 402 374.9 401.9 376.2C401.9 377.6 401.9 378.9 401.9 380.3C401.9 381.6 401.9 383 401.8 384.3C401.8 385.7 401.8 387 401.8 388.3C401.8 389.7 401.8 391 401.8 392.4C401.8 393.7 401.8 395.1 401.8 396.4C401.8 397.8 401.8 399.1 401.8 400.5C401.8 401.8 401.8 403.2 401.8 404.5C401.8 405.9 401.8 407.2 401.8 408.6C401.8 410 401.8 411.3 401.9 412.7C401.9 414 401.9 415.4 401.9 416.7C401.9 418.1 402 419.4 402 420.8C402 422.1 402.1 423.5 402.1 424.9C402.1 426.2 402.2 427.6 402.2 428.9C402.3 430.3 402.3 431.7 402.4 433C402.4 434.4 402.5 435.7 402.6 437.1C402.6 438.5 402.7 439.8 402.8 441.2C402.8 442.6 402.9 443.9 403 445.3C403.1 446.7 403.2 448.1 403.3 449.4C403.4 450.8 403.5 452.2 403.6 453.5C403.8 454.9 403.9 456.2 404.1 457.6C404.2 459 404.4 460.3 404.6 461.6C404.8 463 405.1 464.3 405.3 465.6C405.6 467 405.9 468.3 406.2 469.6C406.6 470.9 406.9 472.2 407.3 473.5C407.8 474.7 408.2 476 408.7 477.2C409.2 478.5 409.7 479.7 410.3 480.9C410.9 482.1 411.5 483.3 412.2 484.5C412.9 485.7 413.6 486.8 414.4 488C415.2 489.1 416 490.2 416.9 491.3C417.8 492.3 418.7 493.4 419.7 494.4C420.7 495.3 421.7 496.3 422.8 497.2C423.9 498 425 498.8 426.1 499.6C427.3 500.3 428.4 501 429.6 501.5C430.8 502.1 432 502.6 433.3 503C434.5 503.4 435.8 503.7 437.1 503.8C438.4 504 439.7 504.1 441 504C442.3 504 443.6 503.8 444.9 503.6C446.2 503.4 447.5 503.1 448.8 502.6C450 502.2 451.3 501.7 452.6 501.2C453.8 500.6 455 499.9 456.2 499.2C457.4 498.5 458.6 497.7 459.7 496.9C460.8 496 461.8 495.1 462.9 494.1C463.9 493.2 464.8 492.2 465.7 491.1C466.6 490.1 467.5 489 468.3 487.9C469.1 486.7 469.8 485.6 470.5 484.4C471.2 483.2 471.9 482 472.5 480.8C473.1 479.5 473.6 478.3 474.2 477.1C474.7 475.8 475.1 474.5 475.5 473.3C476 472 476.4 470.7 476.7 469.4C477.1 468.1 477.4 466.8 477.7 465.5C477.9 464.2 478.2 462.8 478.4 461.5C478.7 460.2 478.9 458.8 479 457.5C479.2 456.1 479.4 454.8 479.5 453.4C479.7 452.1 479.8 450.7 480 449.3C480.1 448 480.2 446.6 480.3 445.3C480.4 443.9 480.5 442.5 480.6 441.2C480.7 439.8 480.8 438.5 480.9 437.1C481 435.7 481.1 434.4 481.1 433C481.2 431.7 481.3 430.3 481.4 429C481.5 427.6 481.5 426.2 481.6 424.9C481.7 423.5 481.7 422.2 481.8 420.8C481.9 419.5 481.9 418.1 482 416.8C482 415.4 482.1 414 482.1 412.7C482.2 411.3 482.2 410 482.3 408.6C482.3 407.3 482.4 405.9 482.4 404.6C482.5 403.2 482.5 401.9 482.5 400.5C482.6 399.2 482.6 397.8 482.7 396.5C482.7 395.1 482.7 393.8 482.8 392.4C482.8 391 482.8 389.7 482.8 388.3C482.9 387 482.9 385.6 482.9 384.3C482.9 382.9 483 381.6 483 380.2C483 378.9 483 377.5 483.1 376.2C483.1 374.8 483.1 373.5 483.1 372.1C483.1 370.8 483.2 369.4 483.2 368.1C483.2 366.7 483.2 365.4 483.2 364C483.2 362.7 483.3 361.3 483.3 359.9C483.3 358.6 483.3 357.2 483.3 355.9C483.3 354.5 483.3 353.2 483.4 351.8C483.4 350.5 483.4 349.1 483.4 347.8C483.4 346.4 483.4 345 483.5 343.7C483.5 342.3 483.5 341 483.5 339.6C483.5 338.3 483.6 336.9 483.6 335.5C483.6 334.2 483.6 332.8 483.6 331.5C483.7 330.1 483.7 328.7 483.7 327.4C483.7 326 483.8 324 483.8 323.3"/>
<path d="M408.5 323.3C408.5 324 408.6 326 408.6 327.3C408.6 328.7 408.6 330 408.7 331.4C408.7 332.8 408.7 334.1 408.7 335.5C408.7 336.8 408.7 338.2 408.8 339.5C408.8 340.9 408.8 342.3 408.8 343.6C408.8 345 408.8 346.4 408.8 347.7C408.8 349.1 408.8 350.5 408.8 351.8C408.8 353.2 408.8 354.6 408.8 355.9C408.8 357.3 408.8 358.7 408.8 360.1C408.8 361.4 408.9 362.8 408.9 364.2C408.9 365.5 408.9 366.9 408.9 368.3C408.9 369.7 408.9 371 408.9 372.4C409 373.8 409 375.1 409 376.5C409 377.9 409.1 379.3 409.1 380.6C409.1 382 409.1 383.4 409.2 384.7C409.2 386.1 409.3 387.5 409.3 388.9C409.4 390.2 409.4 391.6 409.5 393C409.6 394.3 409.6 395.7 409.7 397.1C409.8 398.4 409.8 399.8 409.9 401.1C410 402.5 410.1 403.9 410.2 405.2C410.3 406.6 410.4 407.9 410.5 409.3C410.7 410.6 410.8 412 410.9 413.4C411.1 414.7 411.2 416.1 411.4 417.4C411.5 418.7 411.7 420.1 411.8 421.4C412 422.8 412.2 424.1 412.4 425.5C412.6 426.8 412.8 428.1 413 429.5C413.2 430.8 413.4 432.1 413.7 433.4C413.9 434.8 414.2 436.1 414.4 437.4C414.7 438.7 415 440.1 415.3 441.4C415.6 442.7 416 444 416.4 445.3C416.8 446.6 417.2 447.9 417.7 449.2C418.2 450.6 418.7 451.9 419.3 453.2C419.9 454.5 420.6 455.8 421.3 457.1C422.1 458.3 422.9 459.6 423.7 460.7C424.6 461.8 425.6 462.9 426.6 463.8C427.6 464.7 428.7 465.5 429.9 466C431 466.6 432.2 466.9 433.4 467.1C434.6 467.2 435.8 467 436.9 466.7C438.1 466.3 439.2 465.7 440.3 465C441.4 464.3 442.5 463.4 443.6 462.5C444.6 461.5 445.6 460.4 446.5 459.3C447.4 458.2 448.3 457 449 455.8C449.8 454.6 450.5 453.4 451.2 452.2C451.9 451 452.4 449.7 453 448.5C453.6 447.2 454.1 445.9 454.6 444.7C455.1 443.4 455.6 442.1 456 440.8C456.4 439.5 456.8 438.2 457.2 436.9C457.6 435.6 457.9 434.3 458.3 433C458.6 431.7 458.9 430.4 459.2 429C459.5 427.7 459.8 426.4 460.1 425.1C460.4 423.7 460.6 422.4 460.9 421.1C461.1 419.7 461.4 418.4 461.6 417C461.8 415.7 462.1 414.4 462.3 413C462.5 411.7 462.7 410.3 462.9 409C463.1 407.6 463.3 406.3 463.5 404.9C463.7 403.6 463.9 402.2 464 400.9C464.2 399.5 464.4 398.2 464.5 396.8C464.7 395.5 464.8 394.1 465 392.8C465.1 391.4 465.3 390 465.4 388.7C465.5 387.3 465.6 386 465.8 384.6C465.9 383.2 466 381.9 466.1 380.5C466.2 379.2 466.3 377.8 466.4 376.4C466.5 375.1 466.6 373.7 466.7 372.3C466.8 371 466.9 369.6 467 368.2C467.1 366.9 467.2 365.5 467.2 364.2C467.3 362.8 467.4 361.4 467.5 360.1C467.5 358.7 467.6 357.3 467.7 356C467.8 354.6 467.8 353.2 467.9 351.9C468 350.5 468 349.1 468.1 347.8C468.2 346.4 468.2 345 468.3 343.7C468.4 342.3 468.4 341 468.5 339.6C468.6 338.2 468.6 336.9 468.7 335.5C468.7 334.2 468.8 332.8 468.9 331.4C468.9 330.1 469 328.7 469.1 327.4C469.2 326 469.3 324 469.3 323.3"/>
<path d="M417 323.3C417 324 417.1 326.1 417.2 327.4C417.2 328.8 417.3 330.2 417.4 331.6C417.4 333 417.5 334.4 417.6 335.8C417.7 337.2 417.7 338.6 417.8 339.9C417.9 341.3 418 342.7 418.1 344.1C418.2 345.5 418.3 346.9 418.4 348.3C418.5 349.7 418.7 351.1 418.8 352.5C418.9 353.8 419.1 355.2 419.2 356.6C419.4 358 419.5 359.4 419.7 360.8C419.8 362.2 420 363.5 420.2 364.9C420.3 366.3 420.5 367.7 420.7 369C420.9 370.4 421.1 371.8 421.3 373.1C421.6 374.5 421.8 375.9 422 377.2C422.3 378.6 422.5 379.9 422.8 381.3C423 382.6 423.3 384 423.7 385.3C424 386.7 424.3 388 424.7 389.4C425.1 390.7 425.6 392.1 426.1 393.5C426.5 394.8 427.1 396.2 427.7 397.6C428.3 398.9 429 400.5 429.7 401.6C430.4 402.8 431.2 404 432.1 404.5C433 404.9 434 404.7 434.9 404.1C435.8 403.6 436.8 402.3 437.6 401.1C438.4 399.9 439 398.5 439.6 397.1C440.2 395.8 440.6 394.3 441 392.8C441.5 391.4 441.8 390 442.2 388.6C442.6 387.2 442.9 385.9 443.2 384.5C443.5 383.2 443.8 381.9 444.1 380.6C444.4 379.2 444.7 377.9 445 376.6C445.3 375.3 445.6 374 445.9 372.6C446.2 371.3 446.5 369.9 446.7 368.6C447 367.2 447.3 365.9 447.6 364.5C447.9 363.2 448.1 361.8 448.4 360.4C448.7 359.1 448.9 357.7 449.2 356.3C449.5 354.9 449.7 353.6 450 352.2C450.2 350.8 450.5 349.4 450.7 348C451 346.6 451.2 345.3 451.5 343.9C451.7 342.5 452 341.1 452.2 339.7C452.4 338.3 452.6 337 452.8 335.6C453.1 334.2 453.3 332.8 453.5 331.5C453.7 330.1 453.9 328.7 454.1 327.4C454.2 326 454.5 324 454.6 323.3"/>
<path d="M518.4 323.3C518.5 324 518.7 326 518.8 327.4C519 328.7 519.1 330.1 519.3 331.4C519.4 332.8 519.6 334.2 519.7 335.5C519.9 336.9 520 338.3 520.1 339.6C520.3 341 520.4 342.4 520.5 343.7C520.7 345.1 520.8 346.5 521 347.8C521.1 349.2 521.2 350.6 521.4 351.9C521.5 353.3 521.7 354.7 521.8 356.1C521.9 357.4 522.1 358.8 522.2 360.2C522.4 361.6 522.5 362.9 522.7 364.3C522.8 365.7 523 367.1 523.1 368.4C523.3 369.8 523.4 371.2 523.6 372.6C523.7 373.9 523.9 375.3 524.1 376.7C524.2 378.1 524.4 379.4 524.6 380.8C524.7 382.2 524.9 383.5 525.1 384.9C525.3 386.3 525.5 387.6 525.7 389C525.9 390.4 526.1 391.7 526.3 393.1C526.5 394.5 526.7 395.8 526.9 397.2C527.1 398.5 527.3 399.9 527.6 401.3C527.8 402.6 528 404 528.3 405.3C528.5 406.7 528.8 408 529 409.4C529.3 410.7 529.5 412 529.8 413.4C530.1 414.7 530.4 416.1 530.7 417.4C530.9 418.7 531.2 420.1 531.5 421.4C531.9 422.7 532.2 424.1 532.5 425.4C532.8 426.7 533.1 428 533.4 429.4C533.8 430.7 534.1 432 534.4 433.3C534.8 434.7 535.1 436 535.5 437.3C535.8 438.6 536.2 440 536.6 441.3C536.9 442.6 537.3 443.9 537.7 445.2C538 446.6 538.4 447.9 538.8 449.2C539.2 450.5 539.6 451.8 540 453.2C540.4 454.5 540.8 455.8 541.2 457.1C541.6 458.5 542 459.8 542.4 461.1C542.8 462.4 543.2 463.8 543.6 465.1C544 466.4 544.4 467.7 544.8 469.1C545.2 470.4 545.7 471.7 546.1 473.1C546.5 474.4 546.9 475.7 547.3 477.1C547.6 478.4 548 479.8 548.4 481.1C548.8 482.4 549.1 483.8 549.5 485.1C549.8 486.5 550.1 487.8 550.4 489.1C550.8 490.5 551 491.8 551.3 493.2C551.6 494.5 551.8 495.9 552.1 497.2C552.3 498.6 552.5 499.9 552.6 501.3C552.8 502.6 552.9 504 553.1 505.3C553.2 506.7 553.2 508 553.3 509.4C553.3 510.8 553.3 512.1 553.3 513.5C553.2 514.8 553.2 516.2 553.1 517.5C553 518.9 552.8 520.3 552.6 521.6C552.4 523 552.2 524.4 551.8 525.7C551.4 527 551 528.3 550.4 529.5C549.8 530.8 549.1 532 548.2 533.1C547.4 534.2 546.2 535.1 545.2 536.2C544.3 537.2 543 538.7 542.5 539.2"/>
<path d="M542.6 323.3C542.7 324 543.1 326 543.4 327.3C543.7 328.6 543.9 330 544.2 331.3C544.5 332.6 544.7 334 545 335.3C545.3 336.6 545.5 338 545.8 339.3C546.1 340.6 546.4 342 546.6 343.3C546.9 344.6 547.2 346 547.5 347.3C547.7 348.7 548 350 548.3 351.3C548.6 352.7 548.9 354 549.2 355.3C549.4 356.7 549.7 358 550 359.3C550.3 360.7 550.6 362 550.9 363.3C551.2 364.7 551.6 366 551.9 367.3C552.2 368.7 552.5 370 552.8 371.3C553.1 372.6 553.5 374 553.8 375.3C554.1 376.6 554.5 377.9 554.8 379.3C555.2 380.6 555.5 381.9 555.9 383.2C556.2 384.5 556.6 385.8 557 387.2C557.3 388.5 557.7 389.8 558.1 391.1C558.5 392.4 558.9 393.7 559.3 395C559.7 396.3 560.1 397.6 560.5 398.9C560.9 400.2 561.3 401.5 561.8 402.8C562.2 404.1 562.6 405.3 563.1 406.6C563.5 407.9 564 409.2 564.5 410.5C564.9 411.7 565.4 413 565.9 414.3C566.4 415.5 566.9 416.8 567.4 418.1C567.9 419.3 568.4 420.6 569 421.8C569.5 423.1 570.1 424.3 570.6 425.6C571.2 426.8 571.7 428.1 572.3 429.3C572.9 430.5 573.5 431.7 574.1 433C574.7 434.2 575.3 435.4 575.9 436.6C576.5 437.8 577.1 439.1 577.8 440.3C578.4 441.5 579.1 442.7 579.7 443.9C580.4 445.1 581 446.3 581.7 447.4C582.4 448.6 583.1 449.8 583.7 451C584.4 452.2 585.1 453.4 585.8 454.5C586.5 455.7 587.2 456.9 587.9 458.1C588.6 459.2 589.3 460.4 590 461.6C590.7 462.7 591.4 463.9 592.2 465C592.9 466.2 593.6 467.3 594.4 468.5C595.1 469.6 595.9 470.7 596.6 471.9C597.4 473 598.1 474.1 598.9 475.2C599.7 476.3 600.5 477.4 601.3 478.5C602.1 479.6 603 480.6 603.8 481.7C604.6 482.8 605.5 483.8 606.4 484.8C607.3 485.9 608.2 486.9 609.1 487.9C610 488.9 610.9 489.9 611.9 490.9C612.8 491.9 613.8 492.8 614.7 493.8C615.7 494.7 616.7 495.7 617.7 496.6C618.7 497.6 619.7 498.5 620.7 499.4C621.7 500.3 622.7 501.2 623.8 502.1C624.8 503 625.8 503.9 626.9 504.8C627.9 505.7 629 506.6 630 507.5C631.1 508.3 632.1 509.2 633.2 510.1C634.2 511 635.3 511.8 636.3 512.7C637.3 513.6 638.4 514.5 639.4 515.4C640.5 516.2 642 517.6 642.5 518"/>
<path d="M579.5 323.3C579.8 323.9 580.6 325.9 581.1 327.2C581.7 328.5 582.2 329.8 582.7 331.1C583.3 332.4 583.8 333.7 584.4 335C584.9 336.3 585.4 337.6 586 338.9C586.5 340.2 587 341.6 587.6 342.9C588.1 344.2 588.6 345.5 589.2 346.8C589.7 348.1 590.3 349.4 590.8 350.7C591.3 352.1 591.9 353.4 592.4 354.7C593 356 593.5 357.3 594.1 358.6C594.6 359.9 595.2 361.2 595.8 362.5C596.3 363.8 596.9 365.1 597.5 366.4C598.1 367.7 598.7 369 599.2 370.3C599.8 371.6 600.4 372.9 601 374.2C601.6 375.5 602.3 376.7 602.9 378C603.5 379.3 604.1 380.5 604.8 381.8C605.4 383.1 606.1 384.3 606.7 385.6C607.4 386.8 608 388.1 608.7 389.3C609.4 390.5 610.1 391.8 610.8 393C611.5 394.2 612.2 395.4 612.9 396.6C613.7 397.8 614.4 399 615.1 400.2C615.9 401.4 616.7 402.6 617.4 403.8C618.2 404.9 619 406.1 619.8 407.2C620.6 408.4 621.4 409.5 622.3 410.6C623.1 411.8 624 412.9 624.9 414C625.7 415.1 626.6 416.2 627.5 417.3C628.4 418.4 629.3 419.4 630.3 420.5C631.2 421.5 632.2 422.6 633.2 423.6C634.1 424.6 635.1 425.7 636.2 426.7C637.2 427.7 638.2 428.7 639.3 429.6C640.3 430.6 642 432 642.5 432.5"/>
</g></g>
<rect x="388.5" y="324" width="253.3" height="214.4" fill="none" stroke="#808080" stroke-width="0.9"/>
<path d="M430.4 538.4v-3M430.4 324v3M388.5 502.9h3M641.8 502.9h-3M472.8 538.4v-3M472.8 324v3M388.5 467h3M641.8 467h-3M515.3 538.4v-3M515.3 324v3M388.5 431h3M641.8 431h-3M557.7 538.4v-3M557.7 324v3M388.5 395.1h3M641.8 395.1h-3M600.2 538.4v-3M600.2 324v3M388.5 359.2h3M641.8 359.2h-3" stroke="#333" stroke-width="0.7" fill="none"/>
<g class="tl"><text x="430.4" y="556.4" text-anchor="middle">0.5</text><text x="384.2" y="508.3" text-anchor="end">0.5</text><text x="472.8" y="556.4" text-anchor="middle">1</text><text x="384.2" y="472.4" text-anchor="end">1</text><text x="515.3" y="556.4" text-anchor="middle">1.5</text><text x="384.2" y="436.4" text-anchor="end">1.5</text><text x="557.7" y="556.4" text-anchor="middle">2</text><text x="384.2" y="400.5" text-anchor="end">2</text><text x="600.2" y="556.4" text-anchor="middle">2.5</text><text x="384.2" y="364.6" text-anchor="end">2.5</text></g>
<text class="al" x="515.1" y="573.4" text-anchor="middle"><tspan font-style="italic">&#963;</tspan><tspan font-size="11" dy="3">1</tspan><tspan font-style="italic" dy="-3">&#951;</tspan><tspan font-size="11" dy="3">0</tspan></text>
<text class="al" transform="translate(358.2 432.2) rotate(-90)" text-anchor="middle"><tspan font-style="italic">&#963;</tspan><tspan font-size="11" dy="3">2</tspan><tspan font-style="italic" dy="-3">&#951;</tspan><tspan font-size="11" dy="3">0</tspan></text>
<rect x="648.8" y="324" width="14.6" height="214.4" fill="url(#jetg)"/>
<rect x="648.8" y="324" width="14.6" height="214.4" fill="none" stroke="#6e6e6e" stroke-width="0.8"/>
<path d="M663.4 538.4h-2.5M663.4 495.5h-2.5M663.4 452.6h-2.5M663.4 409.8h-2.5M663.4 366.9h-2.5M663.4 324h-2.5" stroke="#444" stroke-width="0.6" fill="none"/>
<g class="cbl"><text x="667.8" y="543.4">0.4</text><text x="667.8" y="500.5">0.6</text><text x="667.8" y="457.6">0.8</text><text x="667.8" y="414.8">1</text><text x="667.8" y="371.9">1.2</text><text x="667.8" y="329">1.4</text></g>
<text class="cap" x="166.4" y="294" text-anchor="middle">(a)</text><text class="cap" x="514.1" y="294" text-anchor="middle">(b)</text><text class="cap" x="167.6" y="612.5" text-anchor="middle">(c)</text><text class="cap" x="516.1" y="612.5" text-anchor="middle">(d)</text>
</svg>
</body></html>
